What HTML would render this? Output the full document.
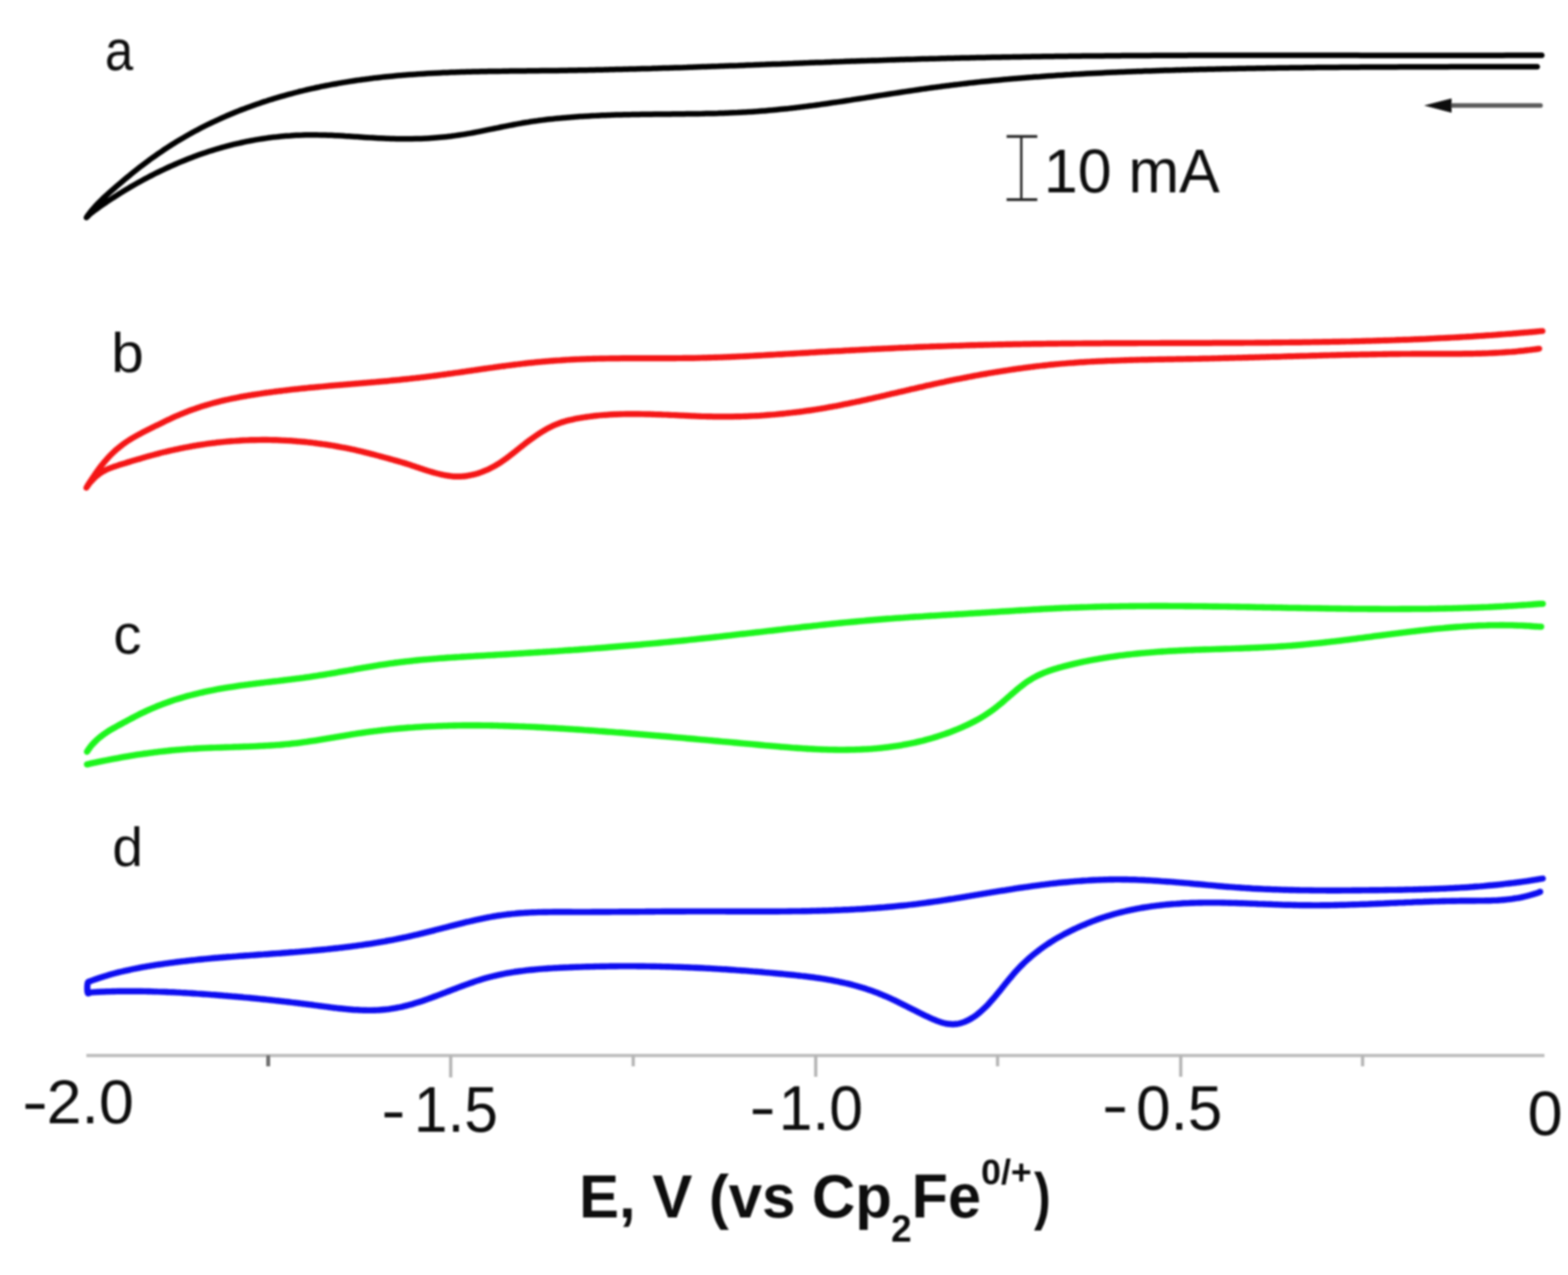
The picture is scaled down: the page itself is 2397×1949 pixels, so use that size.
<!DOCTYPE html>
<html><head><meta charset="utf-8"><title>CV figure</title>
<style>
html,body{margin:0;padding:0;background:#fff;}
body{width:2397px;height:1949px;overflow:hidden;}
svg{display:block;}
text{font-family:'Liberation Sans', Arial, sans-serif;}
</style></head>
<body>
<svg xmlns="http://www.w3.org/2000/svg" width="2397" height="1949" viewBox="0 0 2397 1949">
<defs><filter id="soft" x="-1%" y="-1%" width="102%" height="102%"><feGaussianBlur stdDeviation="1.6"/></filter></defs>
<rect x="0" y="0" width="2397" height="1949" fill="#ffffff"/>
<g filter="url(#soft)">
<!-- curves -->
<path d="M2357.0,84.5C2356.0,84.5 2353.0,84.5 2351.0,84.5C2349.0,84.5 2347.0,84.5 2345.0,84.5C2343.0,84.5 2341.0,84.5 2339.0,84.5C2337.0,84.5 2335.0,84.5 2333.0,84.6C2331.0,84.6 2329.0,84.6 2327.0,84.6C2325.0,84.6 2323.0,84.6 2321.0,84.6C2319.0,84.6 2317.0,84.6 2315.0,84.6C2313.0,84.6 2311.0,84.6 2309.0,84.6C2307.0,84.6 2305.0,84.6 2303.0,84.6C2301.0,84.7 2299.0,84.7 2297.0,84.7C2295.0,84.7 2293.0,84.7 2291.0,84.7C2289.0,84.7 2287.0,84.7 2285.0,84.7C2283.0,84.7 2281.0,84.7 2279.0,84.7C2277.0,84.7 2275.0,84.7 2273.0,84.7C2271.0,84.7 2269.0,84.7 2267.0,84.7C2265.0,84.7 2263.0,84.7 2261.0,84.7C2259.0,84.7 2257.0,84.7 2255.0,84.7C2253.0,84.7 2251.0,84.7 2249.1,84.7C2247.1,84.7 2245.1,84.7 2243.1,84.7C2241.1,84.7 2239.1,84.7 2237.1,84.7C2235.1,84.8 2233.1,84.8 2231.1,84.8C2229.1,84.8 2227.1,84.8 2225.1,84.8C2223.1,84.8 2221.1,84.8 2219.1,84.8C2217.1,84.8 2215.1,84.8 2213.1,84.8C2211.1,84.8 2209.1,84.8 2207.1,84.8C2205.1,84.8 2203.1,84.8 2201.1,84.8C2199.1,84.8 2197.1,84.8 2195.1,84.8C2193.1,84.8 2191.1,84.8 2189.1,84.8C2187.1,84.8 2185.1,84.8 2183.1,84.8C2181.1,84.8 2179.1,84.8 2177.1,84.8C2175.1,84.8 2173.1,84.8 2171.1,84.7C2169.1,84.7 2167.1,84.7 2165.1,84.7C2163.1,84.7 2161.1,84.7 2159.1,84.7C2157.1,84.7 2155.1,84.7 2153.1,84.7C2151.1,84.7 2149.1,84.7 2147.1,84.7C2145.1,84.7 2143.1,84.7 2141.1,84.7C2139.1,84.7 2137.1,84.7 2135.1,84.7C2133.1,84.7 2131.1,84.7 2129.1,84.7C2127.1,84.7 2125.1,84.7 2123.1,84.7C2121.1,84.7 2119.1,84.7 2117.1,84.7C2115.1,84.7 2113.1,84.7 2111.1,84.7C2109.1,84.7 2107.1,84.7 2105.1,84.7C2103.1,84.7 2101.1,84.7 2099.1,84.7C2097.1,84.7 2095.1,84.7 2093.1,84.7C2091.1,84.7 2089.1,84.7 2087.1,84.7C2085.1,84.7 2083.1,84.7 2081.1,84.7C2079.1,84.7 2077.1,84.7 2075.1,84.6C2073.1,84.6 2071.1,84.6 2069.1,84.6C2067.1,84.6 2065.1,84.6 2063.1,84.6C2061.1,84.6 2059.1,84.6 2057.1,84.6C2055.1,84.6 2053.1,84.6 2051.1,84.6C2049.1,84.6 2047.1,84.6 2045.1,84.6C2043.1,84.6 2041.1,84.6 2039.1,84.6C2037.1,84.6 2035.1,84.6 2033.1,84.6C2031.1,84.6 2029.1,84.6 2027.1,84.6C2025.2,84.6 2023.2,84.6 2021.2,84.6C2019.2,84.6 2017.2,84.6 2015.2,84.6C2013.2,84.6 2011.2,84.6 2009.2,84.6C2007.2,84.6 2005.2,84.6 2003.2,84.6C2001.2,84.6 1999.2,84.6 1997.2,84.5C1995.2,84.5 1993.2,84.5 1991.2,84.5C1989.2,84.5 1987.2,84.5 1985.2,84.5C1983.2,84.5 1981.2,84.5 1979.2,84.5C1977.2,84.5 1975.2,84.5 1973.2,84.5C1971.2,84.5 1969.2,84.5 1967.2,84.5C1965.2,84.5 1963.2,84.5 1961.2,84.5C1959.2,84.5 1957.2,84.5 1955.2,84.5C1953.2,84.5 1951.2,84.5 1949.2,84.5C1947.2,84.5 1945.2,84.5 1943.2,84.5C1941.2,84.5 1939.2,84.5 1937.2,84.5C1935.2,84.5 1933.2,84.5 1931.2,84.5C1929.2,84.5 1927.2,84.5 1925.2,84.5C1923.2,84.5 1921.2,84.5 1919.2,84.5C1917.2,84.5 1915.2,84.5 1913.2,84.5C1911.2,84.5 1909.2,84.5 1907.2,84.5C1905.2,84.5 1903.2,84.5 1901.2,84.5C1899.2,84.5 1897.2,84.5 1895.2,84.5C1893.2,84.5 1891.2,84.5 1889.2,84.5C1887.2,84.5 1885.2,84.5 1883.2,84.5C1881.2,84.5 1879.2,84.5 1877.2,84.5C1875.2,84.5 1873.2,84.5 1871.2,84.5C1869.2,84.5 1867.2,84.5 1865.2,84.5C1863.2,84.5 1861.2,84.5 1859.2,84.6C1857.2,84.6 1855.2,84.6 1853.2,84.6C1851.2,84.6 1849.2,84.6 1847.2,84.6C1845.2,84.6 1843.2,84.6 1841.2,84.6C1839.2,84.6 1837.2,84.6 1835.2,84.6C1833.2,84.6 1831.2,84.6 1829.2,84.6C1827.2,84.6 1825.2,84.6 1823.2,84.6C1821.2,84.6 1819.2,84.6 1817.2,84.6C1815.2,84.6 1813.2,84.7 1811.2,84.7C1809.2,84.7 1807.2,84.7 1805.2,84.7C1803.3,84.7 1801.3,84.7 1799.3,84.7C1797.3,84.7 1795.3,84.7 1793.3,84.7C1791.3,84.7 1789.3,84.7 1787.3,84.7C1785.3,84.7 1783.3,84.8 1781.3,84.8C1779.3,84.8 1777.3,84.8 1775.3,84.8C1773.3,84.8 1771.3,84.8 1769.3,84.8C1767.3,84.8 1765.3,84.8 1763.3,84.8C1761.3,84.9 1759.3,84.9 1757.3,84.9C1755.3,84.9 1753.3,84.9 1751.3,84.9C1749.3,84.9 1747.3,84.9 1745.3,84.9C1743.3,85.0 1741.3,85.0 1739.3,85.0C1737.3,85.0 1735.3,85.0 1733.3,85.0C1731.3,85.0 1729.3,85.0 1727.3,85.0C1725.3,85.1 1723.3,85.1 1721.3,85.1C1719.3,85.1 1717.3,85.1 1715.3,85.1C1713.3,85.1 1711.3,85.2 1709.3,85.2C1707.3,85.2 1705.3,85.2 1703.3,85.2C1701.3,85.2 1699.3,85.2 1697.3,85.3C1695.3,85.3 1693.3,85.3 1691.3,85.3C1689.3,85.3 1687.3,85.3 1685.3,85.4C1683.3,85.4 1681.3,85.4 1679.3,85.4C1677.3,85.4 1675.3,85.4 1673.3,85.5C1671.3,85.5 1669.3,85.5 1667.3,85.5C1665.3,85.5 1663.3,85.6 1661.3,85.6C1659.3,85.6 1657.3,85.6 1655.3,85.6C1653.3,85.7 1651.3,85.7 1649.3,85.7C1647.3,85.7 1645.3,85.7 1643.3,85.8C1641.3,85.8 1639.3,85.8 1637.3,85.8C1635.3,85.8 1633.3,85.9 1631.3,85.9C1629.3,85.9 1627.3,85.9 1625.3,86.0C1623.3,86.0 1621.3,86.0 1619.3,86.0C1617.3,86.1 1615.3,86.1 1613.3,86.1C1611.3,86.1 1609.3,86.2 1607.3,86.2C1605.3,86.2 1603.3,86.2 1601.3,86.3C1599.3,86.3 1597.3,86.3 1595.3,86.3C1593.3,86.4 1591.3,86.4 1589.3,86.4C1587.3,86.5 1585.3,86.5 1583.3,86.5C1581.3,86.5 1579.4,86.6 1577.4,86.6C1575.4,86.6 1573.4,86.7 1571.4,86.7C1569.4,86.7 1567.4,86.8 1565.4,86.8C1563.4,86.8 1561.4,86.8 1559.4,86.9C1557.4,86.9 1555.4,86.9 1553.4,87.0C1551.4,87.0 1549.4,87.0 1547.4,87.1C1545.4,87.1 1543.4,87.1 1541.4,87.2C1539.4,87.2 1537.4,87.3 1535.4,87.3C1533.4,87.3 1531.4,87.4 1529.4,87.4C1527.4,87.4 1525.4,87.5 1523.4,87.5C1521.4,87.5 1519.4,87.6 1517.4,87.6C1515.4,87.7 1513.4,87.7 1511.4,87.7C1509.4,87.8 1507.4,87.8 1505.4,87.9C1503.4,87.9 1501.4,87.9 1499.4,88.0C1497.4,88.0 1495.4,88.1 1493.4,88.1C1491.4,88.1 1489.4,88.2 1487.4,88.2C1485.4,88.3 1483.4,88.3 1481.4,88.4C1479.4,88.4 1477.4,88.4 1475.4,88.5C1473.4,88.5 1471.4,88.6 1469.4,88.6C1467.4,88.7 1465.4,88.7 1463.4,88.8C1461.4,88.8 1459.4,88.9 1457.4,88.9C1455.4,88.9 1453.4,89.0 1451.4,89.0C1449.4,89.1 1447.4,89.1 1445.4,89.2C1443.4,89.2 1441.4,89.3 1439.4,89.3C1437.4,89.4 1435.4,89.4 1433.4,89.5C1431.4,89.5 1429.4,89.6 1427.4,89.7C1425.4,89.7 1423.4,89.8 1421.4,89.8C1419.4,89.9 1417.4,89.9 1415.4,90.0C1413.4,90.0 1411.4,90.1 1409.4,90.1C1407.4,90.2 1405.4,90.3 1403.4,90.3C1401.4,90.4 1399.4,90.4 1397.4,90.5C1395.4,90.5 1393.4,90.6 1391.4,90.7C1389.4,90.7 1387.4,90.8 1385.4,90.8C1383.4,90.9 1381.4,91.0 1379.4,91.0C1377.4,91.1 1375.4,91.1 1373.4,91.2C1371.4,91.3 1369.4,91.3 1367.4,91.4C1365.4,91.5 1363.4,91.5 1361.4,91.6C1359.4,91.6 1357.5,91.7 1355.5,91.8C1353.5,91.8 1351.5,91.9 1349.5,92.0C1347.5,92.0 1345.5,92.1 1343.5,92.2C1341.5,92.2 1339.5,92.3 1337.5,92.4C1335.5,92.4 1333.5,92.5 1331.5,92.6C1329.5,92.6 1327.5,92.7 1325.5,92.8C1323.5,92.8 1321.5,92.9 1319.5,93.0C1317.5,93.1 1315.5,93.1 1313.5,93.2C1311.5,93.3 1309.5,93.3 1307.5,93.4C1305.5,93.5 1303.5,93.5 1301.5,93.6C1299.5,93.7 1297.5,93.8 1295.5,93.8C1293.5,93.9 1291.5,94.0 1289.5,94.1C1287.5,94.1 1285.5,94.2 1283.5,94.3C1281.5,94.3 1279.5,94.4 1277.5,94.5C1275.5,94.6 1273.5,94.6 1271.5,94.7C1269.5,94.8 1267.5,94.9 1265.5,94.9C1263.5,95.0 1261.5,95.1 1259.5,95.2C1257.5,95.2 1255.5,95.3 1253.5,95.4C1251.5,95.5 1249.5,95.5 1247.5,95.6C1245.5,95.7 1243.5,95.8 1241.5,95.8C1239.5,95.9 1237.5,96.0 1235.5,96.1C1233.5,96.1 1231.5,96.2 1229.5,96.3C1227.5,96.4 1225.5,96.4 1223.5,96.5C1221.5,96.6 1219.5,96.7 1217.5,96.7C1215.5,96.8 1213.5,96.9 1211.5,97.0C1209.5,97.0 1207.5,97.1 1205.5,97.2C1203.5,97.3 1201.5,97.4 1199.5,97.4C1197.5,97.5 1195.5,97.6 1193.5,97.7C1191.5,97.7 1189.5,97.8 1187.5,97.9C1185.5,98.0 1183.5,98.0 1181.5,98.1C1179.5,98.2 1177.5,98.3 1175.5,98.3C1173.5,98.4 1171.5,98.5 1169.5,98.6C1167.5,98.6 1165.5,98.7 1163.5,98.8C1161.5,98.9 1159.5,99.0 1157.5,99.0C1155.5,99.1 1153.5,99.2 1151.5,99.3C1149.5,99.3 1147.5,99.4 1145.5,99.5C1143.5,99.6 1141.5,99.6 1139.5,99.7C1137.5,99.8 1135.5,99.9 1133.6,99.9C1131.6,100.0 1129.6,100.1 1127.6,100.2C1125.6,100.2 1123.6,100.3 1121.6,100.4C1119.6,100.5 1117.6,100.5 1115.6,100.6C1113.6,100.7 1111.6,100.8 1109.6,100.8C1107.6,100.9 1105.6,101.0 1103.6,101.0C1101.6,101.1 1099.6,101.2 1097.6,101.3C1095.6,101.3 1093.6,101.4 1091.6,101.5C1089.6,101.6 1087.6,101.6 1085.6,101.7C1083.6,101.8 1081.6,101.8 1079.6,101.9C1077.6,102.0 1075.6,102.1 1073.6,102.1C1071.6,102.2 1069.6,102.3 1067.6,102.3C1065.6,102.4 1063.6,102.5 1061.6,102.5C1059.6,102.6 1057.6,102.7 1055.6,102.7C1053.6,102.8 1051.6,102.9 1049.6,103.0C1047.6,103.0 1045.6,103.1 1043.6,103.2C1041.6,103.2 1039.6,103.3 1037.6,103.4C1035.6,103.4 1033.6,103.5 1031.6,103.5C1029.6,103.6 1027.6,103.7 1025.6,103.7C1023.6,103.8 1021.6,103.9 1019.6,103.9C1017.6,104.0 1015.6,104.1 1013.6,104.1C1011.6,104.2 1009.6,104.2 1007.6,104.3C1005.6,104.4 1003.6,104.4 1001.6,104.5C999.6,104.6 997.6,104.6 995.6,104.7C993.6,104.7 991.6,104.8 989.6,104.9C987.6,104.9 985.6,105.0 983.6,105.0C981.6,105.1 979.6,105.1 977.6,105.2C975.6,105.3 973.6,105.3 971.6,105.4C969.6,105.4 967.6,105.5 965.6,105.5C963.6,105.6 961.6,105.6 959.6,105.7C957.6,105.7 955.6,105.8 953.6,105.8C951.6,105.9 949.6,105.9 947.6,106.0C945.6,106.0 943.6,106.1 941.6,106.1C939.6,106.2 937.6,106.2 935.6,106.3C933.6,106.3 931.6,106.4 929.6,106.4C927.6,106.5 925.6,106.5 923.6,106.6C921.6,106.6 919.6,106.7 917.6,106.7C915.6,106.7 913.6,106.8 911.7,106.8C909.7,106.9 907.7,106.9 905.7,107.0C903.7,107.0 901.7,107.0 899.7,107.1C897.7,107.1 895.7,107.2 893.7,107.2C891.7,107.2 889.7,107.3 887.7,107.3C885.7,107.3 883.7,107.4 881.7,107.4C879.7,107.4 877.7,107.5 875.7,107.5C873.7,107.5 871.7,107.6 869.7,107.6C867.7,107.6 865.7,107.7 863.7,107.7C861.7,107.7 859.7,107.8 857.7,107.8C855.7,107.8 853.7,107.8 851.7,107.9C849.7,107.9 847.7,107.9 845.7,107.9C843.7,108.0 841.7,108.0 839.7,108.0C837.7,108.0 835.7,108.1 833.7,108.1C831.7,108.1 829.7,108.1 827.7,108.1C825.7,108.2 823.7,108.2 821.7,108.2C819.7,108.2 817.7,108.2 815.7,108.3C813.7,108.3 811.7,108.3 809.7,108.3C807.7,108.3 805.7,108.4 803.7,108.4C801.7,108.4 799.7,108.4 797.7,108.4C795.7,108.5 793.7,108.5 791.7,108.5C789.7,108.5 787.7,108.5 785.7,108.6C783.7,108.6 781.7,108.6 779.7,108.6C777.7,108.6 775.7,108.7 773.7,108.7C771.7,108.7 769.7,108.7 767.7,108.8C765.7,108.8 763.7,108.8 761.7,108.9C759.7,108.9 757.7,108.9 755.7,108.9C753.7,109.0 751.7,109.0 749.7,109.0C747.7,109.1 745.7,109.1 743.7,109.2C741.7,109.2 739.7,109.2 737.7,109.3C735.7,109.3 733.7,109.4 731.7,109.4C729.7,109.4 727.7,109.5 725.7,109.5C723.7,109.6 721.7,109.6 719.7,109.7C717.7,109.7 715.7,109.8 713.7,109.8C711.7,109.9 709.7,110.0 707.7,110.0C705.7,110.1 703.7,110.1 701.7,110.2C699.7,110.3 697.7,110.3 695.7,110.4C693.7,110.5 691.7,110.6 689.7,110.6C687.8,110.7 685.8,110.8 683.8,110.9C681.8,110.9 679.8,111.0 677.8,111.1C675.8,111.2 673.8,111.3 671.8,111.4C669.8,111.5 667.8,111.6 665.8,111.7C663.8,111.8 661.8,111.9 659.8,112.0C657.8,112.1 655.8,112.2 653.8,112.3C651.8,112.4 649.8,112.6 647.8,112.7C645.8,112.8 643.8,112.9 641.8,113.1C639.8,113.2 637.8,113.3 635.8,113.5C633.8,113.6 631.8,113.7 629.8,113.9C627.8,114.0 625.8,114.2 623.8,114.3C621.8,114.5 619.8,114.6 617.8,114.8C615.8,115.0 613.8,115.1 611.8,115.3C609.8,115.5 607.8,115.7 605.8,115.8C603.8,116.0 601.8,116.2 599.8,116.4C597.8,116.6 595.8,116.8 593.8,117.0C591.8,117.2 589.8,117.4 587.8,117.6C585.8,117.8 583.8,118.0 581.8,118.3C579.8,118.5 577.8,118.7 575.8,118.9C573.8,119.2 571.8,119.4 569.8,119.6C567.8,119.9 565.8,120.1 563.8,120.4C561.8,120.6 559.8,120.9 557.8,121.2C555.8,121.4 553.8,121.7 551.8,122.0C549.8,122.3 547.8,122.5 545.8,122.8C543.8,123.1 541.8,123.4 539.8,123.7C537.8,124.0 535.8,124.3 533.8,124.6C531.8,125.0 529.8,125.3 527.8,125.6C525.8,125.9 523.8,126.3 521.8,126.6C519.8,127.0 517.8,127.3 515.8,127.7C513.8,128.0 511.8,128.4 509.8,128.7C507.8,129.1 505.8,129.5 503.8,129.9C501.8,130.2 499.8,130.6 497.8,131.0C495.8,131.4 493.8,131.8 491.8,132.2C489.8,132.6 487.8,133.1 485.8,133.5C483.8,133.9 481.8,134.3 479.8,134.8C477.8,135.2 475.8,135.7 473.8,136.1C471.8,136.6 469.8,137.1 467.8,137.5C465.9,138.0 463.9,138.5 461.9,139.0C459.9,139.5 457.9,139.9 455.9,140.5C453.9,141.0 451.9,141.5 449.9,142.0C447.9,142.5 445.9,143.0 443.9,143.6C441.9,144.1 439.9,144.7 437.9,145.2C435.9,145.8 433.9,146.3 431.9,146.9C429.9,147.5 427.9,148.1 425.9,148.6C423.9,149.2 421.9,149.8 419.9,150.4C417.9,151.0 415.9,151.7 413.9,152.3C411.9,152.9 409.9,153.5 407.9,154.2C405.9,154.8 403.9,155.5 401.9,156.1C399.9,156.8 397.9,157.5 395.9,158.2C393.9,158.8 391.9,159.5 389.9,160.2C387.9,160.9 385.9,161.6 383.9,162.4C381.9,163.1 379.9,163.8 377.9,164.6C375.9,165.3 373.9,166.1 371.9,166.8C369.9,167.6 367.9,168.4 365.9,169.1C363.9,169.9 361.9,170.7 359.9,171.5C357.9,172.3 355.9,173.2 353.9,174.0C351.9,174.8 349.9,175.7 347.9,176.5C345.9,177.4 343.9,178.2 341.9,179.1C339.9,180.0 337.9,180.9 335.9,181.8C333.9,182.7 331.9,183.6 329.9,184.6C327.9,185.5 325.9,186.4 323.9,187.4C321.9,188.3 319.9,189.3 317.9,190.3C315.9,191.3 313.9,192.3 311.9,193.3C309.9,194.3 307.9,195.3 305.9,196.4C303.9,197.4 301.9,198.5 299.9,199.5C297.9,200.6 295.9,201.7 293.9,202.8C291.9,203.9 289.9,205.0 287.9,206.1C285.9,207.3 283.9,208.4 281.9,209.6C279.9,210.7 277.9,211.9 275.9,213.1C273.9,214.3 271.9,215.5 269.9,216.7C267.9,217.9 265.9,219.2 263.9,220.4C261.9,221.7 259.9,222.9 257.9,224.2C255.9,225.5 253.9,226.8 251.9,228.1C249.9,229.5 247.9,230.8 245.9,232.2C243.9,233.5 242.0,234.9 240.0,236.3C238.0,237.7 236.0,239.1 234.0,240.5C232.0,241.9 230.0,243.4 228.0,244.8C226.0,246.3 224.0,247.8 222.0,249.3C220.0,250.8 218.0,252.3 216.0,253.8C214.0,255.4 212.0,256.9 210.0,258.5C208.0,260.1 206.0,261.7 204.0,263.3C202.0,264.9 200.0,266.5 198.0,268.2C196.0,269.8 194.0,271.5 192.0,273.1C190.0,274.8 188.0,276.5 186.0,278.2C184.0,279.9 182.0,281.6 180.0,283.3C178.0,285.0 176.0,286.7 174.0,288.5C172.0,290.2 170.0,291.9 168.0,293.7C166.0,295.5 164.0,297.3 162.0,299.1C160.0,301.0 158.0,302.8 156.0,304.8C154.0,306.7 152.0,308.7 150.0,310.8C148.0,312.9 146.0,315.0 144.0,317.3C142.0,319.5 140.0,321.7 138.0,324.3C136.0,326.8 132.0,332.1 132.0,332.5C132.0,332.9 136.0,328.5 138.0,326.8C140.0,325.0 142.0,323.7 144.0,322.2C146.0,320.8 148.0,319.3 150.0,317.9C152.0,316.4 154.0,315.0 156.0,313.6C158.0,312.2 160.0,310.9 162.0,309.5C164.0,308.1 166.0,306.8 168.0,305.5C170.0,304.2 172.0,302.9 174.0,301.6C176.0,300.3 178.0,299.0 180.0,297.8C182.0,296.5 184.0,295.3 186.0,294.0C187.9,292.8 189.9,291.6 191.9,290.4C193.9,289.2 195.9,288.0 197.9,286.8C199.9,285.6 201.9,284.5 203.9,283.3C205.9,282.2 207.9,281.0 209.9,279.9C211.9,278.8 213.9,277.7 215.9,276.6C217.9,275.5 219.9,274.4 221.9,273.3C223.9,272.2 225.9,271.2 227.9,270.1C229.9,269.1 231.9,268.1 233.9,267.1C235.9,266.0 237.9,265.0 239.9,264.0C241.9,263.1 243.9,262.1 245.9,261.1C247.9,260.1 249.9,259.2 251.9,258.3C253.9,257.3 255.9,256.4 257.9,255.5C259.9,254.6 261.9,253.7 263.9,252.8C265.9,251.9 267.9,251.0 269.9,250.2C271.9,249.3 273.9,248.5 275.9,247.6C277.9,246.8 279.9,246.0 281.9,245.2C283.9,244.4 285.9,243.6 287.9,242.8C289.9,242.0 291.9,241.2 293.9,240.5C295.9,239.7 297.9,239.0 299.8,238.3C301.8,237.5 303.8,236.8 305.8,236.1C307.8,235.4 309.8,234.7 311.8,234.0C313.8,233.4 315.8,232.7 317.8,232.0C319.8,231.4 321.8,230.7 323.8,230.1C325.8,229.5 327.8,228.9 329.8,228.3C331.8,227.7 333.8,227.1 335.8,226.5C337.8,225.9 339.8,225.4 341.8,224.8C343.8,224.2 345.8,223.7 347.8,223.2C349.8,222.7 351.8,222.1 353.8,221.6C355.8,221.1 357.8,220.6 359.8,220.2C361.8,219.7 363.8,219.2 365.8,218.8C367.8,218.3 369.8,217.9 371.8,217.5C373.8,217.0 375.8,216.6 377.8,216.2C379.8,215.8 381.8,215.4 383.8,215.0C385.8,214.7 387.8,214.3 389.8,213.9C391.8,213.6 393.8,213.2 395.8,212.9C397.8,212.6 399.8,212.3 401.8,212.0C403.8,211.7 405.8,211.4 407.8,211.1C409.7,210.8 411.7,210.5 413.7,210.3C415.7,210.0 417.7,209.8 419.7,209.6C421.7,209.3 423.7,209.1 425.7,208.9C427.7,208.7 429.7,208.5 431.7,208.3C433.7,208.1 435.7,208.0 437.7,207.8C439.7,207.6 441.7,207.5 443.7,207.4C445.7,207.2 447.7,207.1 449.7,207.0C451.7,206.9 453.7,206.8 455.7,206.7C457.7,206.6 459.7,206.5 461.7,206.5C463.7,206.4 465.7,206.3 467.7,206.3C469.7,206.3 471.7,206.2 473.7,206.2C475.7,206.2 477.7,206.2 479.7,206.2C481.7,206.2 483.7,206.2 485.7,206.3C487.7,206.3 489.7,206.3 491.7,206.4C493.7,206.4 495.7,206.5 497.7,206.5C499.7,206.6 501.7,206.7 503.7,206.7C505.7,206.8 507.7,206.9 509.7,207.0C511.7,207.1 513.7,207.2 515.7,207.3C517.7,207.4 519.7,207.5 521.6,207.6C523.6,207.7 525.6,207.8 527.6,208.0C529.6,208.1 531.6,208.2 533.6,208.3C535.6,208.5 537.6,208.6 539.6,208.7C541.6,208.8 543.6,209.0 545.6,209.1C547.6,209.2 549.6,209.4 551.6,209.5C553.6,209.6 555.6,209.8 557.6,209.9C559.6,210.0 561.6,210.1 563.6,210.3C565.6,210.4 567.6,210.5 569.6,210.6C571.6,210.8 573.6,210.9 575.6,211.0C577.6,211.1 579.6,211.2 581.6,211.3C583.6,211.4 585.6,211.5 587.6,211.6C589.6,211.7 591.6,211.7 593.6,211.8C595.6,211.9 597.6,212.0 599.6,212.0C601.6,212.1 603.6,212.1 605.6,212.2C607.6,212.2 609.6,212.2 611.6,212.3C613.6,212.3 615.6,212.3 617.6,212.3C619.6,212.3 621.6,212.3 623.6,212.3C625.6,212.3 627.6,212.3 629.6,212.2C631.6,212.2 633.5,212.2 635.5,212.1C637.5,212.1 639.5,212.0 641.5,211.9C643.5,211.9 645.5,211.8 647.5,211.7C649.5,211.6 651.5,211.5 653.5,211.4C655.5,211.3 657.5,211.2 659.5,211.0C661.5,210.9 663.5,210.8 665.5,210.6C667.5,210.4 669.5,210.3 671.5,210.1C673.5,209.9 675.5,209.7 677.5,209.5C679.5,209.3 681.5,209.1 683.5,208.9C685.5,208.7 687.5,208.4 689.5,208.2C691.5,207.9 693.5,207.7 695.5,207.4C697.5,207.1 699.5,206.8 701.5,206.5C703.5,206.2 705.5,205.9 707.5,205.6C709.5,205.3 711.5,205.0 713.5,204.6C715.5,204.3 717.5,203.9 719.5,203.6C721.5,203.2 723.5,202.8 725.5,202.5C727.5,202.1 729.5,201.7 731.5,201.3C733.5,200.9 735.5,200.5 737.5,200.1C739.5,199.7 741.5,199.3 743.4,198.9C745.4,198.5 747.4,198.1 749.4,197.7C751.4,197.3 753.4,196.9 755.4,196.5C757.4,196.1 759.4,195.7 761.4,195.3C763.4,194.8 765.4,194.4 767.4,194.0C769.4,193.6 771.4,193.2 773.4,192.8C775.4,192.4 777.4,192.0 779.4,191.6C781.4,191.3 783.4,190.9 785.4,190.5C787.4,190.1 789.4,189.7 791.4,189.4C793.4,189.0 795.4,188.7 797.4,188.3C799.4,188.0 801.4,187.6 803.4,187.3C805.4,187.0 807.4,186.7 809.4,186.3C811.4,186.0 813.4,185.7 815.4,185.4C817.4,185.1 819.4,184.9 821.4,184.6C823.4,184.3 825.4,184.0 827.4,183.8C829.4,183.5 831.4,183.3 833.4,183.0C835.4,182.8 837.4,182.6 839.4,182.3C841.4,182.1 843.4,181.9 845.4,181.7C847.4,181.4 849.4,181.2 851.4,181.0C853.4,180.8 855.3,180.6 857.3,180.5C859.3,180.3 861.3,180.1 863.3,179.9C865.3,179.7 867.3,179.6 869.3,179.4C871.3,179.2 873.3,179.1 875.3,178.9C877.3,178.8 879.3,178.6 881.3,178.5C883.3,178.4 885.3,178.2 887.3,178.1C889.3,178.0 891.3,177.8 893.3,177.7C895.3,177.6 897.3,177.5 899.3,177.4C901.3,177.3 903.3,177.1 905.3,177.0C907.3,176.9 909.3,176.8 911.3,176.8C913.3,176.7 915.3,176.6 917.3,176.5C919.3,176.4 921.3,176.3 923.3,176.2C925.3,176.2 927.3,176.1 929.3,176.0C931.3,175.9 933.3,175.9 935.3,175.8C937.3,175.8 939.3,175.7 941.3,175.6C943.3,175.6 945.3,175.5 947.3,175.5C949.3,175.4 951.3,175.4 953.3,175.3C955.3,175.3 957.3,175.2 959.3,175.2C961.3,175.2 963.3,175.1 965.2,175.1C967.2,175.0 969.2,175.0 971.2,175.0C973.2,174.9 975.2,174.9 977.2,174.9C979.2,174.9 981.2,174.8 983.2,174.8C985.2,174.8 987.2,174.8 989.2,174.7C991.2,174.7 993.2,174.7 995.2,174.7C997.2,174.6 999.2,174.6 1001.2,174.6C1003.2,174.6 1005.2,174.6 1007.2,174.5C1009.2,174.5 1011.2,174.5 1013.2,174.5C1015.2,174.5 1017.2,174.4 1019.2,174.4C1021.2,174.4 1023.2,174.4 1025.2,174.4C1027.2,174.4 1029.2,174.3 1031.2,174.3C1033.2,174.3 1035.2,174.3 1037.2,174.3C1039.2,174.2 1041.2,174.2 1043.2,174.2C1045.2,174.2 1047.2,174.1 1049.2,174.1C1051.2,174.1 1053.2,174.1 1055.2,174.0C1057.2,174.0 1059.2,174.0 1061.2,174.0C1063.2,173.9 1065.2,173.9 1067.2,173.9C1069.2,173.8 1071.2,173.8 1073.2,173.8C1075.2,173.7 1077.1,173.7 1079.1,173.6C1081.1,173.6 1083.1,173.6 1085.1,173.5C1087.1,173.5 1089.1,173.4 1091.1,173.4C1093.1,173.3 1095.1,173.2 1097.1,173.2C1099.1,173.1 1101.1,173.1 1103.1,173.0C1105.1,172.9 1107.1,172.9 1109.1,172.8C1111.1,172.7 1113.1,172.7 1115.1,172.6C1117.1,172.5 1119.1,172.4 1121.1,172.3C1123.1,172.2 1125.1,172.1 1127.1,172.1C1129.1,172.0 1131.1,171.9 1133.1,171.8C1135.1,171.7 1137.1,171.5 1139.1,171.4C1141.1,171.3 1143.1,171.2 1145.1,171.1C1147.1,171.0 1149.1,170.8 1151.1,170.7C1153.1,170.6 1155.1,170.4 1157.1,170.3C1159.1,170.1 1161.1,170.0 1163.1,169.8C1165.1,169.7 1167.1,169.5 1169.1,169.4C1171.1,169.2 1173.1,169.0 1175.1,168.8C1177.1,168.7 1179.1,168.5 1181.1,168.3C1183.1,168.1 1185.1,167.9 1187.0,167.7C1189.0,167.5 1191.0,167.3 1193.0,167.1C1195.0,166.9 1197.0,166.7 1199.0,166.5C1201.0,166.3 1203.0,166.1 1205.0,165.9C1207.0,165.6 1209.0,165.4 1211.0,165.2C1213.0,165.0 1215.0,164.7 1217.0,164.5C1219.0,164.3 1221.0,164.0 1223.0,163.8C1225.0,163.5 1227.0,163.3 1229.0,163.0C1231.0,162.8 1233.0,162.5 1235.0,162.3C1237.0,162.0 1239.0,161.7 1241.0,161.5C1243.0,161.2 1245.0,161.0 1247.0,160.7C1249.0,160.4 1251.0,160.1 1253.0,159.9C1255.0,159.6 1257.0,159.3 1259.0,159.0C1261.0,158.8 1263.0,158.5 1265.0,158.2C1267.0,157.9 1269.0,157.6 1271.0,157.3C1273.0,157.0 1275.0,156.7 1277.0,156.4C1279.0,156.2 1281.0,155.9 1283.0,155.6C1285.0,155.3 1287.0,155.0 1289.0,154.7C1291.0,154.4 1293.0,154.1 1295.0,153.8C1297.0,153.5 1298.9,153.2 1300.9,152.9C1302.9,152.5 1304.9,152.2 1306.9,151.9C1308.9,151.6 1310.9,151.3 1312.9,151.0C1314.9,150.7 1316.9,150.4 1318.9,150.1C1320.9,149.8 1322.9,149.5 1324.9,149.1C1326.9,148.8 1328.9,148.5 1330.9,148.2C1332.9,147.9 1334.9,147.6 1336.9,147.3C1338.9,147.0 1340.9,146.6 1342.9,146.3C1344.9,146.0 1346.9,145.7 1348.9,145.4C1350.9,145.1 1352.9,144.8 1354.9,144.5C1356.9,144.2 1358.9,143.8 1360.9,143.5C1362.9,143.2 1364.9,142.9 1366.9,142.6C1368.9,142.3 1370.9,142.0 1372.9,141.7C1374.9,141.4 1376.9,141.1 1378.9,140.8C1380.9,140.5 1382.9,140.2 1384.9,139.9C1386.9,139.6 1388.9,139.3 1390.9,139.0C1392.9,138.7 1394.9,138.4 1396.9,138.1C1398.9,137.8 1400.9,137.5 1402.9,137.2C1404.9,136.9 1406.9,136.6 1408.8,136.3C1410.8,136.0 1412.8,135.8 1414.8,135.5C1416.8,135.2 1418.8,134.9 1420.8,134.6C1422.8,134.4 1424.8,134.1 1426.8,133.8C1428.8,133.5 1430.8,133.3 1432.8,133.0C1434.8,132.7 1436.8,132.5 1438.8,132.2C1440.8,131.9 1442.8,131.7 1444.8,131.4C1446.8,131.2 1448.8,130.9 1450.8,130.7C1452.8,130.4 1454.8,130.2 1456.8,129.9C1458.8,129.7 1460.8,129.4 1462.8,129.2C1464.8,129.0 1466.8,128.7 1468.8,128.5C1470.8,128.3 1472.8,128.0 1474.8,127.8C1476.8,127.6 1478.8,127.3 1480.8,127.1C1482.8,126.9 1484.8,126.7 1486.8,126.4C1488.8,126.2 1490.8,126.0 1492.8,125.8C1494.8,125.6 1496.8,125.4 1498.8,125.1C1500.8,124.9 1502.8,124.7 1504.8,124.5C1506.8,124.3 1508.8,124.1 1510.8,123.9C1512.8,123.7 1514.8,123.5 1516.8,123.3C1518.8,123.1 1520.7,122.9 1522.7,122.7C1524.7,122.5 1526.7,122.4 1528.7,122.2C1530.7,122.0 1532.7,121.8 1534.7,121.6C1536.7,121.4 1538.7,121.2 1540.7,121.1C1542.7,120.9 1544.7,120.7 1546.7,120.5C1548.7,120.4 1550.7,120.2 1552.7,120.0C1554.7,119.8 1556.7,119.7 1558.7,119.5C1560.7,119.3 1562.7,119.2 1564.7,119.0C1566.7,118.8 1568.7,118.7 1570.7,118.5C1572.7,118.4 1574.7,118.2 1576.7,118.1C1578.7,117.9 1580.7,117.8 1582.7,117.6C1584.7,117.5 1586.7,117.3 1588.7,117.2C1590.7,117.0 1592.7,116.9 1594.7,116.7C1596.7,116.6 1598.7,116.4 1600.7,116.3C1602.7,116.2 1604.7,116.0 1606.7,115.9C1608.7,115.7 1610.7,115.6 1612.7,115.5C1614.7,115.3 1616.7,115.2 1618.7,115.1C1620.7,115.0 1622.7,114.8 1624.7,114.7C1626.7,114.6 1628.7,114.4 1630.7,114.3C1632.6,114.2 1634.6,114.1 1636.6,114.0C1638.6,113.8 1640.6,113.7 1642.6,113.6C1644.6,113.5 1646.6,113.4 1648.6,113.3C1650.6,113.1 1652.6,113.0 1654.6,112.9C1656.6,112.8 1658.6,112.7 1660.6,112.6C1662.6,112.5 1664.6,112.4 1666.6,112.3C1668.6,112.2 1670.6,112.1 1672.6,112.0C1674.6,111.9 1676.6,111.8 1678.6,111.7C1680.6,111.6 1682.6,111.5 1684.6,111.4C1686.6,111.3 1688.6,111.2 1690.6,111.1C1692.6,111.0 1694.6,110.9 1696.6,110.8C1698.6,110.7 1700.6,110.6 1702.6,110.5C1704.6,110.5 1706.6,110.4 1708.6,110.3C1710.6,110.2 1712.6,110.1 1714.6,110.0C1716.6,109.9 1718.6,109.9 1720.6,109.8C1722.6,109.7 1724.6,109.6 1726.6,109.5C1728.6,109.5 1730.6,109.4 1732.6,109.3C1734.6,109.2 1736.6,109.2 1738.6,109.1C1740.6,109.0 1742.5,108.9 1744.5,108.9C1746.5,108.8 1748.5,108.7 1750.5,108.6C1752.5,108.6 1754.5,108.5 1756.5,108.4C1758.5,108.4 1760.5,108.3 1762.5,108.2C1764.5,108.2 1766.5,108.1 1768.5,108.0C1770.5,108.0 1772.5,107.9 1774.5,107.8C1776.5,107.8 1778.5,107.7 1780.5,107.6C1782.5,107.6 1784.5,107.5 1786.5,107.5C1788.5,107.4 1790.5,107.3 1792.5,107.3C1794.5,107.2 1796.5,107.2 1798.5,107.1C1800.5,107.0 1802.5,107.0 1804.5,106.9C1806.5,106.9 1808.5,106.8 1810.5,106.8C1812.5,106.7 1814.5,106.7 1816.5,106.6C1818.5,106.6 1820.5,106.5 1822.5,106.4C1824.5,106.4 1826.5,106.3 1828.5,106.3C1830.5,106.2 1832.5,106.2 1834.5,106.1C1836.5,106.1 1838.5,106.0 1840.5,106.0C1842.5,105.9 1844.5,105.9 1846.5,105.8C1848.5,105.8 1850.5,105.8 1852.5,105.7C1854.4,105.7 1856.4,105.6 1858.4,105.6C1860.4,105.5 1862.4,105.5 1864.4,105.4C1866.4,105.4 1868.4,105.4 1870.4,105.3C1872.4,105.3 1874.4,105.2 1876.4,105.2C1878.4,105.1 1880.4,105.1 1882.4,105.1C1884.4,105.0 1886.4,105.0 1888.4,104.9C1890.4,104.9 1892.4,104.9 1894.4,104.8C1896.4,104.8 1898.4,104.8 1900.4,104.7C1902.4,104.7 1904.4,104.6 1906.4,104.6C1908.4,104.6 1910.4,104.5 1912.4,104.5C1914.4,104.5 1916.4,104.4 1918.4,104.4C1920.4,104.4 1922.4,104.3 1924.4,104.3C1926.4,104.3 1928.4,104.2 1930.4,104.2C1932.4,104.2 1934.4,104.1 1936.4,104.1C1938.4,104.1 1940.4,104.1 1942.4,104.0C1944.4,104.0 1946.4,104.0 1948.4,103.9C1950.4,103.9 1952.4,103.9 1954.4,103.8C1956.4,103.8 1958.4,103.8 1960.4,103.8C1962.4,103.7 1964.3,103.7 1966.3,103.7C1968.3,103.7 1970.3,103.6 1972.3,103.6C1974.3,103.6 1976.3,103.6 1978.3,103.5C1980.3,103.5 1982.3,103.5 1984.3,103.5C1986.3,103.4 1988.3,103.4 1990.3,103.4C1992.3,103.4 1994.3,103.4 1996.3,103.3C1998.3,103.3 2000.3,103.3 2002.3,103.3C2004.3,103.2 2006.3,103.2 2008.3,103.2C2010.3,103.2 2012.3,103.2 2014.3,103.1C2016.3,103.1 2018.3,103.1 2020.3,103.1C2022.3,103.1 2024.3,103.1 2026.3,103.0C2028.3,103.0 2030.3,103.0 2032.3,103.0C2034.3,103.0 2036.3,102.9 2038.3,102.9C2040.3,102.9 2042.3,102.9 2044.3,102.9C2046.3,102.9 2048.3,102.9 2050.3,102.8C2052.3,102.8 2054.3,102.8 2056.3,102.8C2058.3,102.8 2060.3,102.8 2062.3,102.8C2064.3,102.7 2066.3,102.7 2068.3,102.7C2070.3,102.7 2072.3,102.7 2074.3,102.7C2076.2,102.7 2078.2,102.6 2080.2,102.6C2082.2,102.6 2084.2,102.6 2086.2,102.6C2088.2,102.6 2090.2,102.6 2092.2,102.6C2094.2,102.6 2096.2,102.5 2098.2,102.5C2100.2,102.5 2102.2,102.5 2104.2,102.5C2106.2,102.5 2108.2,102.5 2110.2,102.5C2112.2,102.5 2114.2,102.5 2116.2,102.4C2118.2,102.4 2120.2,102.4 2122.2,102.4C2124.2,102.4 2126.2,102.4 2128.2,102.4C2130.2,102.4 2132.2,102.4 2134.2,102.4C2136.2,102.4 2138.2,102.4 2140.2,102.3C2142.2,102.3 2144.2,102.3 2146.2,102.3C2148.2,102.3 2150.2,102.3 2152.2,102.3C2154.2,102.3 2156.2,102.3 2158.2,102.3C2160.2,102.3 2162.2,102.3 2164.2,102.3C2166.2,102.3 2168.2,102.3 2170.2,102.2C2172.2,102.2 2174.2,102.2 2176.2,102.2C2178.2,102.2 2180.2,102.2 2182.2,102.2C2184.2,102.2 2186.1,102.2 2188.1,102.2C2190.1,102.2 2192.1,102.2 2194.1,102.2C2196.1,102.2 2198.1,102.2 2200.1,102.2C2202.1,102.2 2204.1,102.2 2206.1,102.2C2208.1,102.2 2210.1,102.2 2212.1,102.2C2214.1,102.1 2216.1,102.1 2218.1,102.1C2220.1,102.1 2222.1,102.1 2224.1,102.1C2226.1,102.1 2228.1,102.1 2230.1,102.1C2232.1,102.1 2234.1,102.1 2236.1,102.1C2238.1,102.1 2240.1,102.1 2242.1,102.1C2244.1,102.1 2246.1,102.1 2248.1,102.1C2250.1,102.1 2252.1,102.1 2254.1,102.1C2256.1,102.1 2258.1,102.1 2260.1,102.1C2262.1,102.1 2264.1,102.1 2266.1,102.1C2268.1,102.1 2270.1,102.1 2272.1,102.1C2274.1,102.0 2276.1,102.0 2278.1,102.0C2280.1,102.0 2282.1,102.0 2284.1,102.0C2286.1,102.0 2288.1,102.0 2290.1,102.0C2292.1,102.0 2294.1,102.0 2296.1,102.0C2298.0,102.0 2300.0,102.0 2302.0,102.0C2304.0,102.0 2306.0,102.0 2308.0,102.0C2310.0,102.0 2312.0,102.0 2314.0,102.0C2316.0,102.0 2318.0,102.0 2320.0,102.0C2322.0,102.0 2324.0,102.0 2326.0,102.0C2328.0,102.0 2330.0,102.0 2332.0,102.0C2334.0,101.9 2336.0,101.9 2338.0,101.9C2340.0,101.9 2342.0,101.9 2344.0,101.9C2346.0,101.9 2349.0,102.0 2350.0,102.0" fill="none" stroke="#060606" stroke-width="8.5" stroke-linecap="round" stroke-linejoin="round"/>
<path d="M2358.0,506.0C2357.0,506.1 2354.0,506.4 2352.0,506.5C2350.0,506.7 2348.0,506.9 2346.0,507.1C2344.0,507.3 2342.0,507.4 2340.1,507.6C2338.1,507.8 2336.1,507.9 2334.1,508.1C2332.1,508.3 2330.1,508.5 2328.1,508.6C2326.1,508.8 2324.1,509.0 2322.1,509.1C2320.1,509.3 2318.1,509.4 2316.1,509.6C2314.1,509.8 2312.1,509.9 2310.1,510.1C2308.1,510.2 2306.1,510.4 2304.1,510.5C2302.2,510.7 2300.2,510.8 2298.2,511.0C2296.2,511.1 2294.2,511.3 2292.2,511.4C2290.2,511.6 2288.2,511.7 2286.2,511.9C2284.2,512.0 2282.2,512.1 2280.2,512.3C2278.2,512.4 2276.2,512.6 2274.2,512.7C2272.2,512.8 2270.2,513.0 2268.2,513.1C2266.2,513.2 2264.3,513.4 2262.3,513.5C2260.3,513.6 2258.3,513.8 2256.3,513.9C2254.3,514.0 2252.3,514.1 2250.3,514.3C2248.3,514.4 2246.3,514.5 2244.3,514.6C2242.3,514.7 2240.3,514.9 2238.3,515.0C2236.3,515.1 2234.3,515.2 2232.3,515.3C2230.3,515.4 2228.4,515.5 2226.4,515.7C2224.4,515.8 2222.4,515.9 2220.4,516.0C2218.4,516.1 2216.4,516.2 2214.4,516.3C2212.4,516.4 2210.4,516.5 2208.4,516.6C2206.4,516.7 2204.4,516.8 2202.4,516.9C2200.4,517.0 2198.4,517.1 2196.4,517.2C2194.4,517.3 2192.4,517.4 2190.5,517.5C2188.5,517.6 2186.5,517.7 2184.5,517.8C2182.5,517.9 2180.5,518.0 2178.5,518.1C2176.5,518.1 2174.5,518.2 2172.5,518.3C2170.5,518.4 2168.5,518.5 2166.5,518.6C2164.5,518.7 2162.5,518.7 2160.5,518.8C2158.5,518.9 2156.5,519.0 2154.6,519.1C2152.6,519.1 2150.6,519.2 2148.6,519.3C2146.6,519.4 2144.6,519.4 2142.6,519.5C2140.6,519.6 2138.6,519.7 2136.6,519.7C2134.6,519.8 2132.6,519.9 2130.6,520.0C2128.6,520.0 2126.6,520.1 2124.6,520.2C2122.6,520.2 2120.6,520.3 2118.6,520.4C2116.7,520.4 2114.7,520.5 2112.7,520.5C2110.7,520.6 2108.7,520.7 2106.7,520.7C2104.7,520.8 2102.7,520.9 2100.7,520.9C2098.7,521.0 2096.7,521.0 2094.7,521.1C2092.7,521.1 2090.7,521.2 2088.7,521.2C2086.7,521.3 2084.7,521.4 2082.7,521.4C2080.7,521.5 2078.8,521.5 2076.8,521.6C2074.8,521.6 2072.8,521.7 2070.8,521.7C2068.8,521.8 2066.8,521.8 2064.8,521.9C2062.8,521.9 2060.8,521.9 2058.8,522.0C2056.8,522.0 2054.8,522.1 2052.8,522.1C2050.8,522.2 2048.8,522.2 2046.8,522.3C2044.8,522.3 2042.9,522.3 2040.9,522.4C2038.9,522.4 2036.9,522.5 2034.9,522.5C2032.9,522.5 2030.9,522.6 2028.9,522.6C2026.9,522.6 2024.9,522.7 2022.9,522.7C2020.9,522.7 2018.9,522.8 2016.9,522.8C2014.9,522.8 2012.9,522.9 2010.9,522.9C2008.9,522.9 2006.9,523.0 2005.0,523.0C2003.0,523.0 2001.0,523.1 1999.0,523.1C1997.0,523.1 1995.0,523.2 1993.0,523.2C1991.0,523.2 1989.0,523.2 1987.0,523.3C1985.0,523.3 1983.0,523.3 1981.0,523.3C1979.0,523.4 1977.0,523.4 1975.0,523.4C1973.0,523.4 1971.0,523.5 1969.1,523.5C1967.1,523.5 1965.1,523.5 1963.1,523.5C1961.1,523.6 1959.1,523.6 1957.1,523.6C1955.1,523.6 1953.1,523.6 1951.1,523.7C1949.1,523.7 1947.1,523.7 1945.1,523.7C1943.1,523.7 1941.1,523.8 1939.1,523.8C1937.1,523.8 1935.1,523.8 1933.1,523.8C1931.2,523.8 1929.2,523.9 1927.2,523.9C1925.2,523.9 1923.2,523.9 1921.2,523.9C1919.2,523.9 1917.2,523.9 1915.2,524.0C1913.2,524.0 1911.2,524.0 1909.2,524.0C1907.2,524.0 1905.2,524.0 1903.2,524.0C1901.2,524.0 1899.2,524.1 1897.2,524.1C1895.2,524.1 1893.3,524.1 1891.3,524.1C1889.3,524.1 1887.3,524.1 1885.3,524.1C1883.3,524.1 1881.3,524.1 1879.3,524.2C1877.3,524.2 1875.3,524.2 1873.3,524.2C1871.3,524.2 1869.3,524.2 1867.3,524.2C1865.3,524.2 1863.3,524.2 1861.3,524.2C1859.3,524.2 1857.4,524.2 1855.4,524.2C1853.4,524.3 1851.4,524.3 1849.4,524.3C1847.4,524.3 1845.4,524.3 1843.4,524.3C1841.4,524.3 1839.4,524.3 1837.4,524.3C1835.4,524.3 1833.4,524.3 1831.4,524.3C1829.4,524.3 1827.4,524.3 1825.4,524.3C1823.4,524.3 1821.4,524.3 1819.5,524.3C1817.5,524.4 1815.5,524.4 1813.5,524.4C1811.5,524.4 1809.5,524.4 1807.5,524.4C1805.5,524.4 1803.5,524.4 1801.5,524.4C1799.5,524.4 1797.5,524.4 1795.5,524.4C1793.5,524.4 1791.5,524.4 1789.5,524.4C1787.5,524.4 1785.5,524.4 1783.5,524.4C1781.6,524.4 1779.6,524.4 1777.6,524.4C1775.6,524.4 1773.6,524.5 1771.6,524.5C1769.6,524.5 1767.6,524.5 1765.6,524.5C1763.6,524.5 1761.6,524.5 1759.6,524.5C1757.6,524.5 1755.6,524.5 1753.6,524.5C1751.6,524.5 1749.6,524.5 1747.6,524.5C1745.7,524.5 1743.7,524.5 1741.7,524.5C1739.7,524.5 1737.7,524.5 1735.7,524.6C1733.7,524.6 1731.7,524.6 1729.7,524.6C1727.7,524.6 1725.7,524.6 1723.7,524.6C1721.7,524.6 1719.7,524.6 1717.7,524.6C1715.7,524.6 1713.7,524.6 1711.7,524.6C1709.7,524.6 1707.8,524.6 1705.8,524.7C1703.8,524.7 1701.8,524.7 1699.8,524.7C1697.8,524.7 1695.8,524.7 1693.8,524.7C1691.8,524.7 1689.8,524.7 1687.8,524.7C1685.8,524.7 1683.8,524.8 1681.8,524.8C1679.8,524.8 1677.8,524.8 1675.8,524.8C1673.8,524.8 1671.9,524.8 1669.9,524.8C1667.9,524.9 1665.9,524.9 1663.9,524.9C1661.9,524.9 1659.9,524.9 1657.9,524.9C1655.9,524.9 1653.9,524.9 1651.9,525.0C1649.9,525.0 1647.9,525.0 1645.9,525.0C1643.9,525.0 1641.9,525.0 1639.9,525.1C1637.9,525.1 1635.9,525.1 1634.0,525.1C1632.0,525.1 1630.0,525.1 1628.0,525.2C1626.0,525.2 1624.0,525.2 1622.0,525.2C1620.0,525.2 1618.0,525.3 1616.0,525.3C1614.0,525.3 1612.0,525.3 1610.0,525.3C1608.0,525.4 1606.0,525.4 1604.0,525.4C1602.0,525.4 1600.0,525.5 1598.0,525.5C1596.1,525.5 1594.1,525.5 1592.1,525.6C1590.1,525.6 1588.1,525.6 1586.1,525.6C1584.1,525.7 1582.1,525.7 1580.1,525.7C1578.1,525.8 1576.1,525.8 1574.1,525.8C1572.1,525.9 1570.1,525.9 1568.1,525.9C1566.1,525.9 1564.1,526.0 1562.1,526.0C1560.2,526.0 1558.2,526.1 1556.2,526.1C1554.2,526.1 1552.2,526.2 1550.2,526.2C1548.2,526.3 1546.2,526.3 1544.2,526.3C1542.2,526.4 1540.2,526.4 1538.2,526.4C1536.2,526.5 1534.2,526.5 1532.2,526.6C1530.2,526.6 1528.2,526.7 1526.2,526.7C1524.2,526.7 1522.3,526.8 1520.3,526.8C1518.3,526.9 1516.3,526.9 1514.3,527.0C1512.3,527.0 1510.3,527.1 1508.3,527.1C1506.3,527.2 1504.3,527.2 1502.3,527.3C1500.3,527.3 1498.3,527.4 1496.3,527.4C1494.3,527.5 1492.3,527.5 1490.3,527.6C1488.3,527.6 1486.4,527.7 1484.4,527.7C1482.4,527.8 1480.4,527.8 1478.4,527.9C1476.4,528.0 1474.4,528.0 1472.4,528.1C1470.4,528.1 1468.4,528.2 1466.4,528.3C1464.4,528.3 1462.4,528.4 1460.4,528.5C1458.4,528.5 1456.4,528.6 1454.4,528.7C1452.4,528.7 1450.4,528.8 1448.5,528.9C1446.5,528.9 1444.5,529.0 1442.5,529.1C1440.5,529.1 1438.5,529.2 1436.5,529.3C1434.5,529.4 1432.5,529.4 1430.5,529.5C1428.5,529.6 1426.5,529.7 1424.5,529.7C1422.5,529.8 1420.5,529.9 1418.5,530.0C1416.5,530.0 1414.5,530.1 1412.5,530.2C1410.6,530.3 1408.6,530.4 1406.6,530.4C1404.6,530.5 1402.6,530.6 1400.6,530.7C1398.6,530.8 1396.6,530.9 1394.6,531.0C1392.6,531.0 1390.6,531.1 1388.6,531.2C1386.6,531.3 1384.6,531.4 1382.6,531.5C1380.6,531.6 1378.6,531.7 1376.6,531.7C1374.7,531.8 1372.7,531.9 1370.7,532.0C1368.7,532.1 1366.7,532.2 1364.7,532.3C1362.7,532.4 1360.7,532.5 1358.7,532.6C1356.7,532.7 1354.7,532.8 1352.7,532.9C1350.7,533.0 1348.7,533.1 1346.7,533.2C1344.7,533.3 1342.7,533.4 1340.7,533.4C1338.7,533.5 1336.8,533.6 1334.8,533.7C1332.8,533.8 1330.8,533.9 1328.8,534.0C1326.8,534.2 1324.8,534.3 1322.8,534.4C1320.8,534.5 1318.8,534.6 1316.8,534.7C1314.8,534.8 1312.8,534.9 1310.8,535.0C1308.8,535.1 1306.8,535.2 1304.8,535.3C1302.8,535.4 1300.9,535.5 1298.9,535.6C1296.9,535.7 1294.9,535.8 1292.9,535.9C1290.9,536.0 1288.9,536.1 1286.9,536.3C1284.9,536.4 1282.9,536.5 1280.9,536.6C1278.9,536.7 1276.9,536.8 1274.9,536.9C1272.9,537.0 1270.9,537.1 1268.9,537.2C1266.9,537.4 1264.9,537.5 1263.0,537.6C1261.0,537.7 1259.0,537.8 1257.0,537.9C1255.0,538.0 1253.0,538.1 1251.0,538.2C1249.0,538.4 1247.0,538.5 1245.0,538.6C1243.0,538.7 1241.0,538.8 1239.0,538.9C1237.0,539.0 1235.0,539.2 1233.0,539.3C1231.0,539.4 1229.0,539.5 1227.0,539.6C1225.1,539.7 1223.1,539.8 1221.1,540.0C1219.1,540.1 1217.1,540.2 1215.1,540.3C1213.1,540.4 1211.1,540.5 1209.1,540.7C1207.1,540.8 1205.1,540.9 1203.1,541.0C1201.1,541.1 1199.1,541.2 1197.1,541.3C1195.1,541.5 1193.1,541.6 1191.1,541.7C1189.2,541.8 1187.2,541.9 1185.2,542.0C1183.2,542.2 1181.2,542.3 1179.2,542.4C1177.2,542.5 1175.2,542.6 1173.2,542.7C1171.2,542.8 1169.2,542.9 1167.2,543.0C1165.2,543.2 1163.2,543.3 1161.2,543.4C1159.2,543.5 1157.2,543.6 1155.2,543.7C1153.2,543.8 1151.3,543.9 1149.3,544.0C1147.3,544.1 1145.3,544.2 1143.3,544.3C1141.3,544.4 1139.3,544.5 1137.3,544.6C1135.3,544.7 1133.3,544.8 1131.3,544.9C1129.3,545.0 1127.3,545.1 1125.3,545.2C1123.3,545.3 1121.3,545.3 1119.3,545.4C1117.3,545.5 1115.4,545.6 1113.4,545.7C1111.4,545.8 1109.4,545.8 1107.4,545.9C1105.4,546.0 1103.4,546.1 1101.4,546.1C1099.4,546.2 1097.4,546.3 1095.4,546.4C1093.4,546.4 1091.4,546.5 1089.4,546.5C1087.4,546.6 1085.4,546.7 1083.4,546.7C1081.4,546.8 1079.4,546.8 1077.5,546.9C1075.5,546.9 1073.5,547.0 1071.5,547.0C1069.5,547.1 1067.5,547.1 1065.5,547.2C1063.5,547.2 1061.5,547.2 1059.5,547.3C1057.5,547.3 1055.5,547.3 1053.5,547.4C1051.5,547.4 1049.5,547.4 1047.5,547.4C1045.5,547.4 1043.5,547.5 1041.5,547.5C1039.6,547.5 1037.6,547.5 1035.6,547.5C1033.6,547.5 1031.6,547.6 1029.6,547.6C1027.6,547.6 1025.6,547.6 1023.6,547.6C1021.6,547.6 1019.6,547.6 1017.6,547.6C1015.6,547.6 1013.6,547.6 1011.6,547.6C1009.6,547.6 1007.6,547.6 1005.6,547.6C1003.7,547.6 1001.7,547.6 999.7,547.6C997.7,547.6 995.7,547.6 993.7,547.6C991.7,547.6 989.7,547.6 987.7,547.6C985.7,547.6 983.7,547.6 981.7,547.6C979.7,547.6 977.7,547.6 975.7,547.6C973.7,547.6 971.7,547.6 969.7,547.6C967.7,547.6 965.8,547.6 963.8,547.7C961.8,547.7 959.8,547.7 957.8,547.7C955.8,547.7 953.8,547.7 951.8,547.7C949.8,547.7 947.8,547.7 945.8,547.8C943.8,547.8 941.8,547.8 939.8,547.8C937.8,547.8 935.8,547.9 933.8,547.9C931.8,547.9 929.9,547.9 927.9,548.0C925.9,548.0 923.9,548.0 921.9,548.1C919.9,548.1 917.9,548.1 915.9,548.2C913.9,548.2 911.9,548.3 909.9,548.3C907.9,548.4 905.9,548.4 903.9,548.5C901.9,548.6 899.9,548.6 897.9,548.7C895.9,548.8 893.9,548.8 892.0,548.9C890.0,549.0 888.0,549.1 886.0,549.1C884.0,549.2 882.0,549.3 880.0,549.4C878.0,549.5 876.0,549.6 874.0,549.7C872.0,549.8 870.0,549.9 868.0,550.0C866.0,550.1 864.0,550.3 862.0,550.4C860.0,550.5 858.0,550.6 856.0,550.8C854.1,550.9 852.1,551.1 850.1,551.2C848.1,551.3 846.1,551.5 844.1,551.6C842.1,551.8 840.1,552.0 838.1,552.1C836.1,552.3 834.1,552.5 832.1,552.6C830.1,552.8 828.1,553.0 826.1,553.2C824.1,553.3 822.1,553.5 820.1,553.7C818.2,553.9 816.2,554.1 814.2,554.3C812.2,554.5 810.2,554.7 808.2,554.9C806.2,555.2 804.2,555.4 802.2,555.6C800.2,555.8 798.2,556.0 796.2,556.3C794.2,556.5 792.2,556.7 790.2,557.0C788.2,557.2 786.2,557.5 784.2,557.7C782.2,558.0 780.3,558.2 778.3,558.5C776.3,558.7 774.3,559.0 772.3,559.3C770.3,559.5 768.3,559.8 766.3,560.0C764.3,560.3 762.3,560.6 760.3,560.9C758.3,561.1 756.3,561.4 754.3,561.7C752.3,562.0 750.3,562.3 748.3,562.5C746.3,562.8 744.4,563.1 742.4,563.4C740.4,563.7 738.4,564.0 736.4,564.2C734.4,564.5 732.4,564.8 730.4,565.1C728.4,565.4 726.4,565.7 724.4,566.0C722.4,566.3 720.4,566.6 718.4,566.9C716.4,567.1 714.4,567.4 712.4,567.7C710.4,568.0 708.4,568.3 706.5,568.6C704.5,568.9 702.5,569.2 700.5,569.5C698.5,569.7 696.5,570.0 694.5,570.3C692.5,570.6 690.5,570.9 688.5,571.2C686.5,571.4 684.5,571.7 682.5,572.0C680.5,572.3 678.5,572.5 676.5,572.8C674.5,573.1 672.5,573.4 670.5,573.6C668.6,573.9 666.6,574.2 664.6,574.4C662.6,574.7 660.6,574.9 658.6,575.2C656.6,575.4 654.6,575.7 652.6,575.9C650.6,576.2 648.6,576.4 646.6,576.7C644.6,576.9 642.6,577.1 640.6,577.4C638.6,577.6 636.6,577.8 634.6,578.0C632.7,578.3 630.7,578.5 628.7,578.7C626.7,578.9 624.7,579.1 622.7,579.3C620.7,579.5 618.7,579.7 616.7,579.9C614.7,580.2 612.7,580.4 610.7,580.6C608.7,580.7 606.7,580.9 604.7,581.1C602.7,581.3 600.7,581.5 598.7,581.7C596.7,581.9 594.8,582.1 592.8,582.3C590.8,582.4 588.8,582.6 586.8,582.8C584.8,583.0 582.8,583.2 580.8,583.3C578.8,583.5 576.8,583.7 574.8,583.9C572.8,584.0 570.8,584.2 568.8,584.4C566.8,584.6 564.8,584.7 562.8,584.9C560.8,585.1 558.8,585.2 556.9,585.4C554.9,585.6 552.9,585.7 550.9,585.9C548.9,586.1 546.9,586.2 544.9,586.4C542.9,586.6 540.9,586.7 538.9,586.9C536.9,587.1 534.9,587.2 532.9,587.4C530.9,587.6 528.9,587.7 526.9,587.9C524.9,588.1 522.9,588.2 521.0,588.4C519.0,588.6 517.0,588.7 515.0,588.9C513.0,589.1 511.0,589.3 509.0,589.4C507.0,589.6 505.0,589.8 503.0,589.9C501.0,590.1 499.0,590.3 497.0,590.5C495.0,590.7 493.0,590.8 491.0,591.0C489.0,591.2 487.0,591.4 485.0,591.6C483.1,591.8 481.1,591.9 479.1,592.1C477.1,592.3 475.1,592.5 473.1,592.7C471.1,592.9 469.1,593.1 467.1,593.3C465.1,593.5 463.1,593.7 461.1,593.9C459.1,594.1 457.1,594.3 455.1,594.6C453.1,594.8 451.1,595.0 449.1,595.2C447.2,595.4 445.2,595.6 443.2,595.9C441.2,596.1 439.2,596.3 437.2,596.6C435.2,596.8 433.2,597.0 431.2,597.3C429.2,597.5 427.2,597.8 425.2,598.0C423.2,598.3 421.2,598.5 419.2,598.8C417.2,599.1 415.2,599.3 413.2,599.6C411.2,599.9 409.3,600.1 407.3,600.4C405.3,600.7 403.3,601.0 401.3,601.3C399.3,601.6 397.3,601.9 395.3,602.2C393.3,602.5 391.3,602.8 389.3,603.1C387.3,603.4 385.3,603.7 383.3,604.1C381.3,604.4 379.3,604.7 377.3,605.1C375.3,605.4 373.3,605.8 371.4,606.1C369.4,606.5 367.4,606.8 365.4,607.2C363.4,607.6 361.4,608.0 359.4,608.4C357.4,608.8 355.4,609.2 353.4,609.6C351.4,610.1 349.4,610.5 347.4,610.9C345.4,611.4 343.4,611.8 341.4,612.3C339.4,612.8 337.4,613.3 335.5,613.7C333.5,614.2 331.5,614.8 329.5,615.3C327.5,615.8 325.5,616.3 323.5,616.9C321.5,617.4 319.5,618.0 317.5,618.6C315.5,619.2 313.5,619.8 311.5,620.4C309.5,621.0 307.5,621.6 305.5,622.3C303.5,622.9 301.5,623.6 299.5,624.3C297.6,625.0 295.6,625.7 293.6,626.4C291.6,627.1 289.6,627.8 287.6,628.6C285.6,629.3 283.6,630.1 281.6,630.9C279.6,631.7 277.6,632.5 275.6,633.4C273.6,634.2 271.6,635.1 269.6,635.9C267.6,636.8 265.6,637.7 263.6,638.6C261.7,639.6 259.7,640.5 257.7,641.5C255.7,642.4 253.7,643.4 251.7,644.3C249.7,645.3 247.7,646.3 245.7,647.3C243.7,648.3 241.7,649.3 239.7,650.2C237.7,651.2 235.7,652.2 233.7,653.2C231.7,654.2 229.7,655.2 227.7,656.2C225.7,657.2 223.8,658.2 221.8,659.2C219.8,660.2 217.8,661.2 215.8,662.3C213.8,663.3 211.8,664.4 209.8,665.5C207.8,666.6 205.8,667.7 203.8,668.9C201.8,670.1 199.8,671.3 197.8,672.5C195.8,673.8 193.8,675.1 191.8,676.5C189.8,677.9 187.8,679.3 185.9,680.8C183.9,682.4 181.9,684.0 179.9,685.7C177.9,687.3 175.9,689.1 173.9,691.0C171.9,692.9 169.9,694.8 167.9,696.9C165.9,699.0 163.9,701.2 161.9,703.5C159.9,705.8 157.9,708.2 155.9,710.7C153.9,713.2 151.9,715.8 150.0,718.5C148.0,721.2 146.0,724.1 144.0,727.0C142.0,729.9 140.0,732.9 138.0,736.0C136.0,739.1 132.0,745.2 132.0,745.4C132.0,745.6 136.0,739.8 138.0,737.4C140.0,735.0 142.0,732.9 144.0,730.9C146.0,729.0 148.0,727.3 150.0,725.8C152.0,724.2 154.0,722.9 155.9,721.7C157.9,720.4 159.9,719.4 161.9,718.4C163.9,717.4 165.9,716.6 167.9,715.8C169.9,715.0 171.9,714.2 173.9,713.5C175.9,712.9 177.9,712.2 179.9,711.6C181.9,710.9 183.9,710.3 185.9,709.7C187.9,709.1 189.9,708.5 191.9,707.9C193.9,707.2 195.9,706.6 197.9,706.0C199.8,705.4 201.8,704.8 203.8,704.2C205.8,703.6 207.8,703.0 209.8,702.4C211.8,701.8 213.8,701.2 215.8,700.7C217.8,700.1 219.8,699.5 221.8,698.9C223.8,698.4 225.8,697.8 227.8,697.2C229.8,696.7 231.8,696.1 233.8,695.6C235.8,695.0 237.8,694.5 239.8,694.0C241.8,693.5 243.7,692.9 245.7,692.4C247.7,691.9 249.7,691.4 251.7,690.9C253.7,690.4 255.7,690.0 257.7,689.5C259.7,689.0 261.7,688.6 263.7,688.1C265.7,687.7 267.7,687.2 269.7,686.8C271.7,686.4 273.7,685.9 275.7,685.5C277.7,685.1 279.7,684.7 281.7,684.3C283.7,683.9 285.7,683.5 287.6,683.2C289.6,682.8 291.6,682.4 293.6,682.1C295.6,681.7 297.6,681.4 299.6,681.1C301.6,680.7 303.6,680.4 305.6,680.1C307.6,679.8 309.6,679.5 311.6,679.2C313.6,678.9 315.6,678.6 317.6,678.3C319.6,678.0 321.6,677.8 323.6,677.5C325.6,677.3 327.6,677.0 329.6,676.8C331.6,676.5 333.5,676.3 335.5,676.1C337.5,675.9 339.5,675.7 341.5,675.5C343.5,675.3 345.5,675.1 347.5,674.9C349.5,674.7 351.5,674.6 353.5,674.4C355.5,674.2 357.5,674.1 359.5,674.0C361.5,673.8 363.5,673.7 365.5,673.6C367.5,673.4 369.5,673.3 371.5,673.2C373.5,673.1 375.5,673.0 377.4,673.0C379.4,672.9 381.4,672.8 383.4,672.7C385.4,672.7 387.4,672.6 389.4,672.6C391.4,672.5 393.4,672.5 395.4,672.5C397.4,672.4 399.4,672.4 401.4,672.4C403.4,672.4 405.4,672.4 407.4,672.4C409.4,672.5 411.4,672.5 413.4,672.5C415.4,672.5 417.4,672.6 419.4,672.6C421.3,672.7 423.3,672.7 425.3,672.8C427.3,672.9 429.3,673.0 431.3,673.1C433.3,673.1 435.3,673.2 437.3,673.4C439.3,673.5 441.3,673.6 443.3,673.7C445.3,673.8 447.3,674.0 449.3,674.1C451.3,674.3 453.3,674.4 455.3,674.6C457.3,674.7 459.3,674.9 461.3,675.1C463.3,675.3 465.3,675.5 467.2,675.7C469.2,675.9 471.2,676.1 473.2,676.3C475.2,676.6 477.2,676.8 479.2,677.0C481.2,677.3 483.2,677.5 485.2,677.8C487.2,678.0 489.2,678.3 491.2,678.6C493.2,678.9 495.2,679.1 497.2,679.4C499.2,679.7 501.2,680.1 503.2,680.4C505.2,680.7 507.2,681.0 509.2,681.3C511.1,681.7 513.1,682.0 515.1,682.4C517.1,682.7 519.1,683.1 521.1,683.5C523.1,683.8 525.1,684.2 527.1,684.6C529.1,685.0 531.1,685.4 533.1,685.8C535.1,686.2 537.1,686.6 539.1,687.1C541.1,687.5 543.1,687.9 545.1,688.4C547.1,688.8 549.1,689.3 551.1,689.8C553.1,690.2 555.0,690.7 557.0,691.2C559.0,691.7 561.0,692.2 563.0,692.7C565.0,693.2 567.0,693.8 569.0,694.3C571.0,694.8 573.0,695.3 575.0,695.9C577.0,696.4 579.0,696.9 581.0,697.5C583.0,698.0 585.0,698.5 587.0,699.1C589.0,699.6 591.0,700.2 593.0,700.7C595.0,701.3 597.0,701.8 598.9,702.4C600.9,702.9 602.9,703.5 604.9,704.0C606.9,704.6 608.9,705.2 610.9,705.7C612.9,706.3 614.9,706.9 616.9,707.5C618.9,708.1 620.9,708.7 622.9,709.4C624.9,710.0 626.9,710.6 628.9,711.3C630.9,712.0 632.9,712.6 634.9,713.3C636.9,714.0 638.9,714.6 640.9,715.3C642.9,716.0 644.8,716.6 646.8,717.3C648.8,718.0 650.8,718.6 652.8,719.3C654.8,719.9 656.8,720.5 658.8,721.1C660.8,721.7 662.8,722.3 664.8,722.9C666.8,723.4 668.8,723.9 670.8,724.4C672.8,724.9 674.8,725.4 676.8,725.8C678.8,726.2 680.8,726.6 682.8,726.9C684.8,727.2 686.8,727.5 688.7,727.7C690.7,728.0 692.7,728.2 694.7,728.3C696.7,728.4 698.7,728.4 700.7,728.4C702.7,728.4 704.7,728.4 706.7,728.2C708.7,728.1 710.7,727.9 712.7,727.6C714.7,727.4 716.7,727.0 718.7,726.6C720.7,726.2 722.7,725.8 724.7,725.3C726.7,724.8 728.7,724.2 730.7,723.6C732.6,722.9 734.6,722.2 736.6,721.5C738.6,720.7 740.6,719.9 742.6,719.1C744.6,718.2 746.6,717.3 748.6,716.3C750.6,715.3 752.6,714.3 754.6,713.2C756.6,712.1 758.6,710.9 760.6,709.7C762.6,708.5 764.6,707.3 766.6,705.9C768.6,704.6 770.6,703.3 772.6,701.8C774.6,700.4 776.5,698.9 778.5,697.4C780.5,695.9 782.5,694.3 784.5,692.7C786.5,691.2 788.5,689.5 790.5,687.9C792.5,686.3 794.5,684.7 796.5,683.1C798.5,681.5 800.5,679.9 802.5,678.4C804.5,676.8 806.5,675.3 808.5,673.8C810.5,672.3 812.5,670.8 814.5,669.4C816.5,668.0 818.5,666.6 820.5,665.2C822.4,663.9 824.4,662.6 826.4,661.3C828.4,660.1 830.4,658.8 832.4,657.7C834.4,656.5 836.4,655.4 838.4,654.3C840.4,653.3 842.4,652.3 844.4,651.3C846.4,650.4 848.4,649.5 850.4,648.7C852.4,647.9 854.4,647.1 856.4,646.4C858.4,645.7 860.4,645.1 862.4,644.5C864.4,643.9 866.3,643.3 868.3,642.8C870.3,642.3 872.3,641.8 874.3,641.4C876.3,641.0 878.3,640.5 880.3,640.1C882.3,639.7 884.3,639.4 886.3,639.0C888.3,638.7 890.3,638.3 892.3,638.0C894.3,637.7 896.3,637.4 898.3,637.1C900.3,636.8 902.3,636.6 904.3,636.3C906.3,636.1 908.3,635.9 910.2,635.6C912.2,635.4 914.2,635.2 916.2,635.0C918.2,634.9 920.2,634.7 922.2,634.5C924.2,634.4 926.2,634.2 928.2,634.1C930.2,634.0 932.2,633.8 934.2,633.7C936.2,633.6 938.2,633.5 940.2,633.4C942.2,633.3 944.2,633.3 946.2,633.2C948.2,633.1 950.2,633.1 952.2,633.0C954.1,633.0 956.1,633.0 958.1,632.9C960.1,632.9 962.1,632.9 964.1,632.9C966.1,632.9 968.1,632.9 970.1,632.9C972.1,632.9 974.1,632.9 976.1,632.9C978.1,632.9 980.1,632.9 982.1,633.0C984.1,633.0 986.1,633.0 988.1,633.1C990.1,633.1 992.1,633.2 994.1,633.2C996.1,633.3 998.1,633.3 1000.0,633.4C1002.0,633.4 1004.0,633.5 1006.0,633.6C1008.0,633.7 1010.0,633.7 1012.0,633.8C1014.0,633.9 1016.0,634.0 1018.0,634.0C1020.0,634.1 1022.0,634.2 1024.0,634.3C1026.0,634.4 1028.0,634.5 1030.0,634.5C1032.0,634.6 1034.0,634.7 1036.0,634.8C1038.0,634.9 1040.0,635.0 1042.0,635.1C1043.9,635.2 1045.9,635.2 1047.9,635.3C1049.9,635.4 1051.9,635.5 1053.9,635.6C1055.9,635.7 1057.9,635.8 1059.9,635.8C1061.9,635.9 1063.9,636.0 1065.9,636.1C1067.9,636.1 1069.9,636.2 1071.9,636.3C1073.9,636.3 1075.9,636.4 1077.9,636.5C1079.9,636.5 1081.9,636.6 1083.9,636.6C1085.9,636.7 1087.8,636.7 1089.8,636.8C1091.8,636.8 1093.8,636.8 1095.8,636.8C1097.8,636.9 1099.8,636.9 1101.8,636.9C1103.8,636.9 1105.8,636.9 1107.8,636.9C1109.8,636.9 1111.8,636.9 1113.8,636.9C1115.8,636.9 1117.8,636.9 1119.8,636.8C1121.8,636.8 1123.8,636.8 1125.8,636.7C1127.8,636.7 1129.8,636.6 1131.8,636.6C1133.7,636.5 1135.7,636.5 1137.7,636.4C1139.7,636.3 1141.7,636.3 1143.7,636.2C1145.7,636.1 1147.7,636.0 1149.7,635.9C1151.7,635.8 1153.7,635.7 1155.7,635.6C1157.7,635.5 1159.7,635.4 1161.7,635.3C1163.7,635.1 1165.7,635.0 1167.7,634.9C1169.7,634.7 1171.7,634.6 1173.7,634.4C1175.7,634.3 1177.6,634.1 1179.6,634.0C1181.6,633.8 1183.6,633.6 1185.6,633.5C1187.6,633.3 1189.6,633.1 1191.6,632.9C1193.6,632.7 1195.6,632.5 1197.6,632.3C1199.6,632.1 1201.6,631.9 1203.6,631.7C1205.6,631.5 1207.6,631.3 1209.6,631.0C1211.6,630.8 1213.6,630.6 1215.6,630.3C1217.6,630.1 1219.6,629.8 1221.5,629.6C1223.5,629.3 1225.5,629.0 1227.5,628.8C1229.5,628.5 1231.5,628.2 1233.5,627.9C1235.5,627.7 1237.5,627.4 1239.5,627.1C1241.5,626.8 1243.5,626.5 1245.5,626.2C1247.5,625.9 1249.5,625.5 1251.5,625.2C1253.5,624.9 1255.5,624.6 1257.5,624.2C1259.5,623.9 1261.5,623.6 1263.5,623.2C1265.4,622.9 1267.4,622.5 1269.4,622.1C1271.4,621.8 1273.4,621.4 1275.4,621.0C1277.4,620.7 1279.4,620.3 1281.4,619.9C1283.4,619.5 1285.4,619.1 1287.4,618.7C1289.4,618.3 1291.4,617.9 1293.4,617.5C1295.4,617.1 1297.4,616.7 1299.4,616.3C1301.4,615.9 1303.4,615.5 1305.4,615.1C1307.4,614.6 1309.4,614.2 1311.3,613.8C1313.3,613.4 1315.3,612.9 1317.3,612.5C1319.3,612.1 1321.3,611.6 1323.3,611.2C1325.3,610.7 1327.3,610.3 1329.3,609.8C1331.3,609.4 1333.3,608.9 1335.3,608.5C1337.3,608.0 1339.3,607.6 1341.3,607.1C1343.3,606.7 1345.3,606.2 1347.3,605.8C1349.3,605.3 1351.3,604.8 1353.3,604.4C1355.2,603.9 1357.2,603.4 1359.2,603.0C1361.2,602.5 1363.2,602.0 1365.2,601.6C1367.2,601.1 1369.2,600.6 1371.2,600.2C1373.2,599.7 1375.2,599.2 1377.2,598.8C1379.2,598.3 1381.2,597.8 1383.2,597.4C1385.2,596.9 1387.2,596.4 1389.2,596.0C1391.2,595.5 1393.2,595.0 1395.2,594.6C1397.2,594.1 1399.1,593.7 1401.1,593.2C1403.1,592.7 1405.1,592.3 1407.1,591.8C1409.1,591.4 1411.1,590.9 1413.1,590.5C1415.1,590.0 1417.1,589.5 1419.1,589.1C1421.1,588.7 1423.1,588.2 1425.1,587.8C1427.1,587.3 1429.1,586.9 1431.1,586.4C1433.1,586.0 1435.1,585.6 1437.1,585.1C1439.1,584.7 1441.1,584.3 1443.0,583.9C1445.0,583.4 1447.0,583.0 1449.0,582.6C1451.0,582.2 1453.0,581.8 1455.0,581.3C1457.0,580.9 1459.0,580.5 1461.0,580.1C1463.0,579.7 1465.0,579.3 1467.0,578.9C1469.0,578.5 1471.0,578.1 1473.0,577.7C1475.0,577.3 1477.0,576.9 1479.0,576.6C1481.0,576.2 1483.0,575.8 1485.0,575.4C1487.0,575.0 1488.9,574.7 1490.9,574.3C1492.9,573.9 1494.9,573.6 1496.9,573.2C1498.9,572.8 1500.9,572.5 1502.9,572.1C1504.9,571.8 1506.9,571.4 1508.9,571.1C1510.9,570.7 1512.9,570.4 1514.9,570.0C1516.9,569.7 1518.9,569.4 1520.9,569.0C1522.9,568.7 1524.9,568.4 1526.9,568.1C1528.9,567.7 1530.9,567.4 1532.8,567.1C1534.8,566.8 1536.8,566.5 1538.8,566.2C1540.8,565.9 1542.8,565.6 1544.8,565.3C1546.8,565.0 1548.8,564.7 1550.8,564.4C1552.8,564.1 1554.8,563.8 1556.8,563.5C1558.8,563.2 1560.8,563.0 1562.8,562.7C1564.8,562.4 1566.8,562.2 1568.8,561.9C1570.8,561.6 1572.8,561.4 1574.8,561.1C1576.7,560.9 1578.7,560.6 1580.7,560.4C1582.7,560.1 1584.7,559.9 1586.7,559.7C1588.7,559.4 1590.7,559.2 1592.7,559.0C1594.7,558.8 1596.7,558.5 1598.7,558.3C1600.7,558.1 1602.7,557.9 1604.7,557.7C1606.7,557.5 1608.7,557.3 1610.7,557.1C1612.7,556.9 1614.7,556.7 1616.7,556.5C1618.7,556.3 1620.7,556.2 1622.6,556.0C1624.6,555.8 1626.6,555.6 1628.6,555.5C1630.6,555.3 1632.6,555.2 1634.6,555.0C1636.6,554.8 1638.6,554.7 1640.6,554.6C1642.6,554.4 1644.6,554.3 1646.6,554.1C1648.6,554.0 1650.6,553.9 1652.6,553.7C1654.6,553.6 1656.6,553.5 1658.6,553.3C1660.6,553.2 1662.6,553.1 1664.6,553.0C1666.5,552.9 1668.5,552.8 1670.5,552.7C1672.5,552.6 1674.5,552.4 1676.5,552.3C1678.5,552.2 1680.5,552.2 1682.5,552.1C1684.5,552.0 1686.5,551.9 1688.5,551.8C1690.5,551.7 1692.5,551.6 1694.5,551.5C1696.5,551.5 1698.5,551.4 1700.5,551.3C1702.5,551.2 1704.5,551.1 1706.5,551.1C1708.5,551.0 1710.4,550.9 1712.4,550.9C1714.4,550.8 1716.4,550.7 1718.4,550.7C1720.4,550.6 1722.4,550.6 1724.4,550.5C1726.4,550.4 1728.4,550.4 1730.4,550.3C1732.4,550.3 1734.4,550.2 1736.4,550.2C1738.4,550.1 1740.4,550.1 1742.4,550.0C1744.4,550.0 1746.4,549.9 1748.4,549.9C1750.4,549.9 1752.4,549.8 1754.3,549.8C1756.3,549.7 1758.3,549.7 1760.3,549.6C1762.3,549.6 1764.3,549.6 1766.3,549.5C1768.3,549.5 1770.3,549.5 1772.3,549.4C1774.3,549.4 1776.3,549.4 1778.3,549.3C1780.3,549.3 1782.3,549.2 1784.3,549.2C1786.3,549.2 1788.3,549.1 1790.3,549.1C1792.3,549.1 1794.3,549.0 1796.3,549.0C1798.3,549.0 1800.2,548.9 1802.2,548.9C1804.2,548.9 1806.2,548.8 1808.2,548.8C1810.2,548.8 1812.2,548.7 1814.2,548.7C1816.2,548.7 1818.2,548.6 1820.2,548.6C1822.2,548.5 1824.2,548.5 1826.2,548.5C1828.2,548.4 1830.2,548.4 1832.2,548.4C1834.2,548.3 1836.2,548.3 1838.2,548.2C1840.2,548.2 1842.2,548.1 1844.1,548.1C1846.1,548.1 1848.1,548.0 1850.1,548.0C1852.1,547.9 1854.1,547.9 1856.1,547.8C1858.1,547.8 1860.1,547.7 1862.1,547.7C1864.1,547.6 1866.1,547.6 1868.1,547.5C1870.1,547.5 1872.1,547.4 1874.1,547.4C1876.1,547.3 1878.1,547.3 1880.1,547.2C1882.1,547.2 1884.1,547.1 1886.1,547.1C1888.0,547.0 1890.0,547.0 1892.0,546.9C1894.0,546.9 1896.0,546.8 1898.0,546.8C1900.0,546.7 1902.0,546.7 1904.0,546.6C1906.0,546.6 1908.0,546.5 1910.0,546.4C1912.0,546.4 1914.0,546.3 1916.0,546.3C1918.0,546.2 1920.0,546.2 1922.0,546.1C1924.0,546.1 1926.0,546.0 1928.0,545.9C1930.0,545.9 1931.9,545.8 1933.9,545.8C1935.9,545.7 1937.9,545.7 1939.9,545.6C1941.9,545.5 1943.9,545.5 1945.9,545.4C1947.9,545.4 1949.9,545.3 1951.9,545.3C1953.9,545.2 1955.9,545.1 1957.9,545.1C1959.9,545.0 1961.9,545.0 1963.9,544.9C1965.9,544.9 1967.9,544.8 1969.9,544.7C1971.9,544.7 1973.9,544.6 1975.9,544.6C1977.8,544.5 1979.8,544.5 1981.8,544.4C1983.8,544.3 1985.8,544.3 1987.8,544.2C1989.8,544.2 1991.8,544.1 1993.8,544.1C1995.8,544.0 1997.8,543.9 1999.8,543.9C2001.8,543.8 2003.8,543.8 2005.8,543.7C2007.8,543.7 2009.8,543.6 2011.8,543.6C2013.8,543.5 2015.8,543.5 2017.8,543.4C2019.8,543.4 2021.7,543.3 2023.7,543.2C2025.7,543.2 2027.7,543.1 2029.7,543.1C2031.7,543.0 2033.7,543.0 2035.7,542.9C2037.7,542.9 2039.7,542.8 2041.7,542.8C2043.7,542.7 2045.7,542.7 2047.7,542.6C2049.7,542.6 2051.7,542.6 2053.7,542.5C2055.7,542.5 2057.7,542.4 2059.7,542.4C2061.7,542.3 2063.7,542.3 2065.6,542.2C2067.6,542.2 2069.6,542.2 2071.6,542.1C2073.6,542.1 2075.6,542.0 2077.6,542.0C2079.6,542.0 2081.6,541.9 2083.6,541.9C2085.6,541.8 2087.6,541.8 2089.6,541.8C2091.6,541.7 2093.6,541.7 2095.6,541.7C2097.6,541.6 2099.6,541.6 2101.6,541.6C2103.6,541.5 2105.6,541.5 2107.6,541.5C2109.5,541.4 2111.5,541.4 2113.5,541.4C2115.5,541.3 2117.5,541.3 2119.5,541.3C2121.5,541.3 2123.5,541.2 2125.5,541.2C2127.5,541.2 2129.5,541.2 2131.5,541.2C2133.5,541.1 2135.5,541.1 2137.5,541.1C2139.5,541.1 2141.5,541.1 2143.5,541.0C2145.5,541.0 2147.5,541.0 2149.5,541.0C2151.5,541.0 2153.5,541.0 2155.4,541.0C2157.4,541.0 2159.4,540.9 2161.4,540.9C2163.4,540.9 2165.4,540.9 2167.4,540.9C2169.4,540.9 2171.4,540.9 2173.4,540.9C2175.4,540.9 2177.4,540.9 2179.4,540.9C2181.4,540.9 2183.4,540.9 2185.4,540.9C2187.4,540.9 2189.4,540.9 2191.4,540.9C2193.4,540.9 2195.4,540.9 2197.4,540.9C2199.3,540.9 2201.3,540.9 2203.3,540.9C2205.3,540.9 2207.3,540.9 2209.3,540.9C2211.3,540.9 2213.3,540.9 2215.3,540.9C2217.3,540.9 2219.3,540.9 2221.3,540.9C2223.3,540.9 2225.3,540.9 2227.3,540.9C2229.3,540.8 2231.3,540.8 2233.3,540.8C2235.3,540.8 2237.3,540.8 2239.3,540.7C2241.3,540.7 2243.2,540.7 2245.2,540.7C2247.2,540.6 2249.2,540.6 2251.2,540.6C2253.2,540.5 2255.2,540.5 2257.2,540.4C2259.2,540.4 2261.2,540.3 2263.2,540.3C2265.2,540.2 2267.2,540.2 2269.2,540.1C2271.2,540.0 2273.2,539.9 2275.2,539.9C2277.2,539.8 2279.2,539.7 2281.2,539.6C2283.2,539.5 2285.2,539.4 2287.2,539.3C2289.1,539.2 2291.1,539.1 2293.1,539.0C2295.1,538.9 2297.1,538.8 2299.1,538.6C2301.1,538.5 2303.1,538.4 2305.1,538.2C2307.1,538.1 2309.1,537.9 2311.1,537.8C2313.1,537.6 2315.1,537.4 2317.1,537.3C2319.1,537.1 2321.1,536.9 2323.1,536.7C2325.1,536.5 2327.1,536.3 2329.1,536.1C2331.1,535.9 2333.0,535.7 2335.0,535.4C2337.0,535.2 2339.0,534.9 2341.0,534.7C2343.0,534.4 2345.0,534.2 2347.0,533.9C2349.0,533.6 2352.0,533.2 2353.0,533.0" fill="none" stroke="#f41414" stroke-width="9.2" stroke-linecap="round" stroke-linejoin="round"/>
<path d="M2358.5,923.0C2357.5,923.0 2354.7,923.0 2352.7,923.1C2350.7,923.2 2348.7,923.4 2346.7,923.6C2344.7,923.8 2342.7,923.9 2340.7,924.1C2338.7,924.2 2336.7,924.3 2334.7,924.5C2332.7,924.6 2330.7,924.8 2328.7,924.9C2326.7,925.0 2324.7,925.2 2322.7,925.3C2320.7,925.4 2318.7,925.6 2316.7,925.7C2314.7,925.8 2312.7,925.9 2310.7,926.1C2308.7,926.2 2306.7,926.3 2304.7,926.4C2302.7,926.5 2300.7,926.6 2298.7,926.8C2296.7,926.9 2294.7,927.0 2292.7,927.1C2290.7,927.2 2288.7,927.3 2286.7,927.4C2284.7,927.5 2282.7,927.6 2280.7,927.7C2278.7,927.8 2276.7,927.9 2274.7,928.0C2272.7,928.0 2270.7,928.1 2268.7,928.2C2266.7,928.3 2264.7,928.4 2262.7,928.5C2260.7,928.6 2258.7,928.6 2256.7,928.7C2254.7,928.8 2252.7,928.9 2250.7,928.9C2248.7,929.0 2246.7,929.1 2244.7,929.1C2242.7,929.2 2240.7,929.3 2238.7,929.3C2236.7,929.4 2234.7,929.5 2232.7,929.5C2230.7,929.6 2228.7,929.6 2226.7,929.7C2224.7,929.8 2222.7,929.8 2220.7,929.9C2218.7,929.9 2216.7,930.0 2214.7,930.0C2212.7,930.1 2210.7,930.1 2208.7,930.1C2206.7,930.2 2204.7,930.2 2202.7,930.3C2200.7,930.3 2198.7,930.3 2196.7,930.4C2194.7,930.4 2192.7,930.4 2190.7,930.5C2188.7,930.5 2186.7,930.5 2184.7,930.6C2182.7,930.6 2180.7,930.6 2178.7,930.7C2176.7,930.7 2174.7,930.7 2172.7,930.7C2170.7,930.7 2168.7,930.8 2166.7,930.8C2164.7,930.8 2162.7,930.8 2160.7,930.8C2158.7,930.9 2156.7,930.9 2154.7,930.9C2152.7,930.9 2150.7,930.9 2148.7,930.9C2146.7,930.9 2144.7,930.9 2142.7,930.9C2140.7,931.0 2138.7,931.0 2136.7,931.0C2134.7,931.0 2132.7,931.0 2130.7,931.0C2128.7,931.0 2126.7,931.0 2124.7,931.0C2122.7,931.0 2120.7,931.0 2118.7,931.0C2116.7,931.0 2114.7,931.0 2112.7,931.0C2110.7,930.9 2108.7,930.9 2106.7,930.9C2104.7,930.9 2102.7,930.9 2100.7,930.9C2098.7,930.9 2096.7,930.9 2094.7,930.9C2092.7,930.9 2090.7,930.8 2088.7,930.8C2086.7,930.8 2084.7,930.8 2082.7,930.8C2080.7,930.8 2078.7,930.7 2076.7,930.7C2074.7,930.7 2072.7,930.7 2070.7,930.7C2068.7,930.6 2066.7,930.6 2064.7,930.6C2062.7,930.6 2060.7,930.6 2058.7,930.5C2056.7,930.5 2054.7,930.5 2052.7,930.5C2050.7,930.4 2048.7,930.4 2046.7,930.4C2044.7,930.4 2042.7,930.3 2040.7,930.3C2038.7,930.3 2036.7,930.2 2034.7,930.2C2032.7,930.2 2030.7,930.2 2028.7,930.1C2026.7,930.1 2024.7,930.1 2022.7,930.0C2020.7,930.0 2018.7,930.0 2016.7,929.9C2014.7,929.9 2012.7,929.9 2010.7,929.8C2008.7,929.8 2006.7,929.8 2004.7,929.7C2002.7,929.7 2000.7,929.7 1998.7,929.6C1996.7,929.6 1994.7,929.6 1992.7,929.5C1990.7,929.5 1988.7,929.4 1986.8,929.4C1984.8,929.4 1982.8,929.3 1980.8,929.3C1978.8,929.3 1976.8,929.2 1974.8,929.2C1972.8,929.1 1970.8,929.1 1968.8,929.1C1966.8,929.0 1964.8,929.0 1962.8,929.0C1960.8,928.9 1958.8,928.9 1956.8,928.8C1954.8,928.8 1952.8,928.8 1950.8,928.7C1948.8,928.7 1946.8,928.6 1944.8,928.6C1942.8,928.6 1940.8,928.5 1938.8,928.5C1936.8,928.5 1934.8,928.4 1932.8,928.4C1930.8,928.3 1928.8,928.3 1926.8,928.3C1924.8,928.2 1922.8,928.2 1920.8,928.2C1918.8,928.1 1916.8,928.1 1914.8,928.0C1912.8,928.0 1910.8,928.0 1908.8,927.9C1906.8,927.9 1904.8,927.9 1902.8,927.8C1900.8,927.8 1898.8,927.8 1896.8,927.7C1894.8,927.7 1892.8,927.6 1890.8,927.6C1888.8,927.6 1886.8,927.5 1884.8,927.5C1882.8,927.5 1880.8,927.4 1878.8,927.4C1876.8,927.4 1874.8,927.4 1872.8,927.3C1870.8,927.3 1868.8,927.3 1866.8,927.2C1864.8,927.2 1862.8,927.2 1860.8,927.1C1858.8,927.1 1856.8,927.1 1854.8,927.1C1852.8,927.0 1850.8,927.0 1848.8,927.0C1846.8,926.9 1844.8,926.9 1842.8,926.9C1840.8,926.9 1838.8,926.8 1836.8,926.8C1834.8,926.8 1832.8,926.8 1830.8,926.8C1828.8,926.7 1826.8,926.7 1824.8,926.7C1822.8,926.7 1820.8,926.7 1818.8,926.6C1816.8,926.6 1814.8,926.6 1812.8,926.6C1810.8,926.6 1808.8,926.6 1806.8,926.5C1804.8,926.5 1802.8,926.5 1800.8,926.5C1798.8,926.5 1796.8,926.5 1794.8,926.5C1792.8,926.5 1790.8,926.5 1788.8,926.5C1786.8,926.4 1784.8,926.4 1782.8,926.4C1780.8,926.4 1778.8,926.4 1776.8,926.4C1774.8,926.4 1772.8,926.4 1770.8,926.4C1768.8,926.4 1766.8,926.4 1764.8,926.4C1762.8,926.4 1760.8,926.4 1758.8,926.4C1756.8,926.4 1754.8,926.5 1752.8,926.5C1750.8,926.5 1748.8,926.5 1746.8,926.5C1744.8,926.5 1742.8,926.5 1740.8,926.5C1738.8,926.5 1736.8,926.6 1734.8,926.6C1732.8,926.6 1730.8,926.6 1728.8,926.6C1726.8,926.7 1724.8,926.7 1722.8,926.7C1720.8,926.7 1718.8,926.8 1716.8,926.8C1714.8,926.8 1712.8,926.8 1710.8,926.9C1708.8,926.9 1706.8,926.9 1704.8,927.0C1702.8,927.0 1700.8,927.0 1698.8,927.1C1696.8,927.1 1694.8,927.2 1692.8,927.2C1690.8,927.2 1688.8,927.3 1686.8,927.3C1684.8,927.4 1682.8,927.4 1680.8,927.5C1678.8,927.5 1676.8,927.6 1674.8,927.6C1672.8,927.7 1670.8,927.7 1668.8,927.8C1666.8,927.8 1664.8,927.9 1662.8,928.0C1660.8,928.0 1658.8,928.1 1656.8,928.2C1654.8,928.2 1652.8,928.3 1650.8,928.4C1648.8,928.4 1646.8,928.5 1644.8,928.6C1642.8,928.7 1640.8,928.7 1638.8,928.8C1636.8,928.9 1634.8,929.0 1632.8,929.1C1630.8,929.1 1628.8,929.2 1626.8,929.3C1624.8,929.4 1622.8,929.5 1620.8,929.6C1618.8,929.7 1616.8,929.8 1614.8,929.9C1612.8,930.0 1610.8,930.1 1608.8,930.2C1606.8,930.3 1604.8,930.4 1602.8,930.5C1600.8,930.6 1598.8,930.7 1596.8,930.8C1594.8,930.9 1592.8,931.0 1590.8,931.1C1588.8,931.3 1586.8,931.4 1584.8,931.5C1582.8,931.6 1580.8,931.7 1578.8,931.8C1576.8,932.0 1574.8,932.1 1572.8,932.2C1570.8,932.3 1568.8,932.4 1566.8,932.6C1564.8,932.7 1562.8,932.8 1560.8,932.9C1558.8,933.1 1556.8,933.2 1554.8,933.3C1552.8,933.4 1550.8,933.6 1548.8,933.7C1546.8,933.8 1544.8,933.9 1542.8,934.1C1540.8,934.2 1538.8,934.3 1536.8,934.5C1534.8,934.6 1532.8,934.7 1530.8,934.8C1528.8,935.0 1526.8,935.1 1524.8,935.2C1522.8,935.4 1520.8,935.5 1518.8,935.6C1516.8,935.7 1514.8,935.9 1512.8,936.0C1510.8,936.1 1508.8,936.2 1506.8,936.4C1504.8,936.5 1502.8,936.6 1500.8,936.7C1498.8,936.9 1496.8,937.0 1494.8,937.1C1492.8,937.2 1490.8,937.4 1488.8,937.5C1486.8,937.6 1484.8,937.7 1482.8,937.8C1480.8,938.0 1478.8,938.1 1476.8,938.2C1474.8,938.3 1472.8,938.4 1470.8,938.6C1468.8,938.7 1466.8,938.8 1464.8,938.9C1462.8,939.0 1460.8,939.1 1458.8,939.3C1456.8,939.4 1454.8,939.5 1452.8,939.6C1450.8,939.7 1448.8,939.9 1446.8,940.0C1444.8,940.1 1442.8,940.2 1440.8,940.3C1438.8,940.5 1436.8,940.6 1434.8,940.7C1432.8,940.8 1430.8,940.9 1428.8,941.1C1426.8,941.2 1424.8,941.3 1422.8,941.4C1420.8,941.5 1418.8,941.7 1416.8,941.8C1414.8,941.9 1412.8,942.0 1410.8,942.2C1408.8,942.3 1406.8,942.4 1404.8,942.6C1402.8,942.7 1400.8,942.8 1398.8,942.9C1396.8,943.1 1394.8,943.2 1392.8,943.3C1390.8,943.5 1388.8,943.6 1386.8,943.8C1384.8,943.9 1382.8,944.0 1380.8,944.2C1378.8,944.3 1376.8,944.4 1374.8,944.6C1372.8,944.7 1370.8,944.9 1368.8,945.0C1366.8,945.2 1364.8,945.3 1362.8,945.5C1360.8,945.6 1358.8,945.8 1356.8,945.9C1354.8,946.1 1352.8,946.2 1350.8,946.4C1348.8,946.6 1346.8,946.7 1344.8,946.9C1342.8,947.1 1340.8,947.2 1338.8,947.4C1336.8,947.6 1334.8,947.7 1332.8,947.9C1330.8,948.1 1328.8,948.2 1326.8,948.4C1324.8,948.6 1322.8,948.8 1320.8,949.0C1318.8,949.1 1316.8,949.3 1314.8,949.5C1312.8,949.7 1310.8,949.9 1308.8,950.1C1306.8,950.3 1304.8,950.4 1302.8,950.6C1300.8,950.8 1298.8,951.0 1296.8,951.2C1294.8,951.4 1292.8,951.6 1290.8,951.8C1288.8,952.0 1286.8,952.2 1284.8,952.4C1282.8,952.6 1280.8,952.8 1278.8,953.0C1276.8,953.2 1274.8,953.4 1272.8,953.6C1270.8,953.8 1268.8,954.0 1266.8,954.2C1264.8,954.5 1262.8,954.7 1260.8,954.9C1258.8,955.1 1256.8,955.3 1254.8,955.5C1252.8,955.7 1250.8,955.9 1248.8,956.2C1246.8,956.4 1244.9,956.6 1242.9,956.8C1240.9,957.0 1238.9,957.3 1236.9,957.5C1234.9,957.7 1232.9,957.9 1230.9,958.1C1228.9,958.4 1226.9,958.6 1224.9,958.8C1222.9,959.0 1220.9,959.3 1218.9,959.5C1216.9,959.7 1214.9,959.9 1212.9,960.2C1210.9,960.4 1208.9,960.6 1206.9,960.8C1204.9,961.1 1202.9,961.3 1200.9,961.5C1198.9,961.8 1196.9,962.0 1194.9,962.2C1192.9,962.4 1190.9,962.7 1188.9,962.9C1186.9,963.1 1184.9,963.4 1182.9,963.6C1180.9,963.8 1178.9,964.1 1176.9,964.3C1174.9,964.5 1172.9,964.7 1170.9,965.0C1168.9,965.2 1166.9,965.4 1164.9,965.7C1162.9,965.9 1160.9,966.1 1158.9,966.4C1156.9,966.6 1154.9,966.8 1152.9,967.1C1150.9,967.3 1148.9,967.5 1146.9,967.8C1144.9,968.0 1142.9,968.2 1140.9,968.5C1138.9,968.7 1136.9,968.9 1134.9,969.1C1132.9,969.4 1130.9,969.6 1128.9,969.8C1126.9,970.1 1124.9,970.3 1122.9,970.5C1120.9,970.8 1118.9,971.0 1116.9,971.2C1114.9,971.4 1112.9,971.7 1110.9,971.9C1108.9,972.1 1106.9,972.3 1104.9,972.6C1102.9,972.8 1100.9,973.0 1098.9,973.3C1096.9,973.5 1094.9,973.7 1092.9,973.9C1090.9,974.1 1088.9,974.4 1086.9,974.6C1084.9,974.8 1082.9,975.0 1080.9,975.2C1078.9,975.5 1076.9,975.7 1074.9,975.9C1072.9,976.1 1070.9,976.3 1068.9,976.5C1066.9,976.8 1064.9,977.0 1062.9,977.2C1060.9,977.4 1058.9,977.6 1056.9,977.8C1054.9,978.0 1052.9,978.2 1050.9,978.5C1048.9,978.7 1046.9,978.9 1044.9,979.1C1042.9,979.3 1040.9,979.5 1038.9,979.7C1036.9,979.9 1034.9,980.1 1032.9,980.3C1030.9,980.5 1028.9,980.7 1026.9,980.9C1024.9,981.1 1022.9,981.3 1020.9,981.5C1018.9,981.7 1016.9,981.9 1014.9,982.0C1012.9,982.2 1010.9,982.4 1008.9,982.6C1006.9,982.8 1004.9,983.0 1002.9,983.2C1000.9,983.4 998.9,983.6 996.9,983.7C994.9,983.9 992.9,984.1 990.9,984.3C988.9,984.5 986.9,984.7 984.9,984.8C982.9,985.0 980.9,985.2 978.9,985.4C976.9,985.5 974.9,985.7 972.9,985.9C970.9,986.1 968.9,986.2 966.9,986.4C964.9,986.6 962.9,986.8 960.9,986.9C958.9,987.1 956.9,987.3 954.9,987.4C952.9,987.6 950.9,987.8 948.9,987.9C946.9,988.1 944.9,988.3 942.9,988.4C940.9,988.6 938.9,988.8 936.9,988.9C934.9,989.1 932.9,989.3 930.9,989.4C928.9,989.6 926.9,989.7 924.9,989.9C922.9,990.0 920.9,990.2 918.9,990.4C916.9,990.5 914.9,990.7 912.9,990.8C910.9,991.0 908.9,991.1 906.9,991.3C904.9,991.4 902.9,991.6 900.9,991.7C898.9,991.9 896.9,992.0 894.9,992.2C892.9,992.3 890.9,992.5 888.9,992.6C886.9,992.8 884.9,992.9 882.9,993.1C880.9,993.2 878.9,993.3 876.9,993.5C874.9,993.6 872.9,993.8 870.9,993.9C868.9,994.1 866.9,994.2 864.9,994.3C862.9,994.5 860.9,994.6 858.9,994.8C856.9,994.9 854.9,995.0 852.9,995.2C850.9,995.3 848.9,995.4 846.9,995.6C844.9,995.7 842.9,995.8 840.9,996.0C838.9,996.1 836.9,996.2 834.9,996.4C832.9,996.5 830.9,996.6 828.9,996.8C826.9,996.9 824.9,997.0 822.9,997.1C820.9,997.3 818.9,997.4 816.9,997.5C814.9,997.7 812.9,997.8 810.9,997.9C808.9,998.0 806.9,998.2 804.9,998.3C802.9,998.4 800.9,998.5 798.9,998.7C796.9,998.8 794.9,998.9 792.9,999.0C790.9,999.1 788.9,999.3 786.9,999.4C784.9,999.5 782.9,999.6 780.9,999.7C778.9,999.9 776.9,1000.0 774.9,1000.1C772.9,1000.2 770.9,1000.3 768.9,1000.5C766.9,1000.6 764.9,1000.7 762.9,1000.8C760.9,1000.9 758.9,1001.0 756.9,1001.1C754.9,1001.3 752.9,1001.4 750.9,1001.5C748.9,1001.6 746.9,1001.7 744.9,1001.8C742.9,1001.9 740.9,1002.1 738.9,1002.2C736.9,1002.3 734.9,1002.4 732.9,1002.5C730.9,1002.6 728.9,1002.7 726.9,1002.8C724.9,1003.0 722.9,1003.1 720.9,1003.2C718.9,1003.3 716.9,1003.4 714.9,1003.5C712.9,1003.7 710.9,1003.8 708.9,1003.9C706.9,1004.0 704.9,1004.1 702.9,1004.3C700.9,1004.4 698.9,1004.5 696.9,1004.6C694.9,1004.8 692.9,1004.9 690.9,1005.0C688.9,1005.2 686.9,1005.3 684.9,1005.4C682.9,1005.6 680.9,1005.7 678.9,1005.9C676.9,1006.0 674.9,1006.2 672.9,1006.3C670.9,1006.5 668.9,1006.6 666.9,1006.8C664.9,1006.9 662.9,1007.1 660.9,1007.3C658.9,1007.4 656.9,1007.6 654.9,1007.8C652.9,1007.9 650.9,1008.1 648.9,1008.3C646.9,1008.5 644.9,1008.7 642.9,1008.8C640.9,1009.0 638.9,1009.2 636.9,1009.4C634.9,1009.6 632.9,1009.8 630.9,1010.1C628.9,1010.3 626.9,1010.5 624.9,1010.7C622.9,1010.9 620.9,1011.2 618.9,1011.4C616.9,1011.6 614.9,1011.9 612.9,1012.1C610.9,1012.4 608.9,1012.6 606.9,1012.9C604.9,1013.1 602.9,1013.4 600.9,1013.7C598.9,1014.0 596.9,1014.2 594.9,1014.5C592.9,1014.8 590.9,1015.1 588.9,1015.4C586.9,1015.7 584.9,1016.0 582.9,1016.3C580.9,1016.6 578.9,1016.9 576.9,1017.3C574.9,1017.6 572.9,1017.9 570.9,1018.2C568.9,1018.6 566.9,1018.9 564.9,1019.2C562.9,1019.6 560.9,1019.9 558.9,1020.3C556.9,1020.6 554.9,1020.9 552.9,1021.3C550.9,1021.6 548.9,1022.0 546.9,1022.3C544.9,1022.7 542.9,1023.0 540.9,1023.4C538.9,1023.7 536.9,1024.1 534.9,1024.4C532.9,1024.8 530.9,1025.2 528.9,1025.5C526.9,1025.9 524.9,1026.2 522.9,1026.6C520.9,1026.9 518.9,1027.3 516.9,1027.6C514.9,1028.0 512.9,1028.3 510.9,1028.7C508.9,1029.0 506.9,1029.3 504.9,1029.7C503.0,1030.0 501.0,1030.4 499.0,1030.7C497.0,1031.0 495.0,1031.4 493.0,1031.7C491.0,1032.0 489.0,1032.3 487.0,1032.6C485.0,1033.0 483.0,1033.3 481.0,1033.6C479.0,1033.9 477.0,1034.2 475.0,1034.5C473.0,1034.8 471.0,1035.0 469.0,1035.3C467.0,1035.6 465.0,1035.9 463.0,1036.2C461.0,1036.4 459.0,1036.7 457.0,1037.0C455.0,1037.2 453.0,1037.5 451.0,1037.7C449.0,1038.0 447.0,1038.2 445.0,1038.5C443.0,1038.7 441.0,1039.0 439.0,1039.2C437.0,1039.5 435.0,1039.7 433.0,1039.9C431.0,1040.2 429.0,1040.4 427.0,1040.7C425.0,1040.9 423.0,1041.1 421.0,1041.4C419.0,1041.6 417.0,1041.8 415.0,1042.1C413.0,1042.3 411.0,1042.5 409.0,1042.8C407.0,1043.0 405.0,1043.2 403.0,1043.5C401.0,1043.7 399.0,1044.0 397.0,1044.2C395.0,1044.4 393.0,1044.7 391.0,1044.9C389.0,1045.2 387.0,1045.4 385.0,1045.7C383.0,1045.9 381.0,1046.2 379.0,1046.5C377.0,1046.7 375.0,1047.0 373.0,1047.3C371.0,1047.5 369.0,1047.8 367.0,1048.1C365.0,1048.4 363.0,1048.7 361.0,1049.0C359.0,1049.3 357.0,1049.6 355.0,1049.9C353.0,1050.2 351.0,1050.5 349.0,1050.8C347.0,1051.1 345.0,1051.5 343.0,1051.8C341.0,1052.1 339.0,1052.5 337.0,1052.8C335.0,1053.2 333.0,1053.5 331.0,1053.9C329.0,1054.3 327.0,1054.7 325.0,1055.1C323.0,1055.5 321.0,1055.9 319.0,1056.3C317.0,1056.7 315.0,1057.1 313.0,1057.5C311.0,1058.0 309.0,1058.4 307.0,1058.9C305.0,1059.4 303.0,1059.8 301.0,1060.3C299.0,1060.8 297.0,1061.3 295.0,1061.8C293.0,1062.3 291.0,1062.8 289.0,1063.4C287.0,1063.9 285.0,1064.5 283.0,1065.0C281.0,1065.6 279.0,1066.2 277.0,1066.8C275.0,1067.4 273.0,1068.0 271.0,1068.6C269.0,1069.2 267.0,1069.9 265.0,1070.5C263.0,1071.2 261.0,1071.9 259.0,1072.6C257.0,1073.3 255.0,1074.0 253.0,1074.7C251.0,1075.5 249.0,1076.2 247.0,1077.0C245.0,1077.7 243.0,1078.5 241.0,1079.3C239.0,1080.1 237.0,1081.0 235.0,1081.8C233.0,1082.7 231.0,1083.5 229.0,1084.4C227.0,1085.3 225.0,1086.2 223.0,1087.1C221.0,1088.1 219.0,1089.0 217.0,1090.0C215.0,1090.9 213.0,1091.9 211.0,1093.0C209.0,1094.0 207.0,1095.0 205.0,1096.1C203.0,1097.1 201.0,1098.2 199.0,1099.3C197.0,1100.3 195.0,1101.4 193.0,1102.5C191.0,1103.6 189.0,1104.6 187.0,1105.7C185.0,1106.8 183.0,1107.9 181.0,1108.9C179.0,1110.0 177.0,1111.1 175.0,1112.3C173.0,1113.4 171.0,1114.5 169.0,1115.7C167.0,1116.9 165.0,1118.2 163.0,1119.5C161.0,1120.8 159.0,1122.2 157.0,1123.7C155.0,1125.1 153.0,1126.7 151.0,1128.4C149.0,1130.1 147.0,1132.0 145.0,1134.0C143.0,1136.0 141.0,1138.0 139.0,1140.5C137.0,1143.0 134.0,1147.6 133.0,1149.0" fill="none" stroke="#1cf51c" stroke-width="9.6" stroke-linecap="round" stroke-linejoin="round"/>
<path d="M133.0,1168.5C134.0,1168.3 137.0,1167.5 139.0,1167.0C141.0,1166.6 143.0,1166.2 145.0,1165.8C147.0,1165.3 149.0,1164.9 151.0,1164.5C153.0,1164.1 155.0,1163.7 157.0,1163.3C159.0,1162.9 161.0,1162.5 163.0,1162.1C165.0,1161.7 167.0,1161.3 169.0,1160.9C170.9,1160.5 172.9,1160.1 174.9,1159.8C176.9,1159.4 178.9,1159.0 180.9,1158.7C182.9,1158.3 184.9,1157.9 186.9,1157.6C188.9,1157.2 190.9,1156.9 192.9,1156.5C194.9,1156.2 196.9,1155.9 198.9,1155.5C200.9,1155.2 202.9,1154.9 204.9,1154.6C206.9,1154.2 208.9,1153.9 210.9,1153.6C212.9,1153.3 214.9,1153.0 216.9,1152.7C218.9,1152.4 220.9,1152.1 222.9,1151.9C224.9,1151.6 226.9,1151.3 228.9,1151.0C230.9,1150.8 232.9,1150.5 234.9,1150.2C236.9,1150.0 238.9,1149.7 240.9,1149.5C242.9,1149.2 244.8,1149.0 246.8,1148.8C248.8,1148.5 250.8,1148.3 252.8,1148.1C254.8,1147.9 256.8,1147.6 258.8,1147.4C260.8,1147.2 262.8,1147.0 264.8,1146.8C266.8,1146.6 268.8,1146.5 270.8,1146.3C272.8,1146.1 274.8,1145.9 276.8,1145.8C278.8,1145.6 280.8,1145.4 282.8,1145.3C284.8,1145.1 286.8,1145.0 288.8,1144.8C290.8,1144.7 292.8,1144.6 294.8,1144.5C296.8,1144.3 298.8,1144.2 300.8,1144.1C302.8,1144.0 304.8,1143.9 306.8,1143.8C308.8,1143.7 310.8,1143.6 312.8,1143.5C314.8,1143.4 316.8,1143.3 318.7,1143.2C320.7,1143.1 322.7,1143.1 324.7,1143.0C326.7,1142.9 328.7,1142.8 330.7,1142.8C332.7,1142.7 334.7,1142.6 336.7,1142.6C338.7,1142.5 340.7,1142.4 342.7,1142.4C344.7,1142.3 346.7,1142.2 348.7,1142.2C350.7,1142.1 352.7,1142.0 354.7,1142.0C356.7,1141.9 358.7,1141.9 360.7,1141.8C362.7,1141.7 364.7,1141.7 366.7,1141.6C368.7,1141.5 370.7,1141.5 372.7,1141.4C374.7,1141.3 376.7,1141.3 378.7,1141.2C380.7,1141.1 382.7,1141.0 384.7,1141.0C386.7,1140.9 388.7,1140.8 390.7,1140.7C392.6,1140.6 394.6,1140.5 396.6,1140.4C398.6,1140.3 400.6,1140.2 402.6,1140.1C404.6,1140.0 406.6,1139.9 408.6,1139.8C410.6,1139.7 412.6,1139.6 414.6,1139.4C416.6,1139.3 418.6,1139.2 420.6,1139.0C422.6,1138.9 424.6,1138.7 426.6,1138.6C428.6,1138.4 430.6,1138.3 432.6,1138.1C434.6,1137.9 436.6,1137.7 438.6,1137.5C440.6,1137.4 442.6,1137.2 444.6,1136.9C446.6,1136.7 448.6,1136.5 450.6,1136.3C452.6,1136.1 454.6,1135.8 456.6,1135.6C458.6,1135.3 460.6,1135.1 462.6,1134.8C464.6,1134.5 466.6,1134.2 468.5,1134.0C470.5,1133.7 472.5,1133.4 474.5,1133.1C476.5,1132.8 478.5,1132.5 480.5,1132.2C482.5,1131.9 484.5,1131.6 486.5,1131.2C488.5,1130.9 490.5,1130.6 492.5,1130.3C494.5,1130.0 496.5,1129.6 498.5,1129.3C500.5,1129.0 502.5,1128.6 504.5,1128.3C506.5,1128.0 508.5,1127.6 510.5,1127.3C512.5,1126.9 514.5,1126.6 516.5,1126.3C518.5,1125.9 520.5,1125.6 522.5,1125.2C524.5,1124.9 526.5,1124.6 528.5,1124.2C530.5,1123.9 532.5,1123.6 534.5,1123.3C536.5,1122.9 538.5,1122.6 540.5,1122.3C542.4,1122.0 544.4,1121.6 546.4,1121.3C548.4,1121.0 550.4,1120.7 552.4,1120.4C554.4,1120.1 556.4,1119.8 558.4,1119.6C560.4,1119.3 562.4,1119.0 564.4,1118.7C566.4,1118.4 568.4,1118.2 570.4,1117.9C572.4,1117.7 574.4,1117.4 576.4,1117.2C578.4,1116.9 580.4,1116.7 582.4,1116.4C584.4,1116.2 586.4,1116.0 588.4,1115.8C590.4,1115.5 592.4,1115.3 594.4,1115.1C596.4,1114.9 598.4,1114.7 600.4,1114.5C602.4,1114.3 604.4,1114.1 606.4,1113.9C608.4,1113.7 610.4,1113.6 612.4,1113.4C614.4,1113.2 616.3,1113.0 618.3,1112.9C620.3,1112.7 622.3,1112.6 624.3,1112.4C626.3,1112.2 628.3,1112.1 630.3,1112.0C632.3,1111.8 634.3,1111.7 636.3,1111.5C638.3,1111.4 640.3,1111.3 642.3,1111.2C644.3,1111.1 646.3,1110.9 648.3,1110.8C650.3,1110.7 652.3,1110.6 654.3,1110.5C656.3,1110.4 658.3,1110.3 660.3,1110.2C662.3,1110.1 664.3,1110.0 666.3,1110.0C668.3,1109.9 670.3,1109.8 672.3,1109.7C674.3,1109.7 676.3,1109.6 678.3,1109.5C680.3,1109.5 682.3,1109.4 684.3,1109.4C686.3,1109.3 688.3,1109.3 690.2,1109.2C692.2,1109.2 694.2,1109.1 696.2,1109.1C698.2,1109.1 700.2,1109.0 702.2,1109.0C704.2,1109.0 706.2,1109.0 708.2,1108.9C710.2,1108.9 712.2,1108.9 714.2,1108.9C716.2,1108.9 718.2,1108.9 720.2,1108.9C722.2,1108.9 724.2,1108.9 726.2,1108.9C728.2,1108.9 730.2,1108.9 732.2,1108.9C734.2,1108.9 736.2,1108.9 738.2,1109.0C740.2,1109.0 742.2,1109.0 744.2,1109.0C746.2,1109.0 748.2,1109.1 750.2,1109.1C752.2,1109.1 754.2,1109.2 756.2,1109.2C758.2,1109.3 760.2,1109.3 762.2,1109.4C764.1,1109.4 766.1,1109.4 768.1,1109.5C770.1,1109.6 772.1,1109.6 774.1,1109.7C776.1,1109.7 778.1,1109.8 780.1,1109.9C782.1,1109.9 784.1,1110.0 786.1,1110.1C788.1,1110.1 790.1,1110.2 792.1,1110.3C794.1,1110.3 796.1,1110.4 798.1,1110.5C800.1,1110.6 802.1,1110.7 804.1,1110.8C806.1,1110.8 808.1,1110.9 810.1,1111.0C812.1,1111.1 814.1,1111.2 816.1,1111.3C818.1,1111.4 820.1,1111.5 822.1,1111.6C824.1,1111.7 826.1,1111.8 828.1,1111.9C830.1,1112.0 832.1,1112.1 834.1,1112.2C836.1,1112.3 838.0,1112.4 840.0,1112.6C842.0,1112.7 844.0,1112.8 846.0,1112.9C848.0,1113.0 850.0,1113.1 852.0,1113.2C854.0,1113.4 856.0,1113.5 858.0,1113.6C860.0,1113.7 862.0,1113.9 864.0,1114.0C866.0,1114.1 868.0,1114.2 870.0,1114.4C872.0,1114.5 874.0,1114.6 876.0,1114.7C878.0,1114.9 880.0,1115.0 882.0,1115.1C884.0,1115.3 886.0,1115.4 888.0,1115.5C890.0,1115.7 892.0,1115.8 894.0,1116.0C896.0,1116.1 898.0,1116.2 900.0,1116.4C902.0,1116.5 904.0,1116.7 906.0,1116.8C908.0,1116.9 910.0,1117.1 911.9,1117.2C913.9,1117.4 915.9,1117.5 917.9,1117.7C919.9,1117.8 921.9,1118.0 923.9,1118.1C925.9,1118.3 927.9,1118.4 929.9,1118.6C931.9,1118.7 933.9,1118.9 935.9,1119.0C937.9,1119.2 939.9,1119.3 941.9,1119.5C943.9,1119.6 945.9,1119.8 947.9,1119.9C949.9,1120.1 951.9,1120.3 953.9,1120.4C955.9,1120.6 957.9,1120.7 959.9,1120.9C961.9,1121.1 963.9,1121.2 965.9,1121.4C967.9,1121.5 969.9,1121.7 971.9,1121.9C973.9,1122.0 975.9,1122.2 977.9,1122.4C979.9,1122.5 981.9,1122.7 983.9,1122.9C985.8,1123.0 987.8,1123.2 989.8,1123.4C991.8,1123.5 993.8,1123.7 995.8,1123.9C997.8,1124.0 999.8,1124.2 1001.8,1124.4C1003.8,1124.5 1005.8,1124.7 1007.8,1124.9C1009.8,1125.1 1011.8,1125.2 1013.8,1125.4C1015.8,1125.6 1017.8,1125.8 1019.8,1125.9C1021.8,1126.1 1023.8,1126.3 1025.8,1126.4C1027.8,1126.6 1029.8,1126.8 1031.8,1127.0C1033.8,1127.2 1035.8,1127.3 1037.8,1127.5C1039.8,1127.7 1041.8,1127.9 1043.8,1128.0C1045.8,1128.2 1047.8,1128.4 1049.8,1128.6C1051.8,1128.7 1053.8,1128.9 1055.8,1129.1C1057.8,1129.3 1059.8,1129.5 1061.7,1129.6C1063.7,1129.8 1065.7,1130.0 1067.7,1130.2C1069.7,1130.4 1071.7,1130.5 1073.7,1130.7C1075.7,1130.9 1077.7,1131.1 1079.7,1131.3C1081.7,1131.5 1083.7,1131.6 1085.7,1131.8C1087.7,1132.0 1089.7,1132.2 1091.7,1132.4C1093.7,1132.5 1095.7,1132.7 1097.7,1132.9C1099.7,1133.1 1101.7,1133.3 1103.7,1133.5C1105.7,1133.6 1107.7,1133.8 1109.7,1134.0C1111.7,1134.2 1113.7,1134.4 1115.7,1134.5C1117.7,1134.7 1119.7,1134.9 1121.7,1135.1C1123.7,1135.3 1125.7,1135.5 1127.7,1135.6C1129.7,1135.8 1131.7,1136.0 1133.7,1136.2C1135.6,1136.4 1137.6,1136.6 1139.6,1136.7C1141.6,1136.9 1143.6,1137.1 1145.6,1137.3C1147.6,1137.5 1149.6,1137.7 1151.6,1137.8C1153.6,1138.0 1155.6,1138.2 1157.6,1138.4C1159.6,1138.6 1161.6,1138.7 1163.6,1138.9C1165.6,1139.1 1167.6,1139.3 1169.6,1139.5C1171.6,1139.6 1173.6,1139.8 1175.6,1140.0C1177.6,1140.2 1179.6,1140.4 1181.6,1140.5C1183.6,1140.7 1185.6,1140.9 1187.6,1141.0C1189.6,1141.2 1191.6,1141.4 1193.6,1141.6C1195.6,1141.7 1197.6,1141.9 1199.6,1142.0C1201.6,1142.2 1203.6,1142.4 1205.6,1142.5C1207.6,1142.7 1209.5,1142.8 1211.5,1143.0C1213.5,1143.1 1215.5,1143.3 1217.5,1143.4C1219.5,1143.6 1221.5,1143.7 1223.5,1143.8C1225.5,1144.0 1227.5,1144.1 1229.5,1144.2C1231.5,1144.3 1233.5,1144.5 1235.5,1144.6C1237.5,1144.7 1239.5,1144.8 1241.5,1144.9C1243.5,1145.0 1245.5,1145.1 1247.5,1145.2C1249.5,1145.3 1251.5,1145.4 1253.5,1145.5C1255.5,1145.6 1257.5,1145.6 1259.5,1145.7C1261.5,1145.8 1263.5,1145.8 1265.5,1145.9C1267.5,1145.9 1269.5,1146.0 1271.5,1146.0C1273.5,1146.1 1275.5,1146.1 1277.5,1146.1C1279.5,1146.2 1281.5,1146.2 1283.4,1146.2C1285.4,1146.2 1287.4,1146.2 1289.4,1146.2C1291.4,1146.2 1293.4,1146.2 1295.4,1146.1C1297.4,1146.1 1299.4,1146.1 1301.4,1146.0C1303.4,1146.0 1305.4,1145.9 1307.4,1145.9C1309.4,1145.8 1311.4,1145.8 1313.4,1145.7C1315.4,1145.6 1317.4,1145.5 1319.4,1145.4C1321.4,1145.3 1323.4,1145.2 1325.4,1145.1C1327.4,1144.9 1329.4,1144.8 1331.4,1144.7C1333.4,1144.5 1335.4,1144.4 1337.4,1144.2C1339.4,1144.0 1341.4,1143.9 1343.4,1143.7C1345.4,1143.5 1347.4,1143.3 1349.4,1143.1C1351.4,1142.8 1353.4,1142.6 1355.4,1142.4C1357.3,1142.1 1359.3,1141.9 1361.3,1141.6C1363.3,1141.4 1365.3,1141.1 1367.3,1140.8C1369.3,1140.5 1371.3,1140.2 1373.3,1139.9C1375.3,1139.6 1377.3,1139.2 1379.3,1138.9C1381.3,1138.5 1383.3,1138.2 1385.3,1137.8C1387.3,1137.4 1389.3,1137.0 1391.3,1136.6C1393.3,1136.2 1395.3,1135.8 1397.3,1135.4C1399.3,1134.9 1401.3,1134.5 1403.3,1134.0C1405.3,1133.5 1407.3,1133.1 1409.3,1132.6C1411.3,1132.1 1413.3,1131.5 1415.3,1131.0C1417.3,1130.5 1419.3,1129.9 1421.3,1129.4C1423.3,1128.8 1425.3,1128.2 1427.3,1127.6C1429.3,1127.0 1431.2,1126.4 1433.2,1125.8C1435.2,1125.1 1437.2,1124.5 1439.2,1123.8C1441.2,1123.1 1443.2,1122.5 1445.2,1121.8C1447.2,1121.0 1449.2,1120.3 1451.2,1119.6C1453.2,1118.8 1455.2,1118.1 1457.2,1117.3C1459.2,1116.5 1461.2,1115.7 1463.2,1114.9C1465.2,1114.1 1467.2,1113.2 1469.2,1112.4C1471.2,1111.5 1473.2,1110.6 1475.2,1109.7C1477.2,1108.8 1479.2,1107.9 1481.2,1106.9C1483.2,1105.9 1485.2,1104.9 1487.2,1103.9C1489.2,1102.9 1491.2,1101.8 1493.2,1100.7C1495.2,1099.6 1497.2,1098.5 1499.2,1097.3C1501.2,1096.1 1503.2,1094.9 1505.1,1093.7C1507.1,1092.4 1509.1,1091.1 1511.1,1089.8C1513.1,1088.4 1515.1,1087.0 1517.1,1085.6C1519.1,1084.1 1521.1,1082.6 1523.1,1081.0C1525.1,1079.5 1527.1,1077.9 1529.1,1076.2C1531.1,1074.6 1533.1,1072.8 1535.1,1071.1C1537.1,1069.4 1539.1,1067.6 1541.1,1065.9C1543.1,1064.1 1545.1,1062.4 1547.1,1060.6C1549.1,1058.9 1551.1,1057.2 1553.1,1055.5C1555.1,1053.8 1557.1,1052.1 1559.1,1050.5C1561.1,1048.9 1563.1,1047.3 1565.1,1045.8C1567.1,1044.3 1569.1,1042.9 1571.1,1041.6C1573.1,1040.3 1575.1,1039.0 1577.1,1037.8C1579.0,1036.6 1581.0,1035.5 1583.0,1034.5C1585.0,1033.4 1587.0,1032.4 1589.0,1031.5C1591.0,1030.6 1593.0,1029.7 1595.0,1028.8C1597.0,1028.0 1599.0,1027.2 1601.0,1026.5C1603.0,1025.7 1605.0,1025.0 1607.0,1024.4C1609.0,1023.7 1611.0,1023.1 1613.0,1022.4C1615.0,1021.8 1617.0,1021.3 1619.0,1020.7C1621.0,1020.1 1623.0,1019.6 1625.0,1019.0C1627.0,1018.5 1629.0,1018.0 1631.0,1017.5C1633.0,1017.0 1635.0,1016.5 1637.0,1016.0C1639.0,1015.5 1641.0,1015.0 1643.0,1014.5C1645.0,1014.1 1647.0,1013.6 1649.0,1013.1C1651.0,1012.7 1653.0,1012.3 1654.9,1011.8C1656.9,1011.4 1658.9,1011.0 1660.9,1010.6C1662.9,1010.2 1664.9,1009.8 1666.9,1009.4C1668.9,1009.0 1670.9,1008.6 1672.9,1008.3C1674.9,1007.9 1676.9,1007.5 1678.9,1007.2C1680.9,1006.8 1682.9,1006.5 1684.9,1006.2C1686.9,1005.8 1688.9,1005.5 1690.9,1005.2C1692.9,1004.9 1694.9,1004.6 1696.9,1004.3C1698.9,1004.0 1700.9,1003.7 1702.9,1003.4C1704.9,1003.1 1706.9,1002.8 1708.9,1002.6C1710.9,1002.3 1712.9,1002.0 1714.9,1001.8C1716.9,1001.5 1718.9,1001.3 1720.9,1001.0C1722.9,1000.8 1724.9,1000.6 1726.9,1000.4C1728.8,1000.1 1730.8,999.9 1732.8,999.7C1734.8,999.5 1736.8,999.3 1738.8,999.1C1740.8,998.9 1742.8,998.7 1744.8,998.5C1746.8,998.3 1748.8,998.1 1750.8,998.0C1752.8,997.8 1754.8,997.6 1756.8,997.5C1758.8,997.3 1760.8,997.1 1762.8,997.0C1764.8,996.8 1766.8,996.7 1768.8,996.5C1770.8,996.4 1772.8,996.2 1774.8,996.1C1776.8,996.0 1778.8,995.8 1780.8,995.7C1782.8,995.6 1784.8,995.5 1786.8,995.3C1788.8,995.2 1790.8,995.1 1792.8,995.0C1794.8,994.9 1796.8,994.8 1798.8,994.7C1800.8,994.6 1802.7,994.5 1804.7,994.4C1806.7,994.3 1808.7,994.2 1810.7,994.1C1812.7,994.0 1814.7,993.9 1816.7,993.8C1818.7,993.7 1820.7,993.7 1822.7,993.6C1824.7,993.5 1826.7,993.4 1828.7,993.3C1830.7,993.3 1832.7,993.2 1834.7,993.1C1836.7,993.0 1838.7,993.0 1840.7,992.9C1842.7,992.8 1844.7,992.7 1846.7,992.7C1848.7,992.6 1850.7,992.5 1852.7,992.5C1854.7,992.4 1856.7,992.3 1858.7,992.3C1860.7,992.2 1862.7,992.1 1864.7,992.1C1866.7,992.0 1868.7,991.9 1870.7,991.9C1872.7,991.8 1874.7,991.7 1876.6,991.7C1878.6,991.6 1880.6,991.5 1882.6,991.5C1884.6,991.4 1886.6,991.3 1888.6,991.3C1890.6,991.2 1892.6,991.1 1894.6,991.1C1896.6,991.0 1898.6,990.9 1900.6,990.9C1902.6,990.8 1904.6,990.7 1906.6,990.6C1908.6,990.6 1910.6,990.5 1912.6,990.4C1914.6,990.3 1916.6,990.2 1918.6,990.1C1920.6,990.1 1922.6,990.0 1924.6,989.9C1926.6,989.8 1928.6,989.7 1930.6,989.6C1932.6,989.5 1934.6,989.4 1936.6,989.3C1938.6,989.2 1940.6,989.1 1942.6,989.0C1944.6,988.9 1946.6,988.8 1948.6,988.7C1950.5,988.5 1952.5,988.4 1954.5,988.3C1956.5,988.2 1958.5,988.0 1960.5,987.9C1962.5,987.8 1964.5,987.6 1966.5,987.5C1968.5,987.4 1970.5,987.2 1972.5,987.1C1974.5,986.9 1976.5,986.8 1978.5,986.6C1980.5,986.4 1982.5,986.3 1984.5,986.1C1986.5,985.9 1988.5,985.8 1990.5,985.6C1992.5,985.4 1994.5,985.2 1996.5,985.0C1998.5,984.8 2000.5,984.6 2002.5,984.4C2004.5,984.2 2006.5,984.0 2008.5,983.8C2010.5,983.6 2012.5,983.4 2014.5,983.2C2016.5,983.0 2018.5,982.8 2020.5,982.6C2022.5,982.4 2024.4,982.1 2026.4,981.9C2028.4,981.7 2030.4,981.5 2032.4,981.2C2034.4,981.0 2036.4,980.8 2038.4,980.5C2040.4,980.3 2042.4,980.0 2044.4,979.8C2046.4,979.6 2048.4,979.3 2050.4,979.1C2052.4,978.8 2054.4,978.6 2056.4,978.3C2058.4,978.1 2060.4,977.8 2062.4,977.6C2064.4,977.3 2066.4,977.1 2068.4,976.8C2070.4,976.6 2072.4,976.3 2074.4,976.1C2076.4,975.8 2078.4,975.5 2080.4,975.3C2082.4,975.0 2084.4,974.8 2086.4,974.5C2088.4,974.2 2090.4,974.0 2092.4,973.7C2094.4,973.5 2096.4,973.2 2098.3,972.9C2100.3,972.7 2102.3,972.4 2104.3,972.1C2106.3,971.9 2108.3,971.6 2110.3,971.4C2112.3,971.1 2114.3,970.8 2116.3,970.6C2118.3,970.3 2120.3,970.1 2122.3,969.8C2124.3,969.5 2126.3,969.3 2128.3,969.0C2130.3,968.8 2132.3,968.5 2134.3,968.3C2136.3,968.0 2138.3,967.8 2140.3,967.5C2142.3,967.3 2144.3,967.0 2146.3,966.8C2148.3,966.5 2150.3,966.3 2152.3,966.0C2154.3,965.8 2156.3,965.5 2158.3,965.3C2160.3,965.1 2162.3,964.8 2164.3,964.6C2166.3,964.4 2168.3,964.1 2170.3,963.9C2172.2,963.7 2174.2,963.4 2176.2,963.2C2178.2,963.0 2180.2,962.8 2182.2,962.6C2184.2,962.4 2186.2,962.1 2188.2,961.9C2190.2,961.7 2192.2,961.5 2194.2,961.3C2196.2,961.1 2198.2,960.9 2200.2,960.7C2202.2,960.5 2204.2,960.3 2206.2,960.2C2208.2,960.0 2210.2,959.8 2212.2,959.6C2214.2,959.4 2216.2,959.3 2218.2,959.1C2220.2,958.9 2222.2,958.8 2224.2,958.6C2226.2,958.5 2228.2,958.3 2230.2,958.2C2232.2,958.0 2234.2,957.9 2236.2,957.8C2238.2,957.6 2240.2,957.5 2242.2,957.4C2244.2,957.2 2246.2,957.1 2248.1,957.0C2250.1,956.9 2252.1,956.8 2254.1,956.7C2256.1,956.6 2258.1,956.5 2260.1,956.4C2262.1,956.3 2264.1,956.3 2266.1,956.2C2268.1,956.1 2270.1,956.0 2272.1,956.0C2274.1,955.9 2276.1,955.9 2278.1,955.8C2280.1,955.8 2282.1,955.7 2284.1,955.7C2286.1,955.7 2288.1,955.7 2290.1,955.7C2292.1,955.6 2294.1,955.6 2296.1,955.6C2298.1,955.6 2300.1,955.6 2302.1,955.7C2304.1,955.7 2306.1,955.7 2308.1,955.7C2310.1,955.8 2312.1,955.8 2314.1,955.9C2316.1,955.9 2318.1,956.0 2320.1,956.1C2322.0,956.1 2324.0,956.2 2326.0,956.3C2328.0,956.4 2330.0,956.5 2332.0,956.6C2334.0,956.7 2336.0,956.8 2338.0,956.9C2340.0,957.1 2342.0,957.2 2344.0,957.4C2346.0,957.5 2348.0,957.7 2350.0,957.8C2352.0,957.9 2355.0,958.0 2356.0,958.0" fill="none" stroke="#1cf51c" stroke-width="9.6" stroke-linecap="round" stroke-linejoin="round"/>
<path d="M2358.5,1343.0C2357.5,1343.2 2354.7,1343.6 2352.7,1343.9C2350.7,1344.3 2348.7,1344.6 2346.7,1344.9C2344.7,1345.2 2342.7,1345.6 2340.7,1345.9C2338.7,1346.2 2336.7,1346.5 2334.7,1346.8C2332.7,1347.1 2330.7,1347.4 2328.7,1347.6C2326.7,1347.9 2324.7,1348.2 2322.7,1348.5C2320.7,1348.7 2318.7,1349.0 2316.7,1349.3C2314.7,1349.5 2312.7,1349.8 2310.7,1350.0C2308.7,1350.3 2306.7,1350.5 2304.7,1350.7C2302.7,1351.0 2300.7,1351.2 2298.7,1351.4C2296.7,1351.6 2294.7,1351.9 2292.7,1352.1C2290.7,1352.3 2288.7,1352.5 2286.7,1352.7C2284.7,1352.9 2282.7,1353.1 2280.7,1353.3C2278.7,1353.5 2276.7,1353.7 2274.7,1353.8C2272.7,1354.0 2270.7,1354.2 2268.7,1354.4C2266.7,1354.5 2264.7,1354.7 2262.7,1354.9C2260.7,1355.0 2258.7,1355.2 2256.7,1355.3C2254.7,1355.5 2252.7,1355.6 2250.7,1355.8C2248.7,1355.9 2246.7,1356.0 2244.7,1356.2C2242.7,1356.3 2240.7,1356.4 2238.7,1356.6C2236.7,1356.7 2234.7,1356.8 2232.7,1356.9C2230.7,1357.1 2228.7,1357.2 2226.7,1357.3C2224.7,1357.4 2222.7,1357.5 2220.7,1357.6C2218.7,1357.7 2216.7,1357.8 2214.7,1357.9C2212.7,1358.0 2210.7,1358.1 2208.7,1358.2C2206.7,1358.3 2204.7,1358.4 2202.7,1358.4C2200.7,1358.5 2198.7,1358.6 2196.7,1358.7C2194.7,1358.8 2192.7,1358.8 2190.7,1358.9C2188.7,1359.0 2186.7,1359.0 2184.7,1359.1C2182.7,1359.2 2180.7,1359.2 2178.7,1359.3C2176.7,1359.4 2174.7,1359.4 2172.7,1359.5C2170.7,1359.5 2168.7,1359.6 2166.7,1359.6C2164.7,1359.7 2162.7,1359.7 2160.7,1359.8C2158.7,1359.8 2156.7,1359.9 2154.7,1359.9C2152.7,1360.0 2150.7,1360.0 2148.7,1360.0C2146.7,1360.1 2144.7,1360.1 2142.7,1360.2C2140.7,1360.2 2138.7,1360.2 2136.7,1360.3C2134.7,1360.3 2132.7,1360.3 2130.7,1360.4C2128.7,1360.4 2126.7,1360.4 2124.7,1360.4C2122.7,1360.5 2120.7,1360.5 2118.7,1360.5C2116.7,1360.6 2114.7,1360.6 2112.7,1360.6C2110.7,1360.6 2108.7,1360.7 2106.7,1360.7C2104.7,1360.7 2102.7,1360.7 2100.7,1360.7C2098.7,1360.8 2096.7,1360.8 2094.7,1360.8C2092.7,1360.8 2090.7,1360.9 2088.7,1360.9C2086.7,1360.9 2084.7,1360.9 2082.7,1360.9C2080.7,1360.9 2078.7,1361.0 2076.7,1361.0C2074.7,1361.0 2072.7,1361.0 2070.7,1361.0C2068.7,1361.0 2066.7,1361.1 2064.7,1361.1C2062.7,1361.1 2060.7,1361.1 2058.7,1361.1C2056.7,1361.1 2054.7,1361.1 2052.7,1361.1C2050.7,1361.1 2048.7,1361.1 2046.7,1361.2C2044.7,1361.2 2042.7,1361.2 2040.7,1361.2C2038.7,1361.2 2036.7,1361.2 2034.7,1361.2C2032.7,1361.2 2030.7,1361.2 2028.7,1361.2C2026.7,1361.2 2024.7,1361.1 2022.7,1361.1C2020.7,1361.1 2018.7,1361.1 2016.7,1361.1C2014.7,1361.1 2012.7,1361.1 2010.7,1361.1C2008.7,1361.0 2006.7,1361.0 2004.7,1361.0C2002.7,1361.0 2000.7,1361.0 1998.7,1360.9C1996.7,1360.9 1994.7,1360.9 1992.7,1360.9C1990.7,1360.8 1988.7,1360.8 1986.8,1360.8C1984.8,1360.7 1982.8,1360.7 1980.8,1360.6C1978.8,1360.6 1976.8,1360.6 1974.8,1360.5C1972.8,1360.5 1970.8,1360.4 1968.8,1360.4C1966.8,1360.3 1964.8,1360.3 1962.8,1360.2C1960.8,1360.1 1958.8,1360.1 1956.8,1360.0C1954.8,1359.9 1952.8,1359.9 1950.8,1359.8C1948.8,1359.7 1946.8,1359.7 1944.8,1359.6C1942.8,1359.5 1940.8,1359.4 1938.8,1359.3C1936.8,1359.3 1934.8,1359.2 1932.8,1359.1C1930.8,1359.0 1928.8,1358.9 1926.8,1358.8C1924.8,1358.7 1922.8,1358.6 1920.8,1358.5C1918.8,1358.4 1916.8,1358.3 1914.8,1358.2C1912.8,1358.0 1910.8,1357.9 1908.8,1357.8C1906.8,1357.7 1904.8,1357.6 1902.8,1357.4C1900.8,1357.3 1898.8,1357.2 1896.8,1357.0C1894.8,1356.9 1892.8,1356.7 1890.8,1356.6C1888.8,1356.4 1886.8,1356.3 1884.8,1356.1C1882.8,1356.0 1880.8,1355.8 1878.8,1355.7C1876.8,1355.5 1874.8,1355.3 1872.8,1355.2C1870.8,1355.0 1868.8,1354.9 1866.8,1354.7C1864.8,1354.5 1862.8,1354.3 1860.8,1354.2C1858.8,1354.0 1856.8,1353.8 1854.8,1353.6C1852.8,1353.5 1850.8,1353.3 1848.8,1353.1C1846.8,1352.9 1844.8,1352.8 1842.8,1352.6C1840.8,1352.4 1838.8,1352.2 1836.8,1352.0C1834.8,1351.9 1832.8,1351.7 1830.8,1351.5C1828.8,1351.3 1826.8,1351.1 1824.8,1351.0C1822.8,1350.8 1820.8,1350.6 1818.8,1350.4C1816.8,1350.3 1814.8,1350.1 1812.8,1349.9C1810.8,1349.7 1808.8,1349.6 1806.8,1349.4C1804.8,1349.2 1802.8,1349.1 1800.8,1348.9C1798.8,1348.7 1796.8,1348.6 1794.8,1348.4C1792.8,1348.3 1790.8,1348.1 1788.8,1347.9C1786.8,1347.8 1784.8,1347.6 1782.8,1347.5C1780.8,1347.3 1778.8,1347.2 1776.8,1347.1C1774.8,1346.9 1772.8,1346.8 1770.8,1346.6C1768.8,1346.5 1766.8,1346.4 1764.8,1346.3C1762.8,1346.1 1760.8,1346.0 1758.8,1345.9C1756.8,1345.8 1754.8,1345.7 1752.8,1345.6C1750.8,1345.5 1748.8,1345.4 1746.8,1345.3C1744.8,1345.2 1742.8,1345.1 1740.8,1345.1C1738.8,1345.0 1736.8,1344.9 1734.8,1344.8C1732.8,1344.8 1730.8,1344.7 1728.8,1344.7C1726.8,1344.6 1724.8,1344.6 1722.8,1344.5C1720.8,1344.5 1718.8,1344.5 1716.8,1344.5C1714.8,1344.4 1712.8,1344.4 1710.8,1344.4C1708.8,1344.4 1706.8,1344.4 1704.8,1344.4C1702.8,1344.4 1700.8,1344.5 1698.8,1344.5C1696.8,1344.5 1694.8,1344.6 1692.8,1344.6C1690.8,1344.7 1688.8,1344.7 1686.8,1344.8C1684.8,1344.8 1682.8,1344.9 1680.8,1345.0C1678.8,1345.1 1676.8,1345.1 1674.8,1345.2C1672.8,1345.3 1670.8,1345.4 1668.8,1345.5C1666.8,1345.6 1664.8,1345.7 1662.8,1345.9C1660.8,1346.0 1658.8,1346.1 1656.8,1346.2C1654.8,1346.4 1652.8,1346.5 1650.8,1346.7C1648.8,1346.8 1646.8,1347.0 1644.8,1347.1C1642.8,1347.3 1640.8,1347.4 1638.8,1347.6C1636.8,1347.8 1634.8,1348.0 1632.8,1348.2C1630.8,1348.3 1628.8,1348.5 1626.8,1348.7C1624.8,1348.9 1622.8,1349.1 1620.8,1349.3C1618.8,1349.5 1616.8,1349.7 1614.8,1350.0C1612.8,1350.2 1610.8,1350.4 1608.8,1350.6C1606.8,1350.9 1604.8,1351.1 1602.8,1351.3C1600.8,1351.6 1598.8,1351.8 1596.8,1352.1C1594.8,1352.3 1592.8,1352.6 1590.8,1352.8C1588.8,1353.1 1586.8,1353.4 1584.8,1353.6C1582.8,1353.9 1580.8,1354.2 1578.8,1354.4C1576.8,1354.7 1574.8,1355.0 1572.8,1355.3C1570.8,1355.6 1568.8,1355.9 1566.8,1356.1C1564.8,1356.4 1562.8,1356.7 1560.8,1357.0C1558.8,1357.3 1556.8,1357.6 1554.8,1357.9C1552.8,1358.2 1550.8,1358.5 1548.8,1358.9C1546.8,1359.2 1544.8,1359.5 1542.8,1359.8C1540.8,1360.1 1538.8,1360.4 1536.8,1360.8C1534.8,1361.1 1532.8,1361.4 1530.8,1361.7C1528.8,1362.0 1526.8,1362.4 1524.8,1362.7C1522.8,1363.0 1520.8,1363.4 1518.8,1363.7C1516.8,1364.0 1514.8,1364.3 1512.8,1364.7C1510.8,1365.0 1508.8,1365.3 1506.8,1365.7C1504.8,1366.0 1502.8,1366.3 1500.8,1366.7C1498.8,1367.0 1496.8,1367.3 1494.8,1367.7C1492.8,1368.0 1490.8,1368.3 1488.8,1368.7C1486.8,1369.0 1484.8,1369.3 1482.8,1369.7C1480.8,1370.0 1478.8,1370.3 1476.8,1370.6C1474.8,1371.0 1472.8,1371.3 1470.8,1371.6C1468.8,1372.0 1466.8,1372.3 1464.8,1372.6C1462.8,1372.9 1460.8,1373.2 1458.8,1373.6C1456.8,1373.9 1454.8,1374.2 1452.8,1374.5C1450.8,1374.8 1448.8,1375.1 1446.8,1375.5C1444.8,1375.8 1442.8,1376.1 1440.8,1376.4C1438.8,1376.7 1436.8,1377.0 1434.8,1377.3C1432.8,1377.6 1430.8,1377.9 1428.8,1378.1C1426.8,1378.4 1424.8,1378.7 1422.8,1379.0C1420.8,1379.3 1418.8,1379.6 1416.8,1379.8C1414.8,1380.1 1412.8,1380.4 1410.8,1380.6C1408.8,1380.9 1406.8,1381.2 1404.8,1381.4C1402.8,1381.7 1400.8,1381.9 1398.8,1382.2C1396.8,1382.4 1394.8,1382.6 1392.8,1382.9C1390.8,1383.1 1388.8,1383.3 1386.8,1383.6C1384.8,1383.8 1382.8,1384.0 1380.8,1384.2C1378.8,1384.4 1376.8,1384.6 1374.8,1384.8C1372.8,1385.0 1370.8,1385.2 1368.8,1385.4C1366.8,1385.6 1364.8,1385.8 1362.8,1386.0C1360.8,1386.2 1358.8,1386.4 1356.8,1386.5C1354.8,1386.7 1352.8,1386.9 1350.8,1387.1C1348.8,1387.2 1346.8,1387.4 1344.8,1387.5C1342.8,1387.7 1340.8,1387.9 1338.8,1388.0C1336.8,1388.1 1334.8,1388.3 1332.8,1388.4C1330.8,1388.6 1328.8,1388.7 1326.8,1388.8C1324.8,1389.0 1322.8,1389.1 1320.8,1389.2C1318.8,1389.4 1316.8,1389.5 1314.8,1389.6C1312.8,1389.7 1310.8,1389.8 1308.8,1389.9C1306.8,1390.1 1304.8,1390.2 1302.8,1390.3C1300.8,1390.4 1298.8,1390.5 1296.8,1390.6C1294.8,1390.7 1292.8,1390.8 1290.8,1390.8C1288.8,1390.9 1286.8,1391.0 1284.8,1391.1C1282.8,1391.2 1280.8,1391.3 1278.8,1391.3C1276.8,1391.4 1274.8,1391.5 1272.8,1391.6C1270.8,1391.6 1268.8,1391.7 1266.8,1391.8C1264.8,1391.8 1262.8,1391.9 1260.8,1392.0C1258.8,1392.0 1256.8,1392.1 1254.8,1392.1C1252.8,1392.2 1250.8,1392.2 1248.8,1392.3C1246.8,1392.3 1244.9,1392.4 1242.9,1392.4C1240.9,1392.5 1238.9,1392.5 1236.9,1392.6C1234.9,1392.6 1232.9,1392.6 1230.9,1392.7C1228.9,1392.7 1226.9,1392.7 1224.9,1392.8C1222.9,1392.8 1220.9,1392.8 1218.9,1392.9C1216.9,1392.9 1214.9,1392.9 1212.9,1392.9C1210.9,1393.0 1208.9,1393.0 1206.9,1393.0C1204.9,1393.0 1202.9,1393.0 1200.9,1393.1C1198.9,1393.1 1196.9,1393.1 1194.9,1393.1C1192.9,1393.1 1190.9,1393.1 1188.9,1393.2C1186.9,1393.2 1184.9,1393.2 1182.9,1393.2C1180.9,1393.2 1178.9,1393.2 1176.9,1393.2C1174.9,1393.2 1172.9,1393.2 1170.9,1393.2C1168.9,1393.2 1166.9,1393.2 1164.9,1393.2C1162.9,1393.2 1160.9,1393.2 1158.9,1393.2C1156.9,1393.2 1154.9,1393.2 1152.9,1393.2C1150.9,1393.2 1148.9,1393.2 1146.9,1393.2C1144.9,1393.2 1142.9,1393.2 1140.9,1393.2C1138.9,1393.2 1136.9,1393.2 1134.9,1393.2C1132.9,1393.2 1130.9,1393.2 1128.9,1393.2C1126.9,1393.2 1124.9,1393.2 1122.9,1393.2C1120.9,1393.2 1118.9,1393.2 1116.9,1393.2C1114.9,1393.2 1112.9,1393.2 1110.9,1393.2C1108.9,1393.2 1106.9,1393.1 1104.9,1393.1C1102.9,1393.1 1100.9,1393.1 1098.9,1393.1C1096.9,1393.1 1094.9,1393.1 1092.9,1393.1C1090.9,1393.1 1088.9,1393.1 1086.9,1393.1C1084.9,1393.1 1082.9,1393.1 1080.9,1393.1C1078.9,1393.1 1076.9,1393.1 1074.9,1393.1C1072.9,1393.1 1070.9,1393.1 1068.9,1393.1C1066.9,1393.1 1064.9,1393.1 1062.9,1393.1C1060.9,1393.1 1058.9,1393.1 1056.9,1393.1C1054.9,1393.1 1052.9,1393.1 1050.9,1393.1C1048.9,1393.2 1046.9,1393.2 1044.9,1393.2C1042.9,1393.2 1040.9,1393.2 1038.9,1393.2C1036.9,1393.2 1034.9,1393.2 1032.9,1393.2C1030.9,1393.2 1028.9,1393.3 1026.9,1393.3C1024.9,1393.3 1022.9,1393.3 1020.9,1393.3C1018.9,1393.3 1016.9,1393.3 1014.9,1393.3C1012.9,1393.4 1010.9,1393.4 1008.9,1393.4C1006.9,1393.4 1004.9,1393.4 1002.9,1393.4C1000.9,1393.4 998.9,1393.5 996.9,1393.5C994.9,1393.5 992.9,1393.5 990.9,1393.5C988.9,1393.5 986.9,1393.6 984.9,1393.6C982.9,1393.6 980.9,1393.6 978.9,1393.6C976.9,1393.6 974.9,1393.6 972.9,1393.7C970.9,1393.7 968.9,1393.7 966.9,1393.7C964.9,1393.7 962.9,1393.7 960.9,1393.8C958.9,1393.8 956.9,1393.8 954.9,1393.8C952.9,1393.8 950.9,1393.8 948.9,1393.8C946.9,1393.9 944.9,1393.9 942.9,1393.9C940.9,1393.9 938.9,1393.9 936.9,1393.9C934.9,1393.9 932.9,1393.9 930.9,1394.0C928.9,1394.0 926.9,1394.0 924.9,1394.0C922.9,1394.0 920.9,1394.0 918.9,1394.0C916.9,1394.0 914.9,1394.0 912.9,1394.0C910.9,1394.0 908.9,1394.0 906.9,1394.0C904.9,1394.1 902.9,1394.1 900.9,1394.1C898.9,1394.1 896.9,1394.1 894.9,1394.1C892.9,1394.1 890.9,1394.1 888.9,1394.1C886.9,1394.1 884.9,1394.1 882.9,1394.1C880.9,1394.1 878.9,1394.1 876.9,1394.1C874.9,1394.0 872.9,1394.0 870.9,1394.0C868.9,1394.0 866.9,1394.0 864.9,1394.0C862.9,1394.0 860.9,1394.0 858.9,1394.0C856.9,1394.0 854.9,1394.0 852.9,1394.0C850.9,1394.0 848.9,1394.0 846.9,1394.0C844.9,1394.1 842.9,1394.1 840.9,1394.1C838.9,1394.1 836.9,1394.1 834.9,1394.2C832.9,1394.2 830.9,1394.2 828.9,1394.3C826.9,1394.3 824.9,1394.4 822.9,1394.4C820.9,1394.5 818.9,1394.6 816.9,1394.6C814.9,1394.7 812.9,1394.8 810.9,1394.9C808.9,1395.0 806.9,1395.1 804.9,1395.2C802.9,1395.3 800.9,1395.5 798.9,1395.6C796.9,1395.7 794.9,1395.9 792.9,1396.0C790.9,1396.2 788.9,1396.4 786.9,1396.6C784.9,1396.7 782.9,1396.9 780.9,1397.2C778.9,1397.4 776.9,1397.6 774.9,1397.8C772.9,1398.1 770.9,1398.4 768.9,1398.6C766.9,1398.9 764.9,1399.2 762.9,1399.5C760.9,1399.8 758.9,1400.1 756.9,1400.5C754.9,1400.8 752.9,1401.1 750.9,1401.5C748.9,1401.9 746.9,1402.2 744.9,1402.6C742.9,1403.0 740.9,1403.4 738.9,1403.8C736.9,1404.2 734.9,1404.6 732.9,1405.1C730.9,1405.5 728.9,1405.9 726.9,1406.4C724.9,1406.8 722.9,1407.3 720.9,1407.7C718.9,1408.2 716.9,1408.7 714.9,1409.2C712.9,1409.6 710.9,1410.1 708.9,1410.6C706.9,1411.1 704.9,1411.6 702.9,1412.1C700.9,1412.6 698.9,1413.1 696.9,1413.6C694.9,1414.1 692.9,1414.6 690.9,1415.1C688.9,1415.6 686.9,1416.1 684.9,1416.7C682.9,1417.2 680.9,1417.7 678.9,1418.2C676.9,1418.7 674.9,1419.3 672.9,1419.8C670.9,1420.3 668.9,1420.8 666.9,1421.3C664.9,1421.8 662.9,1422.4 660.9,1422.9C658.9,1423.4 656.9,1423.9 654.9,1424.4C652.9,1424.9 650.9,1425.4 648.9,1425.9C646.9,1426.4 644.9,1426.9 642.9,1427.4C640.9,1427.9 638.9,1428.3 636.9,1428.8C634.9,1429.3 632.9,1429.8 630.9,1430.2C628.9,1430.7 626.9,1431.1 624.9,1431.6C622.9,1432.0 620.9,1432.5 618.9,1432.9C616.9,1433.3 614.9,1433.7 612.9,1434.2C610.9,1434.6 608.9,1435.0 606.9,1435.4C604.9,1435.8 602.9,1436.2 600.9,1436.6C598.9,1436.9 596.9,1437.3 594.9,1437.7C592.9,1438.1 590.9,1438.4 588.9,1438.8C586.9,1439.1 584.9,1439.5 582.9,1439.8C580.9,1440.2 578.9,1440.5 576.9,1440.9C574.9,1441.2 572.9,1441.5 570.9,1441.8C568.9,1442.2 566.9,1442.5 564.9,1442.8C562.9,1443.1 560.9,1443.4 558.9,1443.7C556.9,1444.0 554.9,1444.3 552.9,1444.6C550.9,1444.8 548.9,1445.1 546.9,1445.4C544.9,1445.7 542.9,1445.9 540.9,1446.2C538.9,1446.5 536.9,1446.7 534.9,1447.0C532.9,1447.2 530.9,1447.5 528.9,1447.7C526.9,1448.0 524.9,1448.2 522.9,1448.5C520.9,1448.7 518.9,1448.9 516.9,1449.2C514.9,1449.4 512.9,1449.6 510.9,1449.8C508.9,1450.0 506.9,1450.3 504.9,1450.5C503.0,1450.7 501.0,1450.9 499.0,1451.1C497.0,1451.3 495.0,1451.5 493.0,1451.7C491.0,1451.9 489.0,1452.1 487.0,1452.3C485.0,1452.5 483.0,1452.6 481.0,1452.8C479.0,1453.0 477.0,1453.2 475.0,1453.4C473.0,1453.5 471.0,1453.7 469.0,1453.9C467.0,1454.1 465.0,1454.2 463.0,1454.4C461.0,1454.6 459.0,1454.7 457.0,1454.9C455.0,1455.0 453.0,1455.2 451.0,1455.4C449.0,1455.5 447.0,1455.7 445.0,1455.8C443.0,1456.0 441.0,1456.1 439.0,1456.3C437.0,1456.4 435.0,1456.6 433.0,1456.7C431.0,1456.9 429.0,1457.0 427.0,1457.2C425.0,1457.3 423.0,1457.5 421.0,1457.6C419.0,1457.7 417.0,1457.9 415.0,1458.0C413.0,1458.2 411.0,1458.3 409.0,1458.5C407.0,1458.6 405.0,1458.7 403.0,1458.9C401.0,1459.0 399.0,1459.2 397.0,1459.3C395.0,1459.4 393.0,1459.6 391.0,1459.7C389.0,1459.9 387.0,1460.0 385.0,1460.1C383.0,1460.3 381.0,1460.4 379.0,1460.6C377.0,1460.7 375.0,1460.9 373.0,1461.0C371.0,1461.1 369.0,1461.3 367.0,1461.4C365.0,1461.6 363.0,1461.7 361.0,1461.9C359.0,1462.0 357.0,1462.2 355.0,1462.4C353.0,1462.5 351.0,1462.7 349.0,1462.8C347.0,1463.0 345.0,1463.1 343.0,1463.3C341.0,1463.5 339.0,1463.6 337.0,1463.8C335.0,1464.0 333.0,1464.1 331.0,1464.3C329.0,1464.5 327.0,1464.7 325.0,1464.8C323.0,1465.0 321.0,1465.2 319.0,1465.4C317.0,1465.6 315.0,1465.7 313.0,1465.9C311.0,1466.1 309.0,1466.3 307.0,1466.5C305.0,1466.7 303.0,1466.9 301.0,1467.1C299.0,1467.3 297.0,1467.5 295.0,1467.8C293.0,1468.0 291.0,1468.2 289.0,1468.4C287.0,1468.6 285.0,1468.9 283.0,1469.1C281.0,1469.3 279.0,1469.6 277.0,1469.8C275.0,1470.0 273.0,1470.3 271.0,1470.5C269.0,1470.8 267.0,1471.0 265.0,1471.3C263.0,1471.6 261.0,1471.8 259.0,1472.1C257.0,1472.4 255.0,1472.7 253.0,1472.9C251.0,1473.2 249.0,1473.5 247.0,1473.8C245.0,1474.1 243.0,1474.4 241.0,1474.7C239.0,1475.0 237.0,1475.3 235.0,1475.7C233.0,1476.0 231.0,1476.3 229.0,1476.7C227.0,1477.0 225.0,1477.3 223.0,1477.7C221.0,1478.0 219.0,1478.4 217.0,1478.7C215.0,1479.1 213.0,1479.5 211.0,1479.9C209.0,1480.2 207.0,1480.6 205.0,1481.0C203.0,1481.4 201.0,1481.8 199.0,1482.3C197.0,1482.7 195.0,1483.1 193.0,1483.6C191.0,1484.0 189.0,1484.5 187.0,1485.0C185.0,1485.4 183.0,1485.9 181.0,1486.4C179.0,1486.9 177.0,1487.4 175.0,1488.0C173.0,1488.5 171.0,1489.1 169.0,1489.6C167.0,1490.2 165.0,1490.8 163.0,1491.4C161.0,1492.0 159.0,1492.6 157.0,1493.2C155.0,1493.9 153.0,1494.5 151.0,1495.2C149.0,1495.9 147.0,1496.6 145.0,1497.3C143.0,1498.0 140.8,1498.6 139.0,1499.5C137.2,1500.4 134.8,1499.7 134.0,1502.7C133.2,1505.7 133.2,1515.1 134.0,1517.5C134.8,1519.9 137.2,1517.1 139.0,1517.0C140.8,1516.8 143.0,1516.7 145.0,1516.6C147.0,1516.5 149.0,1516.4 151.0,1516.3C153.0,1516.2 155.0,1516.1 157.0,1516.0C159.0,1516.0 160.9,1515.9 162.9,1515.8C164.9,1515.7 166.9,1515.7 168.9,1515.6C170.9,1515.6 172.9,1515.5 174.9,1515.5C176.9,1515.4 178.9,1515.4 180.9,1515.3C182.9,1515.3 184.9,1515.3 186.9,1515.3C188.9,1515.2 190.9,1515.2 192.9,1515.2C194.9,1515.2 196.9,1515.2 198.9,1515.2C200.9,1515.2 202.9,1515.2 204.9,1515.2C206.9,1515.2 208.9,1515.2 210.9,1515.2C212.9,1515.3 214.9,1515.3 216.8,1515.3C218.8,1515.3 220.8,1515.4 222.8,1515.4C224.8,1515.4 226.8,1515.5 228.8,1515.5C230.8,1515.6 232.8,1515.6 234.8,1515.7C236.8,1515.7 238.8,1515.8 240.8,1515.9C242.8,1515.9 244.8,1516.0 246.8,1516.1C248.8,1516.1 250.8,1516.2 252.8,1516.3C254.8,1516.4 256.8,1516.5 258.8,1516.6C260.8,1516.6 262.8,1516.7 264.8,1516.8C266.8,1516.9 268.8,1517.0 270.8,1517.1C272.7,1517.2 274.7,1517.3 276.7,1517.4C278.7,1517.5 280.7,1517.7 282.7,1517.8C284.7,1517.9 286.7,1518.0 288.7,1518.1C290.7,1518.2 292.7,1518.4 294.7,1518.5C296.7,1518.6 298.7,1518.7 300.7,1518.9C302.7,1519.0 304.7,1519.1 306.7,1519.3C308.7,1519.4 310.7,1519.6 312.7,1519.7C314.7,1519.8 316.7,1520.0 318.7,1520.1C320.7,1520.3 322.7,1520.4 324.7,1520.6C326.7,1520.7 328.6,1520.9 330.6,1521.0C332.6,1521.2 334.6,1521.3 336.6,1521.5C338.6,1521.7 340.6,1521.8 342.6,1522.0C344.6,1522.1 346.6,1522.3 348.6,1522.5C350.6,1522.6 352.6,1522.8 354.6,1523.0C356.6,1523.1 358.6,1523.3 360.6,1523.5C362.6,1523.7 364.6,1523.8 366.6,1524.0C368.6,1524.2 370.6,1524.4 372.6,1524.6C374.6,1524.7 376.6,1524.9 378.6,1525.1C380.6,1525.3 382.6,1525.5 384.5,1525.7C386.5,1525.9 388.5,1526.1 390.5,1526.3C392.5,1526.5 394.5,1526.7 396.5,1526.9C398.5,1527.1 400.5,1527.3 402.5,1527.5C404.5,1527.7 406.5,1527.9 408.5,1528.1C410.5,1528.3 412.5,1528.5 414.5,1528.7C416.5,1528.9 418.5,1529.1 420.5,1529.4C422.5,1529.6 424.5,1529.8 426.5,1530.0C428.5,1530.2 430.5,1530.5 432.5,1530.7C434.5,1530.9 436.5,1531.1 438.5,1531.4C440.4,1531.6 442.4,1531.8 444.4,1532.1C446.4,1532.3 448.4,1532.5 450.4,1532.8C452.4,1533.0 454.4,1533.3 456.4,1533.5C458.4,1533.8 460.4,1534.0 462.4,1534.3C464.4,1534.5 466.4,1534.8 468.4,1535.0C470.4,1535.3 472.4,1535.5 474.4,1535.8C476.4,1536.0 478.4,1536.3 480.4,1536.6C482.4,1536.8 484.4,1537.1 486.4,1537.4C488.4,1537.6 490.4,1537.9 492.4,1538.1C494.3,1538.4 496.3,1538.7 498.3,1538.9C500.3,1539.2 502.3,1539.5 504.3,1539.7C506.3,1540.0 508.3,1540.2 510.3,1540.5C512.3,1540.7 514.3,1540.9 516.3,1541.2C518.3,1541.4 520.3,1541.6 522.3,1541.8C524.3,1542.0 526.3,1542.3 528.3,1542.4C530.3,1542.6 532.3,1542.8 534.3,1543.0C536.3,1543.2 538.3,1543.3 540.3,1543.5C542.3,1543.6 544.3,1543.7 546.3,1543.8C548.3,1543.9 550.2,1544.0 552.2,1544.1C554.2,1544.2 556.2,1544.3 558.2,1544.3C560.2,1544.3 562.2,1544.4 564.2,1544.4C566.2,1544.4 568.2,1544.3 570.2,1544.3C572.2,1544.2 574.2,1544.2 576.2,1544.1C578.2,1544.0 580.2,1543.9 582.2,1543.7C584.2,1543.6 586.2,1543.4 588.2,1543.2C590.2,1543.0 592.2,1542.8 594.2,1542.6C596.2,1542.3 598.2,1542.0 600.2,1541.7C602.2,1541.4 604.2,1541.1 606.1,1540.7C608.1,1540.3 610.1,1539.9 612.1,1539.5C614.1,1539.0 616.1,1538.6 618.1,1538.1C620.1,1537.6 622.1,1537.1 624.1,1536.6C626.1,1536.0 628.1,1535.5 630.1,1534.9C632.1,1534.3 634.1,1533.7 636.1,1533.1C638.1,1532.5 640.1,1531.9 642.1,1531.2C644.1,1530.6 646.1,1529.9 648.1,1529.2C650.1,1528.5 652.1,1527.8 654.1,1527.1C656.1,1526.4 658.1,1525.7 660.1,1525.0C662.0,1524.2 664.0,1523.5 666.0,1522.8C668.0,1522.0 670.0,1521.3 672.0,1520.5C674.0,1519.7 676.0,1519.0 678.0,1518.2C680.0,1517.4 682.0,1516.7 684.0,1515.9C686.0,1515.1 688.0,1514.4 690.0,1513.6C692.0,1512.8 694.0,1512.1 696.0,1511.3C698.0,1510.5 700.0,1509.8 702.0,1509.0C704.0,1508.3 706.0,1507.5 708.0,1506.8C710.0,1506.0 712.0,1505.3 714.0,1504.6C716.0,1503.9 717.9,1503.1 719.9,1502.5C721.9,1501.8 723.9,1501.1 725.9,1500.4C727.9,1499.7 729.9,1499.1 731.9,1498.4C733.9,1497.8 735.9,1497.2 737.9,1496.6C739.9,1496.0 741.9,1495.4 743.9,1494.8C745.9,1494.3 747.9,1493.7 749.9,1493.2C751.9,1492.7 753.9,1492.2 755.9,1491.7C757.9,1491.3 759.9,1490.8 761.9,1490.4C763.9,1489.9 765.9,1489.5 767.9,1489.1C769.9,1488.7 771.8,1488.3 773.8,1487.9C775.8,1487.5 777.8,1487.2 779.8,1486.8C781.8,1486.5 783.8,1486.2 785.8,1485.9C787.8,1485.5 789.8,1485.3 791.8,1485.0C793.8,1484.7 795.8,1484.4 797.8,1484.2C799.8,1483.9 801.8,1483.7 803.8,1483.4C805.8,1483.2 807.8,1483.0 809.8,1482.8C811.8,1482.6 813.8,1482.4 815.8,1482.2C817.8,1482.0 819.8,1481.8 821.8,1481.6C823.8,1481.5 825.8,1481.3 827.7,1481.1C829.7,1481.0 831.7,1480.8 833.7,1480.7C835.7,1480.6 837.7,1480.4 839.7,1480.3C841.7,1480.2 843.7,1480.1 845.7,1479.9C847.7,1479.8 849.7,1479.7 851.7,1479.6C853.7,1479.5 855.7,1479.4 857.7,1479.3C859.7,1479.2 861.7,1479.1 863.7,1479.0C865.7,1478.9 867.7,1478.8 869.7,1478.8C871.7,1478.7 873.7,1478.6 875.7,1478.5C877.7,1478.4 879.7,1478.4 881.7,1478.3C883.6,1478.2 885.6,1478.1 887.6,1478.1C889.6,1478.0 891.6,1477.9 893.6,1477.9C895.6,1477.8 897.6,1477.8 899.6,1477.7C901.6,1477.7 903.6,1477.6 905.6,1477.6C907.6,1477.5 909.6,1477.5 911.6,1477.4C913.6,1477.4 915.6,1477.3 917.6,1477.3C919.6,1477.2 921.6,1477.2 923.6,1477.2C925.6,1477.1 927.6,1477.1 929.6,1477.1C931.6,1477.1 933.6,1477.0 935.6,1477.0C937.6,1477.0 939.5,1477.0 941.5,1477.0C943.5,1476.9 945.5,1476.9 947.5,1476.9C949.5,1476.9 951.5,1476.9 953.5,1476.9C955.5,1476.9 957.5,1476.9 959.5,1476.9C961.5,1476.9 963.5,1476.9 965.5,1476.9C967.5,1476.9 969.5,1476.9 971.5,1476.9C973.5,1476.9 975.5,1477.0 977.5,1477.0C979.5,1477.0 981.5,1477.0 983.5,1477.0C985.5,1477.1 987.5,1477.1 989.5,1477.1C991.5,1477.1 993.5,1477.2 995.4,1477.2C997.4,1477.2 999.4,1477.3 1001.4,1477.3C1003.4,1477.3 1005.4,1477.4 1007.4,1477.4C1009.4,1477.5 1011.4,1477.5 1013.4,1477.6C1015.4,1477.6 1017.4,1477.7 1019.4,1477.7C1021.4,1477.8 1023.4,1477.8 1025.4,1477.9C1027.4,1478.0 1029.4,1478.0 1031.4,1478.1C1033.4,1478.1 1035.4,1478.2 1037.4,1478.3C1039.4,1478.4 1041.4,1478.4 1043.4,1478.5C1045.4,1478.6 1047.4,1478.6 1049.4,1478.7C1051.3,1478.8 1053.3,1478.9 1055.3,1479.0C1057.3,1479.1 1059.3,1479.1 1061.3,1479.2C1063.3,1479.3 1065.3,1479.4 1067.3,1479.5C1069.3,1479.6 1071.3,1479.7 1073.3,1479.8C1075.3,1479.9 1077.3,1480.0 1079.3,1480.1C1081.3,1480.2 1083.3,1480.3 1085.3,1480.4C1087.3,1480.5 1089.3,1480.6 1091.3,1480.8C1093.3,1480.9 1095.3,1481.0 1097.3,1481.1C1099.3,1481.2 1101.3,1481.3 1103.3,1481.5C1105.2,1481.6 1107.2,1481.7 1109.2,1481.8C1111.2,1482.0 1113.2,1482.1 1115.2,1482.2C1117.2,1482.4 1119.2,1482.5 1121.2,1482.6C1123.2,1482.8 1125.2,1482.9 1127.2,1483.1C1129.2,1483.2 1131.2,1483.3 1133.2,1483.5C1135.2,1483.6 1137.2,1483.8 1139.2,1483.9C1141.2,1484.1 1143.2,1484.2 1145.2,1484.4C1147.2,1484.5 1149.2,1484.7 1151.2,1484.9C1153.2,1485.0 1155.2,1485.2 1157.2,1485.3C1159.2,1485.5 1161.1,1485.7 1163.1,1485.8C1165.1,1486.0 1167.1,1486.2 1169.1,1486.4C1171.1,1486.5 1173.1,1486.7 1175.1,1486.9C1177.1,1487.1 1179.1,1487.2 1181.1,1487.4C1183.1,1487.6 1185.1,1487.8 1187.1,1488.0C1189.1,1488.2 1191.1,1488.3 1193.1,1488.5C1195.1,1488.7 1197.1,1488.9 1199.1,1489.1C1201.1,1489.3 1203.1,1489.5 1205.1,1489.7C1207.1,1489.9 1209.1,1490.1 1211.1,1490.3C1213.1,1490.5 1215.1,1490.7 1217.0,1490.9C1219.0,1491.1 1221.0,1491.4 1223.0,1491.6C1225.0,1491.8 1227.0,1492.0 1229.0,1492.3C1231.0,1492.5 1233.0,1492.7 1235.0,1493.0C1237.0,1493.2 1239.0,1493.5 1241.0,1493.8C1243.0,1494.0 1245.0,1494.3 1247.0,1494.6C1249.0,1494.9 1251.0,1495.1 1253.0,1495.4C1255.0,1495.7 1257.0,1496.1 1259.0,1496.4C1261.0,1496.7 1263.0,1497.0 1265.0,1497.4C1267.0,1497.7 1269.0,1498.1 1271.0,1498.4C1272.9,1498.8 1274.9,1499.2 1276.9,1499.6C1278.9,1499.9 1280.9,1500.3 1282.9,1500.8C1284.9,1501.2 1286.9,1501.6 1288.9,1502.1C1290.9,1502.5 1292.9,1503.0 1294.9,1503.4C1296.9,1503.9 1298.9,1504.4 1300.9,1504.9C1302.9,1505.4 1304.9,1506.0 1306.9,1506.5C1308.9,1507.0 1310.9,1507.6 1312.9,1508.2C1314.9,1508.8 1316.9,1509.4 1318.9,1510.0C1320.9,1510.6 1322.9,1511.2 1324.9,1511.9C1326.9,1512.5 1328.8,1513.2 1330.8,1513.9C1332.8,1514.6 1334.8,1515.3 1336.8,1516.1C1338.8,1516.8 1340.8,1517.6 1342.8,1518.3C1344.8,1519.1 1346.8,1519.9 1348.8,1520.8C1350.8,1521.6 1352.8,1522.4 1354.8,1523.3C1356.8,1524.2 1358.8,1525.1 1360.8,1526.0C1362.8,1526.9 1364.8,1527.9 1366.8,1528.8C1368.8,1529.8 1370.8,1530.7 1372.8,1531.7C1374.8,1532.7 1376.8,1533.7 1378.8,1534.7C1380.8,1535.7 1382.8,1536.7 1384.7,1537.7C1386.7,1538.7 1388.7,1539.7 1390.7,1540.7C1392.7,1541.7 1394.7,1542.7 1396.7,1543.7C1398.7,1544.8 1400.7,1545.8 1402.7,1546.8C1404.7,1547.8 1406.7,1548.8 1408.7,1549.7C1410.7,1550.7 1412.7,1551.7 1414.7,1552.7C1416.7,1553.6 1418.7,1554.6 1420.7,1555.5C1422.7,1556.4 1424.7,1557.3 1426.7,1558.2C1428.7,1559.0 1430.7,1559.8 1432.7,1560.6C1434.7,1561.3 1436.7,1562.0 1438.6,1562.7C1440.6,1563.3 1442.6,1563.8 1444.6,1564.3C1446.6,1564.7 1448.6,1565.1 1450.6,1565.3C1452.6,1565.5 1454.6,1565.7 1456.6,1565.7C1458.6,1565.7 1460.6,1565.5 1462.6,1565.3C1464.6,1565.0 1466.6,1564.6 1468.6,1564.0C1470.6,1563.5 1472.6,1562.8 1474.6,1562.0C1476.6,1561.3 1478.6,1560.3 1480.6,1559.3C1482.6,1558.3 1484.6,1557.1 1486.6,1555.8C1488.6,1554.6 1490.6,1553.2 1492.6,1551.7C1494.5,1550.2 1496.5,1548.6 1498.5,1546.9C1500.5,1545.2 1502.5,1543.3 1504.5,1541.4C1506.5,1539.5 1508.5,1537.5 1510.5,1535.4C1512.5,1533.3 1514.5,1531.0 1516.5,1528.7C1518.5,1526.5 1520.5,1524.1 1522.5,1521.7C1524.5,1519.3 1526.5,1516.8 1528.5,1514.4C1530.5,1511.9 1532.5,1509.4 1534.5,1506.9C1536.5,1504.4 1538.5,1501.9 1540.5,1499.5C1542.5,1497.1 1544.5,1494.6 1546.5,1492.3C1548.5,1489.9 1550.4,1487.7 1552.4,1485.4C1554.4,1483.2 1556.4,1481.1 1558.4,1479.0C1560.4,1476.9 1562.4,1474.9 1564.4,1473.0C1566.4,1471.0 1568.4,1469.2 1570.4,1467.3C1572.4,1465.5 1574.4,1463.8 1576.4,1462.1C1578.4,1460.3 1580.4,1458.7 1582.4,1457.1C1584.4,1455.5 1586.4,1453.9 1588.4,1452.4C1590.4,1450.9 1592.4,1449.5 1594.4,1448.0C1596.4,1446.6 1598.4,1445.2 1600.4,1443.9C1602.4,1442.6 1604.4,1441.3 1606.3,1440.0C1608.3,1438.8 1610.3,1437.5 1612.3,1436.3C1614.3,1435.1 1616.3,1434.0 1618.3,1432.8C1620.3,1431.7 1622.3,1430.6 1624.3,1429.5C1626.3,1428.4 1628.3,1427.3 1630.3,1426.3C1632.3,1425.2 1634.3,1424.2 1636.3,1423.2C1638.3,1422.2 1640.3,1421.3 1642.3,1420.3C1644.3,1419.3 1646.3,1418.4 1648.3,1417.5C1650.3,1416.6 1652.3,1415.7 1654.3,1414.8C1656.3,1413.9 1658.3,1413.1 1660.3,1412.3C1662.2,1411.4 1664.2,1410.6 1666.2,1409.8C1668.2,1409.0 1670.2,1408.3 1672.2,1407.5C1674.2,1406.8 1676.2,1406.0 1678.2,1405.3C1680.2,1404.6 1682.2,1403.9 1684.2,1403.2C1686.2,1402.6 1688.2,1401.9 1690.2,1401.3C1692.2,1400.6 1694.2,1400.0 1696.2,1399.4C1698.2,1398.8 1700.2,1398.2 1702.2,1397.6C1704.2,1397.1 1706.2,1396.5 1708.2,1396.0C1710.2,1395.4 1712.2,1394.9 1714.2,1394.4C1716.2,1393.9 1718.1,1393.4 1720.1,1393.0C1722.1,1392.5 1724.1,1392.0 1726.1,1391.6C1728.1,1391.2 1730.1,1390.7 1732.1,1390.3C1734.1,1389.9 1736.1,1389.5 1738.1,1389.1C1740.1,1388.7 1742.1,1388.4 1744.1,1388.0C1746.1,1387.7 1748.1,1387.3 1750.1,1387.0C1752.1,1386.7 1754.1,1386.4 1756.1,1386.1C1758.1,1385.8 1760.1,1385.5 1762.1,1385.2C1764.1,1384.9 1766.1,1384.7 1768.1,1384.4C1770.1,1384.2 1772.0,1383.9 1774.0,1383.7C1776.0,1383.5 1778.0,1383.3 1780.0,1383.1C1782.0,1382.9 1784.0,1382.7 1786.0,1382.5C1788.0,1382.3 1790.0,1382.2 1792.0,1382.0C1794.0,1381.8 1796.0,1381.7 1798.0,1381.6C1800.0,1381.4 1802.0,1381.3 1804.0,1381.2C1806.0,1381.0 1808.0,1380.9 1810.0,1380.8C1812.0,1380.7 1814.0,1380.6 1816.0,1380.6C1818.0,1380.5 1820.0,1380.4 1822.0,1380.3C1824.0,1380.3 1826.0,1380.2 1827.9,1380.1C1829.9,1380.1 1831.9,1380.1 1833.9,1380.0C1835.9,1380.0 1837.9,1379.9 1839.9,1379.9C1841.9,1379.9 1843.9,1379.9 1845.9,1379.9C1847.9,1379.9 1849.9,1379.9 1851.9,1379.9C1853.9,1379.9 1855.9,1379.9 1857.9,1379.9C1859.9,1379.9 1861.9,1379.9 1863.9,1379.9C1865.9,1380.0 1867.9,1380.0 1869.9,1380.0C1871.9,1380.1 1873.9,1380.1 1875.9,1380.1C1877.9,1380.2 1879.9,1380.2 1881.9,1380.3C1883.8,1380.3 1885.8,1380.4 1887.8,1380.4C1889.8,1380.5 1891.8,1380.5 1893.8,1380.6C1895.8,1380.7 1897.8,1380.7 1899.8,1380.8C1901.8,1380.9 1903.8,1380.9 1905.8,1381.0C1907.8,1381.1 1909.8,1381.1 1911.8,1381.2C1913.8,1381.3 1915.8,1381.4 1917.8,1381.4C1919.8,1381.5 1921.8,1381.6 1923.8,1381.7C1925.8,1381.7 1927.8,1381.8 1929.8,1381.9C1931.8,1382.0 1933.8,1382.0 1935.8,1382.1C1937.8,1382.2 1939.7,1382.3 1941.7,1382.3C1943.7,1382.4 1945.7,1382.5 1947.7,1382.6C1949.7,1382.6 1951.7,1382.7 1953.7,1382.8C1955.7,1382.8 1957.7,1382.9 1959.7,1383.0C1961.7,1383.0 1963.7,1383.1 1965.7,1383.2C1967.7,1383.2 1969.7,1383.3 1971.7,1383.3C1973.7,1383.4 1975.7,1383.4 1977.7,1383.5C1979.7,1383.5 1981.7,1383.6 1983.7,1383.6C1985.7,1383.7 1987.7,1383.7 1989.7,1383.7C1991.7,1383.8 1993.7,1383.8 1995.6,1383.8C1997.6,1383.8 1999.6,1383.8 2001.6,1383.8C2003.6,1383.9 2005.6,1383.9 2007.6,1383.9C2009.6,1383.9 2011.6,1383.9 2013.6,1383.9C2015.6,1383.9 2017.6,1383.8 2019.6,1383.8C2021.6,1383.8 2023.6,1383.8 2025.6,1383.8C2027.6,1383.8 2029.6,1383.7 2031.6,1383.7C2033.6,1383.7 2035.6,1383.6 2037.6,1383.6C2039.6,1383.6 2041.6,1383.5 2043.6,1383.5C2045.6,1383.4 2047.6,1383.4 2049.5,1383.3C2051.5,1383.3 2053.5,1383.2 2055.5,1383.2C2057.5,1383.1 2059.5,1383.1 2061.5,1383.0C2063.5,1382.9 2065.5,1382.9 2067.5,1382.8C2069.5,1382.8 2071.5,1382.7 2073.5,1382.6C2075.5,1382.6 2077.5,1382.5 2079.5,1382.4C2081.5,1382.3 2083.5,1382.3 2085.5,1382.2C2087.5,1382.1 2089.5,1382.0 2091.5,1382.0C2093.5,1381.9 2095.5,1381.8 2097.5,1381.7C2099.5,1381.6 2101.5,1381.6 2103.5,1381.5C2105.4,1381.4 2107.4,1381.3 2109.4,1381.2C2111.4,1381.1 2113.4,1381.0 2115.4,1381.0C2117.4,1380.9 2119.4,1380.8 2121.4,1380.7C2123.4,1380.6 2125.4,1380.5 2127.4,1380.4C2129.4,1380.4 2131.4,1380.3 2133.4,1380.2C2135.4,1380.1 2137.4,1380.0 2139.4,1379.9C2141.4,1379.8 2143.4,1379.7 2145.4,1379.7C2147.4,1379.6 2149.4,1379.5 2151.4,1379.4C2153.4,1379.3 2155.4,1379.2 2157.4,1379.2C2159.4,1379.1 2161.3,1379.0 2163.3,1378.9C2165.3,1378.8 2167.3,1378.8 2169.3,1378.7C2171.3,1378.6 2173.3,1378.5 2175.3,1378.5C2177.3,1378.4 2179.3,1378.3 2181.3,1378.2C2183.3,1378.2 2185.3,1378.1 2187.3,1378.0C2189.3,1378.0 2191.3,1377.9 2193.3,1377.9C2195.3,1377.8 2197.3,1377.7 2199.3,1377.7C2201.3,1377.6 2203.3,1377.6 2205.3,1377.5C2207.3,1377.5 2209.3,1377.4 2211.3,1377.4C2213.3,1377.3 2215.3,1377.3 2217.2,1377.3C2219.2,1377.2 2221.2,1377.2 2223.2,1377.2C2225.2,1377.1 2227.2,1377.1 2229.2,1377.1C2231.2,1377.1 2233.2,1377.0 2235.2,1377.0C2237.2,1377.0 2239.2,1377.0 2241.2,1377.0C2243.2,1377.0 2245.2,1377.0 2247.2,1377.0C2249.2,1377.0 2251.2,1377.0 2253.2,1377.0C2255.2,1376.9 2257.2,1376.9 2259.2,1376.9C2261.2,1376.9 2263.2,1376.9 2265.2,1376.9C2267.2,1376.9 2269.2,1376.8 2271.2,1376.8C2273.1,1376.8 2275.1,1376.7 2277.1,1376.7C2279.1,1376.6 2281.1,1376.5 2283.1,1376.4C2285.1,1376.4 2287.1,1376.3 2289.1,1376.2C2291.1,1376.0 2293.1,1375.9 2295.1,1375.8C2297.1,1375.6 2299.1,1375.4 2301.1,1375.3C2303.1,1375.1 2305.1,1374.9 2307.1,1374.6C2309.1,1374.4 2311.1,1374.1 2313.1,1373.8C2315.1,1373.6 2317.1,1373.2 2319.1,1372.9C2321.1,1372.6 2323.1,1372.2 2325.1,1371.8C2327.1,1371.4 2329.0,1371.0 2331.0,1370.5C2333.0,1370.0 2335.0,1369.5 2337.0,1369.0C2339.0,1368.5 2341.0,1367.9 2343.0,1367.3C2345.0,1366.7 2347.1,1366.0 2349.0,1365.4C2350.9,1364.7 2353.6,1363.6 2354.5,1363.3" fill="none" stroke="#1010f0" stroke-width="9.4" stroke-linecap="round" stroke-linejoin="round"/>
<!-- panel labels -->
<text transform="translate(160.61,106.55) scale(0.8899,1)" font-size="87.07" fill="#111">a</text>
<text transform="translate(170.12,568.66) scale(1.0479,1)" font-size="85.51" fill="#111">b</text>
<text transform="translate(173.35,998.87) scale(1.0067,1)" font-size="85.24" fill="#111">c</text>
<text transform="translate(171.77,1323.99) scale(1.0153,1)" font-size="82.79" fill="#111">d</text>
<!-- direction arrow -->
<line x1="2214" y1="161.3" x2="2355" y2="161.3" stroke="#5a5a5a" stroke-width="7" stroke-linecap="round"/>
<polygon points="2177,161.3 2219,150.5 2219,172.3" fill="#080808"/>
<!-- scale bar -->
<g stroke="#262626">
<line x1="1561.3" y1="208.6" x2="1561.3" y2="305.1" stroke-width="3.6"/>
<line x1="1538.8" y1="208.6" x2="1585.7" y2="208.6" stroke-width="4.4"/>
<line x1="1538.8" y1="305.1" x2="1585.7" y2="305.1" stroke-width="4.4"/>
</g>
<text transform="translate(1595.71,294.08) scale(0.9875,1)" font-size="94.21" fill="#111">10 mA</text>
<!-- x axis -->
<line x1="132" y1="1613.6" x2="2361" y2="1613.6" stroke="#bdbdbd" stroke-width="5"/>
<g stroke="#b5b5b5" stroke-width="5">
<line x1="410" y1="1613" x2="410" y2="1630" stroke="#6e6e6e" stroke-width="6"/>
<line x1="689" y1="1613" x2="689" y2="1647"/>
<line x1="968" y1="1613" x2="968" y2="1630"/>
<line x1="1247" y1="1613" x2="1247" y2="1646"/>
<line x1="1525" y1="1613" x2="1525" y2="1630"/>
<line x1="1805" y1="1613" x2="1805" y2="1646"/>
<line x1="2083" y1="1613" x2="2083" y2="1630"/>
</g>
<text transform="translate(33.72,1716.02) scale(1.2504,1)" font-size="95.00" fill="#111">-</text>
<text transform="translate(71.17,1716.68) scale(1.0170,1)" font-size="94.49" fill="#111">2.0</text>
<text transform="translate(583.09,1728.52) scale(1.1641,1)" font-size="95.00" fill="#111">-</text>
<text transform="translate(632.76,1730.05) scale(0.9479,1)" font-size="97.46" fill="#111">1.5</text>
<text transform="translate(1145.59,1723.92) scale(1.2805,1)" font-size="95.00" fill="#111">-</text>
<text transform="translate(1190.55,1726.75) scale(0.9539,1)" font-size="97.03" fill="#111">1.0</text>
<text transform="translate(1684.61,1720.52) scale(1.2762,1)" font-size="95.00" fill="#111">-</text>
<text transform="translate(1736.69,1727.06) scale(0.9878,1)" font-size="96.04" fill="#111">0.5</text>
<text transform="translate(2335.24,1735.06) scale(1.0019,1)" font-size="96.04" fill="#111">0</text>
<text transform="translate(885.28,1861.39) scale(0.9783,1)" font-size="93.55" font-weight="bold" fill="#111">E, V (vs Cp</text>
<text transform="translate(1362.35,1898.00) scale(0.9753,1)" font-size="57.72" font-weight="bold" fill="#111">2</text>
<text transform="translate(1393.84,1860.57) scale(0.9499,1)" font-size="95.31" font-weight="bold" fill="#111">Fe</text>
<text transform="translate(1499.84,1809.91) scale(1.0057,1)" font-size="54.26" font-weight="bold" fill="#111">0/+</text>
<text transform="translate(1580.63,1861.19) scale(0.7979,1)" font-size="95.48" font-weight="bold" fill="#111">)</text>
</g>
</svg>
</body></html>
